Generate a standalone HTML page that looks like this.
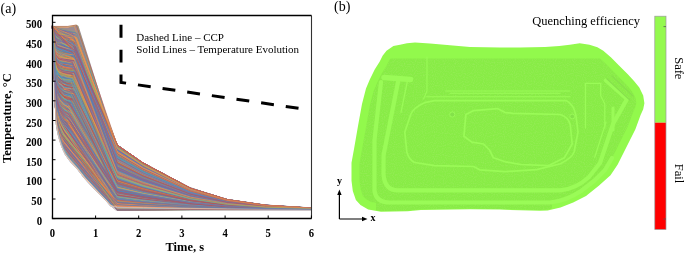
<!DOCTYPE html>
<html><head><meta charset="utf-8"><style>
html,body{margin:0;padding:0;background:#fff;width:685px;height:254px;overflow:hidden}
svg{position:absolute;left:0;top:0;display:block;will-change:transform}
text{font-family:"Liberation Serif",serif}
</style></head><body>
<svg width="685" height="254" viewBox="0 0 685 254">
<text x="0.5" y="12.6" font-size="14">(a)</text>
<path d="M52.3,27.0 L68.0,27.2 L77.0,25.0 L78.5,26.0 L116.3,145.0 L143.0,163.0 L170.0,177.0 L190.0,187.0 L227.0,199.5 L265.0,205.6 L311.0,208.5 L311.0,210.5 L116.0,210.5 L110.2,205.7 L103.9,198.6 L94.4,189.2 L84.0,178.0 L76.9,168.6 L70.6,162.3 L65.0,154.4 L62.0,148.0 L57.9,135.0 L55.5,120.0 L54.6,90.0 L54.0,60.0 L53.3,45.0 L52.3,27.0 Z" fill="#9C8C92"/>
<path d="M57.9,135.0 L62.0,148.0 L65.0,154.4 L70.6,162.3 L76.9,168.6 L84.0,178.0 L94.4,189.2 L103.9,198.6 L110.2,205.7 L115.8,210.3 L118.9,206.6 L113.7,202.1 L107.6,195.3 L107.4,195.0 L98.0,185.7 L87.8,174.8 L80.9,165.6 L80.4,165.1 L74.4,159.1 L69.3,151.9 L66.7,146.2 L62.8,133.8 L60.4,119.2 L55.5,120.0 L57.9,135.0 Z" fill="#D6CED0"/>
<g fill="none" stroke-width="0.6" stroke-linejoin="round">
<path d="M52.4,26.9l1.3,4.5l1.3,8.7l1.7,3.3l2.2,1.1l2.2,.9l3,1.3l3.5,1.4l3.5,1.4l3.9,1.6l42.2,111.7l25.9,13.0l47.5,18.3l36.7,8.2l38,4.0l46.2,2.1" stroke="#4BACC6"/>
<path d="M52.4,26.3l1.3,8.0l1.3,12.1l1.7,5.6l2.2,2.2l2.2,.5l3,.4l3.5,.4l3.5,.4l1.1,.1l45.1,101.5l25.9,14.5l47.5,20.4l36.7,9.1l38,4.5l46.2,2.3" stroke="#8064A2"/>
<path d="M52.4,26.0l1.3,6.7l1.3,12.6l1.7,6.2l2.2,1.2l2.2,.8l3,1.1l3.5,1.2l3.5,1.2l5,1.8l41.1,98.0l25.9,14.6l47.5,20.6l36.7,9.2l38,4.5l46.2,2.3" stroke="#8064A2"/>
<path d="M52.4,26.0l1.3,17.2l1.3,28.5l1.7,13.6l2.2,5.7l2.2,2.7l3,3.3l3.5,.6l3.5,1.7l1.8,.3l44.4,82.9l25.9,7.5l47.5,10.5l36.7,4.7l38,2.3l46.2,1.2" stroke="#4F81BD"/>
<path d="M52.4,26.5l1.3,25.5l1.3,47.0l1.7,23.2l2.9,12.0l1.4,4.1l4.3,6.8l4.3,5.8l4.3,5.4l4.3,5.4l6.5,8.4l6.5,8.0l6.5,8.0l6.5,7.9l6.5,8.1l6.5,7.2l25.9,.0l47.5,.0l36.7,.0l38,.0l46.2,.0" stroke="#C0504D"/>
<path d="M52.4,27.0l1.3,9.8l1.3,18.6l1.7,8.8l2.2,2.0l2.2,2.0l3,.4l3.5,.4l3.5,.4l2,.2l44.2,110.5l25.9,8.1l47.5,11.4l36.7,5.1l38,2.5l46.2,1.3" stroke="#C0504D"/>
<path d="M52.4,26.9l1.3,3.7l1.3,7.1l1.7,2.6l2.2,.8l2.2,.3l3,.4l3.5,.4l3.5,.4l4.5,.5l41.7,122.1l25.9,12.3l47.5,17.4l36.7,7.8l38,3.8l46.2,2.0" stroke="#4BACC6"/>
<path d="M52.4,26.9l1.3,5.8l1.3,12.4l1.7,4.6l2.2,.9l2.2,.5l3,.4l3.5,.4l3.5,.4l1.9,.2l44.3,104.8l25.9,14.5l47.5,20.4l36.7,9.2l38,4.5l46.2,2.3" stroke="#F79646"/>
<path d="M52.4,26.1l1.3,25.8l1.3,46.5l1.7,23.2l2.2,9.7l2.4,7.1l4.1,7.2l4.3,5.4l4.3,5.2l4.3,5.2l6.5,8.0l6.5,7.7l6.5,7.7l6.5,7.6l6.5,7.8l6.5,6.6l25.9,.7l47.5,.9l36.7,.4l38,.2l46.2,.1" stroke="#C0504D"/>
<path d="M52.4,26.6l1.3,25.5l1.3,47.1l1.7,23.1l2.2,9.9l2.2,6.4l1.3,3.5l3,6.1l4.3,5.4l4.3,5.0l4.3,5.0l6.5,7.9l6.5,7.4l6.5,7.4l6.5,7.3l6.5,7.5l6.5,5.8l25.9,.7l47.5,.9l36.7,.4l38,.2l46.2,.1" stroke="#F79646"/>
<path d="M52.4,27.0l1.3,3.7l1.3,7.7l1.7,4.1l2.2,.9l2.2,.5l3,.7l3.5,.8l3.5,.8l3.6,.9l42.6,115.5l25.9,13.0l47.5,18.4l36.7,8.2l38,4.1l46.2,2.1" stroke="#C0504D"/>
<path d="M52.4,26.7l1.3,17.6l1.3,29.8l1.7,15.0l2.2,5.8l2.2,3.2l3,3.7l3.5,.7l2.6,1.1l47.1,87.3l25.9,5.1l47.5,7.2l36.7,3.2l38,1.6l46.2,.8" stroke="#F79646"/>
<path d="M52.4,26.4l1.3,12.5l1.3,19.6l1.7,10.6l2.2,2.8l2.2,.8l3,1.8l3.5,.1l3.5,.1l2.7,.1l43.5,107.3l25.9,7.6l47.5,10.7l36.7,4.8l38,2.4l46.2,1.2" stroke="#8064A2"/>
<path d="M52.4,26.3l1.3,20.2l1.3,37.5l1.7,17.8l2.2,7.3l2.2,3.3l3,4.9l1.8,1.1l51.3,85.2l25.9,1.6l47.5,2.2l36.7,1.0l38,.5l46.2,.3" stroke="#4F81BD"/>
<path d="M52.4,26.8l1.3,10.6l1.3,18.3l1.7,7.8l2.2,2.8l2.2,1.2l3,1.2l3.5,.6l3.5,.6l1.3,.2l44.9,100.1l25.9,10.9l47.5,15.4l36.7,6.9l38,3.4l46.2,1.8" stroke="#F79646"/>
<path d="M52.4,25.9l1.3,13.3l1.3,22.9l1.7,10.7l2.2,2.3l2.2,1.5l3,2.6l3.5,.6l3.5,.6l3.6,.7l42.6,103.4l25.9,6.9l47.5,9.7l36.7,4.4l38,2.1l46.2,1.1" stroke="#9BBB59"/>
<path d="M52.4,26.3l1.3,4.7l1.3,8.8l1.7,3.7l2.2,1.1l2.2,1.1l3,1.6l3.5,1.8l3.5,1.8l3.2,1.7l43,97.4l25.9,16.5l47.5,23.3l36.7,10.5l38,5.1l46.2,2.7" stroke="#C0504D"/>
<path d="M52.4,26.9l1.3,23.3l1.3,44.5l1.7,21.9l2.2,8.7l2.2,5.6l3.5,7.2l52.6,69.2l25.9,.5l47.5,.7l36.7,.3l38,.2l46.2,.1" stroke="#4BACC6"/>
<path d="M52.4,26.8l1.3,.6l1.3,2.0l1.7,.9l2.2,1.1l2.2,1.1l3,1.5l3.5,1.8l3.5,1.8l1.8,.9l44.3,114.9l25.9,15.6l47.5,22.1l36.7,9.9l38,4.9l46.2,2.5" stroke="#C0504D"/>
<path d="M52.4,26.3l1.3,20.0l1.3,35.7l1.7,18.8l2.2,6.6l2.2,4.4l3,3.9l4.2,3.2l48.9,69.4l25.9,5.8l47.5,8.2l36.7,3.7l38,1.8l46.2,.9" stroke="#4F81BD"/>
<path d="M52.4,26.9l1.3,1.3l1.3,2.8l1.7,1.8l2.2,2.2l2.2,2.2l3,3.1l3.5,3.5l3.5,3.5l3,3.1l43.2,97.6l25.9,17.2l47.5,24.2l36.7,10.9l38,5.3l46.2,2.8" stroke="#4BACC6"/>
<path d="M52.4,26.7l1.3,20.8l1.3,37.8l1.7,17.9l2.2,7.3l2.2,5.0l3,3.9l3.5,3.6l2.6,.7l47,75.4l25.9,2.8l47.5,4.0l36.7,1.8l38,.9l46.2,.5" stroke="#8064A2"/>
<path d="M52.4,26.1l1.3,1.4l1.3,2.0l1.7,.9l2.2,1.1l2.2,1.1l3,1.6l3.5,1.8l3.5,1.8l3.2,1.7l42.9,117.2l25.9,14.7l47.5,20.7l36.7,9.3l38,4.6l46.2,2.4" stroke="#F79646"/>
<path d="M52.4,26.1l1.3,21.5l1.3,36.8l1.7,18.2l2.2,7.2l2.2,5.6l3,3.8l2.8,3.0l50.3,78.0l25.9,2.5l47.5,3.5l36.7,1.6l38,.8l46.2,.4" stroke="#4BACC6"/>
<path d="M52.4,26.7l1.3,14.5l1.3,27.7l1.7,13.0l2.2,4.3l2.2,3.7l3,2.6l3.5,.7l3.2,1.3l46.5,84.5l25.9,8.4l47.5,11.9l36.7,5.3l38,2.6l46.2,1.4" stroke="#8064A2"/>
<path d="M52.4,26.6l1.3,16.3l1.3,29.5l1.7,14.3l2.2,6.5l2.2,3.2l3,2.5l3.5,1.9l3.5,.4l1,.6l45.2,90.3l25.9,4.8l47.5,6.7l36.7,3.0l38,1.5l46.2,.8" stroke="#9BBB59"/>
<path d="M52.4,26.5l1.3,19.3l1.3,34.8l1.7,17.5l2.2,5.4l2.2,4.9l3,4.2l3.1,1.6l49.9,83.1l25.9,3.4l47.5,4.7l36.7,2.1l38,1.0l46.2,.5" stroke="#C0504D"/>
<path d="M52.4,26.0l1.3,10.1l1.3,18.0l1.7,8.7l2.2,2.4l2.2,.8l3,.6l3.5,1.0l4.1,.2l45.5,106.7l25.9,9.7l47.5,13.6l36.7,6.1l38,3.0l46.2,1.6" stroke="#C0504D"/>
<path d="M52.4,26.3l1.3,20.2l1.3,34.5l1.7,16.2l2.2,6.8l2.2,5.0l3,3.5l3.5,2.4l2.3,.9l47.4,79.1l25.9,4.0l47.5,5.7l36.7,2.5l38,1.2l46.2,.6" stroke="#4BACC6"/>
<path d="M52.4,26.7l1.3,8.6l1.3,17.4l1.7,7.5l2.2,1.9l2.2,1.6l3,.2l3.5,1.3l3.5,.2l3.3,.2l42.9,111.9l25.9,8.9l47.5,12.5l36.7,5.6l38,2.8l46.2,1.4" stroke="#4F81BD"/>
<path d="M52.4,26.6l1.3,7.5l1.3,14.7l1.7,5.8l2.2,2.3l2.2,.5l3,1.0l3.5,.8l3.5,.8l4.9,1.1l41.3,102.4l25.9,12.8l47.5,18.1l36.7,8.1l38,4.0l46.2,2.1" stroke="#8064A2"/>
<path d="M52.4,26.5l1.3,.9l1.3,2.1l1.7,2.0l2.2,2.5l2.2,2.5l3,3.4l3.5,3.9l3.5,3.9l5.3,6.0l40.9,91.5l25.9,17.9l47.5,25.3l36.7,11.3l38,5.6l46.2,2.9" stroke="#4F81BD"/>
<path d="M52.4,26.0l1.3,5.3l1.3,8.4l1.7,3.4l2.2,1.3l2.2,.7l3,1.0l3.5,1.1l3.5,1.1l5.6,1.8l40.6,114.6l25.9,12.4l47.5,17.5l36.7,7.9l38,3.9l46.2,2.0" stroke="#F79646"/>
<path d="M52.4,26.6l1.3,5.2l1.3,8.9l1.7,5.0l2.2,.9l2.2,.7l3,1.0l3.5,1.2l3.5,1.2l2.2,.7l44,118.9l25.9,10.9l47.5,15.4l36.7,6.9l38,3.4l46.2,1.8" stroke="#4F81BD"/>
<path d="M52.4,26.2l1.3,1.4l1.3,1.9l1.7,1.3l2.2,1.7l2.2,1.7l3,2.3l3.5,2.7l3.5,2.7l1.6,1.3l44.5,105.2l25.9,17.1l47.5,24.1l36.7,10.8l38,5.3l46.2,2.7" stroke="#F79646"/>
<path d="M52.4,26.4l1.3,5.5l1.3,10.7l1.7,4.2l2.2,1.3l2.2,1.3l3,1.9l3.5,2.2l3.5,2.2l5.7,3.6l40.5,103.4l25.9,13.0l47.5,18.3l36.7,8.2l38,4.0l46.2,2.1" stroke="#4BACC6"/>
<path d="M52.4,27.1l1.3,10.7l1.3,17.6l1.7,9.0l2.2,3.2l2.2,2.1l3,.7l3.5,.3l3.5,.2l1.2,.1l45,98.7l25.9,11.1l47.5,15.7l36.7,7.0l38,3.5l46.2,1.8" stroke="#4F81BD"/>
<path d="M52.4,27.0l1.3,7.1l1.3,13.2l1.7,7.2l2.2,1.7l2.2,.4l3,.6l3.5,.7l3.5,.7l4.3,.8l41.9,101.0l25.9,13.7l47.5,19.3l36.7,8.6l38,4.2l46.2,2.2" stroke="#F79646"/>
<path d="M52.4,26.5l1.3,.7l1.3,1.9l1.7,1.0l2.2,1.2l2.2,1.2l3,1.7l3.5,2.0l3.5,2.0l2.8,1.6l43.4,117.3l25.9,14.6l47.5,20.5l36.7,9.2l38,4.5l46.2,2.3" stroke="#F79646"/>
<path d="M52.4,26.1l1.3,7.7l1.3,13.8l1.7,6.1l2.2,1.2l2.2,.8l3,1.1l3.5,1.3l3.5,1.3l2.1,.8l44.1,108.7l25.9,11.3l47.5,15.9l36.7,7.1l38,3.5l46.2,1.8" stroke="#8064A2"/>
<path d="M52.4,26.0l1.3,12.7l1.3,22.7l1.7,10.3l2.2,3.2l2.2,1.0l3,2.2l3.5,.9l3.5,.2l4.3,.3l41.9,92.2l25.9,10.5l47.5,14.8l36.7,6.6l38,3.3l46.2,1.7" stroke="#C0504D"/>
<path d="M52.4,26.3l1.3,7.2l1.3,12.2l1.7,5.9l2.2,1.7l2.2,.6l3,.8l3.5,.3l3.5,.3l2.2,.2l44,112.5l25.9,11.5l47.5,16.3l36.7,7.3l38,3.6l46.2,1.9" stroke="#8064A2"/>
<path d="M52.4,26.1l1.3,5.9l1.3,10.5l1.7,3.8l2.2,1.8l2.2,.4l3,.6l3.5,.7l3.5,.7l1.7,.4l44.5,112.3l25.9,12.9l47.5,18.1l36.7,8.1l38,4.0l46.2,2.1" stroke="#F79646"/>
<path d="M52.4,25.9l.9,16.8l.9,22.0l.9,36.7l1.3,21.9l1.3,8.1l1.7,6.5l1.7,5.5l2.2,5.7l2.2,4.4l4.3,6.2l4.3,4.8l4.3,4.9l6.5,8.5l6.5,7.1l6.5,6.8l6.5,6.6l6.5,7.3l6.5,1.5l25.9,.5l47.5,.7l36.7,.3l38,.1l46.2,.1" stroke="#FBC8A0"/>
<path d="M52.4,26.4l1.3,14.8l1.3,27.6l1.7,12.7l2.2,3.4l2.2,2.1l3,2.6l3.5,.7l3.5,.7l1.8,.9l44.4,98.2l25.9,5.3l47.5,7.5l36.7,3.4l38,1.7l46.2,.9" stroke="#F79646"/>
<path d="M52.4,26.5l1.3,16.1l1.3,30.3l1.7,13.2l2.2,5.8l2.2,1.7l3,3.2l3.5,2.0l2.5,.3l47.2,93.9l25.9,4.5l47.5,6.4l36.7,2.9l38,1.4l46.2,.7" stroke="#C0504D"/>
<path d="M52.4,26.5l1.3,19.0l1.3,34.1l1.7,15.5l2.2,6.1l2.2,3.9l3,4.7l3.5,1.8l1.3,.1l48.4,80.7l25.9,4.7l47.5,6.6l36.7,3.0l38,1.5l46.2,.8" stroke="#4F81BD"/>
<path d="M52.4,26.9l1.3,.4l1.3,1.8l1.7,1.2l2.2,1.5l2.2,1.5l3,2.0l3.5,2.3l3.5,2.3l4.4,3.0l41.8,102.4l25.9,17.9l47.5,25.3l36.7,11.3l38,5.6l46.2,2.9" stroke="#8064A2"/>
<path d="M52.4,26.7l1.3,11.3l1.3,22.1l1.7,9.9l2.2,4.1l2.2,1.4l3,1.6l3.5,1.0l3.9,.4l45.7,107.8l25.9,6.4l47.5,9.1l36.7,4.1l38,2.0l46.2,1.0" stroke="#4BACC6"/>
<path d="M52.4,26.2l1.3,22.1l1.3,39.0l1.7,19.0l2.2,7.1l2.2,4.6l3,4.9l3.5,3.8l1.3,.7l48.3,76.0l25.9,1.6l47.5,2.3l36.7,1.0l38,.5l46.2,.3" stroke="#9BBB59"/>
<path d="M52.4,26.6l1.3,6.3l1.3,10.7l1.7,4.3l2.2,1.2l2.2,.6l3,.8l3.5,.9l3.5,.9l3.5,.9l42.7,120.0l25.9,10.1l47.5,14.2l36.7,6.4l38,3.1l46.2,1.6" stroke="#4BACC6"/>
<path d="M52.4,27.0l1.3,4.2l1.3,8.8l1.7,3.8l2.2,1.0l2.2,.8l3,1.2l3.5,1.3l3.5,1.3l1.5,.6l44.7,113.1l25.9,12.9l47.5,18.2l36.7,8.2l38,4.0l46.2,2.1" stroke="#8064A2"/>
<path d="M52.4,26.3l1.3,10.7l1.3,18.9l1.7,8.6l2.2,3.4l2.2,1.3l3,.4l3.5,1.2l3.5,.5l2.5,.4l43.7,111.1l25.9,7.4l47.5,10.4l36.7,4.7l38,2.3l46.2,1.2" stroke="#C0504D"/>
<path d="M52.4,26.0l1.3,13.3l1.3,23.7l1.7,9.7l2.2,5.6l2.2,.5l3,1.7l3.5,1.1l3.5,.2l46.1,105.5l25.9,6.1l47.5,8.6l36.7,3.9l38,1.9l46.2,1.0" stroke="#C0504D"/>
<path d="M52.4,26.0l1.3,14.9l1.3,26.3l1.7,11.7l2.2,5.2l2.2,1.8l3,2.7l3.5,1.8l3.5,.5l3.5,.5l42.7,87.2l25.9,8.6l47.5,12.1l36.7,5.4l38,2.7l46.2,1.4" stroke="#4F81BD"/>
<path d="M52.4,26.8l1.3,21.9l1.3,41.2l1.7,20.4l2.2,8.4l2.2,5.0l3,5.2l53.1,65.1l25.9,4.3l47.5,6.0l36.7,2.7l38,1.3l46.2,.7" stroke="#8064A2"/>
<path d="M52.4,26.2l1.3,20.7l1.3,36.1l1.7,17.5l2.2,7.5l2.2,3.1l3,5.5l2.9,1.7l50.1,85.1l25.9,1.6l47.5,2.3l36.7,1.0l38,.5l46.2,.3" stroke="#9BBB59"/>
<path d="M52.4,27.0l1.3,19.3l1.3,34.4l1.7,16.7l2.2,6.2l2.2,4.6l3,2.7l3.3,3.1l49.8,87.5l25.9,2.2l47.5,3.1l36.7,1.4l38,.7l46.2,.3" stroke="#4F81BD"/>
<path d="M52.4,26.0l1.3,18.3l1.3,30.1l1.7,15.3l2.2,6.0l2.2,2.7l3,2.4l3.5,3.1l2,.2l47.7,92.9l25.9,3.4l47.5,4.8l36.7,2.2l38,1.1l46.2,.6" stroke="#4BACC6"/>
<path d="M52.4,26.0l1.3,14.0l1.3,26.7l1.7,12.2l2.2,4.4l2.2,2.0l3,2.4l3.5,.7l3.5,.3l2.9,.3l43.3,87.5l25.9,9.1l47.5,12.9l36.7,5.8l38,2.8l46.2,1.5" stroke="#8064A2"/>
<path d="M52.4,26.7l1.3,19.2l1.3,35.0l1.7,17.6l2.2,5.8l2.2,3.7l3,5.1l4,1.9l49.1,80.3l25.9,3.8l47.5,5.4l36.7,2.4l38,1.2l46.2,.6" stroke="#4F81BD"/>
<path d="M52.4,27.1l1.3,13.3l1.3,26.7l1.7,12.1l2.2,5.8l2.2,2.5l3,1.2l3.5,1.6l3.5,.2l2.5,.1l43.7,89.5l25.9,8.2l47.5,11.5l36.7,5.2l38,2.5l46.2,1.3" stroke="#8064A2"/>
<path d="M52.4,26.1l1.3,6.2l1.3,9.7l1.7,3.5l2.2,1.4l2.2,.3l3,.7l3.5,.4l3.5,.4l4.3,.5l41.9,112.0l25.9,13.4l47.5,19.0l36.7,8.5l38,4.2l46.2,2.2" stroke="#4F81BD"/>
<path d="M52.4,26.1l1.3,8.6l1.3,15.8l1.7,7.6l2.2,2.2l2.2,.6l3,.9l3.5,.9l3.5,.9l3.2,.9l43,115.3l25.9,8.2l47.5,11.6l36.7,5.2l38,2.6l46.2,1.3" stroke="#C0504D"/>
<path d="M52.4,26.0l1.3,8.2l1.3,12.1l1.7,5.4l2.2,2.2l2.2,.9l3,1.3l3.5,1.4l3.5,1.4l2.3,1.0l43.9,113.0l25.9,10.1l47.5,14.3l36.7,6.4l38,3.1l46.2,1.6" stroke="#C0504D"/>
<path d="M52.4,25.9l1.3,17.2l1.3,30.4l1.7,15.7l2.2,4.8l2.2,3.5l3,3.2l3.5,.8l3,1.3l46.6,94.0l25.9,3.4l47.5,4.9l36.7,2.2l38,1.1l46.2,.6" stroke="#F79646"/>
<path d="M52.4,26.5l1.3,.1l1.3,.5l1.7,.5l2.2,.6l2.2,.6l3,.8l3.5,.9l3.5,.9l5.1,1.4l41.1,116.0l25.9,16.9l47.5,23.9l36.7,10.7l38,5.3l46.2,2.7" stroke="#8064A2"/>
<path d="M52.4,26.1l1.3,1.9l1.3,3.4l1.7,1.4l2.2,1.8l2.2,1.8l3,2.5l3.5,2.9l3.5,2.9l3.8,3.1l42.4,97.6l25.9,17.9l47.5,25.3l36.7,11.3l38,5.6l46.2,2.9" stroke="#9BBB59"/>
<path d="M52.4,25.9l1.3,24.3l1.3,42.9l1.7,20.4l2.2,9.0l2.2,5.6l3,5.9l2.7,2.8l50.3,59.8l25.9,3.5l47.5,5.0l36.7,2.2l38,1.1l46.2,.6" stroke="#9BBB59"/>
<path d="M52.4,26.4l1.3,22.4l1.3,41.2l1.7,20.6l2.2,8.2l2.2,5.1l2.9,5.9l53.2,78.2l25.9,.3l47.5,.5l36.7,.2l38,.1l46.2,.1" stroke="#F79646"/>
<path d="M52.4,26.8l1.3,13.1l1.3,23.1l1.7,9.4l2.2,4.3l2.2,1.5l3,2.3l3.5,.2l3.5,.2l4.2,.2l42,104.2l25.9,6.7l47.5,9.5l36.7,4.3l38,2.1l46.2,1.1" stroke="#4BACC6"/>
<path d="M52.4,26.2l1.3,2.2l1.3,4.3l1.7,1.2l2.2,1.0l2.2,1.0l3,1.5l3.5,1.7l3.5,1.7l1.6,.8l44.6,112.9l25.9,15.3l47.5,21.7l36.7,9.7l38,4.8l46.2,2.5" stroke="#F79646"/>
<path d="M52.4,25.9l1.3,5.7l1.3,8.4l1.7,4.8l2.2,.7l2.2,.7l3,.9l3.5,1.1l3.5,1.1l4.8,1.5l41.4,116.1l25.9,11.8l47.5,16.7l36.7,7.5l38,3.7l46.2,1.9" stroke="#9BBB59"/>
<path d="M52.4,26.1l1.3,12.3l1.3,22.7l1.7,8.8l2.2,3.7l2.2,1.7l3,2.5l3.5,.7l4,.8l45.6,105.9l25.9,6.7l47.5,9.5l36.7,4.3l38,2.1l46.2,1.1" stroke="#C0504D"/>
<path d="M52.4,27.0l1.3,3.9l1.3,9.1l1.7,4.3l2.2,.7l2.2,.7l3,.9l3.5,1.0l3.5,1.0l4.2,1.3l42,122.1l25.9,10.4l47.5,14.7l36.7,6.6l38,3.2l46.2,1.7" stroke="#F79646"/>
<path d="M52.4,26.1l1.3,26.0l1.3,47.4l1.7,23.5l2.2,9.7l2.2,6.5l.9,2.6l3.4,7.0l4.3,5.3l4.3,4.8l4.3,4.9l6.5,7.7l6.5,7.2l6.5,7.1l6.5,7.0l6.5,7.3l6.5,4.4l25.9,1.3l47.5,1.8l36.7,.8l38,.4l46.2,.2" stroke="#4F81BD"/>
<path d="M52.4,26.8l1.3,5.5l1.3,12.0l1.7,5.0l2.2,1.6l2.2,.8l3,1.1l3.5,1.2l3.5,1.2l1.2,.4l44.9,104.3l25.9,13.8l47.5,19.5l36.7,8.7l38,4.3l46.2,2.2" stroke="#8064A2"/>
<path d="M52.4,26.0l1.3,11.8l1.3,18.3l1.7,9.0l2.2,3.5l2.2,.3l3,.9l3.5,.5l3.5,.5l3.1,.5l43.1,109.2l25.9,8.0l47.5,11.3l36.7,5.1l38,2.5l46.2,1.3" stroke="#F79646"/>
<path d="M52.4,26.4l1.3,1.1l1.3,2.4l1.7,1.5l2.2,1.8l2.2,1.8l3,2.6l3.5,2.9l3.5,2.9l3.3,2.8l42.9,99.3l25.9,17.8l47.5,25.1l36.7,11.3l38,5.5l46.2,2.9" stroke="#4BACC6"/>
<path d="M52.4,25.9l1.3,14.7l1.3,25.3l1.7,12.1l2.2,2.8l2.2,2.8l3,1.8l3.5,.3l3.3,1.7l46.3,93.7l25.9,7.9l47.5,11.1l36.7,5.0l38,2.4l46.2,1.3" stroke="#8064A2"/>
<path d="M52.4,26.5l1.3,13.7l1.3,28.5l1.7,11.9l2.2,3.8l2.2,2.7l3,3.7l3.5,.8l3.5,.3l1,.1l45.2,89.8l25.9,7.6l47.5,10.8l36.7,4.8l38,2.4l46.2,1.2" stroke="#8064A2"/>
<path d="M52.4,26.6l1.3,13.8l1.3,23.1l1.7,11.3l2.2,3.6l2.2,3.2l3,1.3l3.5,.7l3.5,.7l3.5,.7l42.7,98.3l25.9,7.2l47.5,10.2l36.7,4.6l38,2.3l46.2,1.2" stroke="#C0504D"/>
<path d="M52.4,26.2l1.3,1.8l1.3,3.8l1.7,1.4l2.2,1.8l2.2,1.8l3,2.5l3.5,2.9l3.5,2.9l2.4,1.9l43.8,108.3l25.9,15.1l47.5,21.3l36.7,9.5l38,4.7l46.2,2.4" stroke="#4F81BD"/>
<path d="M52.4,26.3l1.3,9.6l1.3,16.7l1.7,7.0l2.2,1.8l2.2,.8l3,1.9l3.5,.4l4.2,.5l45.5,116.9l25.9,7.6l47.5,10.8l36.7,4.8l38,2.4l46.2,1.2" stroke="#8064A2"/>
<path d="M52.4,26.0l1.3,13.3l1.3,23.3l1.7,9.3l2.2,5.3l2.2,1.9l3,.2l3.5,.5l3.5,.6l3,.2l43.2,92.4l25.9,10.1l47.5,14.3l36.7,6.4l38,3.1l46.2,1.6" stroke="#4F81BD"/>
<path d="M52.4,26.0l1.3,25.8l1.3,47.0l1.7,23.2l2.2,9.7l2.2,5.9l1.8,4.7l2.5,4.8l4.3,5.3l4.3,5.0l4.3,5.0l6.5,7.8l6.5,7.5l6.5,7.4l6.5,7.3l6.5,7.5l6.5,6.1l25.9,.9l47.5,1.3l36.7,.6l38,.3l46.2,.1" stroke="#8064A2"/>
<path d="M52.4,26.6l1.3,25.7l1.3,49.2l1.7,24.1l2.2,10.2l1.8,5.4l4.7,10.9l4.3,5.8l4.3,4.8l4.3,4.9l6.5,8.2l6.5,7.2l6.5,7.0l6.5,6.8l6.5,7.3l6.5,3.8l25.9,.4l47.5,.6l36.7,.3l38,.1l46.2,.1" stroke="#C0504D"/>
<path d="M52.4,26.8l1.3,1.7l1.3,4.4l1.7,1.5l2.2,.9l2.2,.9l3,1.2l3.5,1.4l3.5,1.4l1.9,.8l44.3,121.5l25.9,13.1l47.5,18.4l36.7,8.3l38,4.1l46.2,2.1" stroke="#4F81BD"/>
<path d="M52.4,26.1l1.3,25.5l1.3,44.9l1.7,22.4l2.2,9.4l2.7,8.0l55.6,72.5l25.9,.2l47.5,.2l36.7,.1l38,.1l46.2,.0" stroke="#F79646"/>
<path d="M52.4,25.9l1.3,18.4l1.3,32.1l1.7,15.6l2.2,5.9l2.2,2.3l3,3.9l3.5,2.4l1.7,.3l48,79.8l25.9,6.3l47.5,8.9l36.7,4.0l38,2.0l46.2,1.0" stroke="#4F81BD"/>
<path d="M52.4,26.1l1.3,22.4l1.3,39.4l1.7,19.7l2.2,7.4l2.2,4.2l3,6.1l1.6,.9l51.5,71.4l25.9,3.2l47.5,4.6l36.7,2.0l38,1.0l46.2,.5" stroke="#C0504D"/>
<path d="M52.4,26.8l1.3,14.2l1.3,28.2l1.7,14.0l2.2,3.7l2.2,3.0l3,2.0l3.5,.6l3.5,2.0l3.2,.4l42.9,88.7l25.9,7.2l47.5,10.1l36.7,4.5l38,2.2l46.2,1.2" stroke="#F79646"/>
<path d="M52.4,26.5l1.3,24.2l1.3,44.4l1.7,21.5l2.2,9.1l2.2,6.1l3,5.6l53.2,63.1l25.9,2.4l47.5,3.4l36.7,1.5l38,.8l46.2,.4" stroke="#4F81BD"/>
<path d="M52.4,27.0l1.3,4.2l1.3,9.4l1.7,4.6l2.2,1.0l2.2,.4l3,.2l3.5,.3l3.5,.3l2.5,.2l43.7,110.0l25.9,14.4l47.5,20.3l36.7,9.1l38,4.5l46.2,2.3" stroke="#8064A2"/>
<path d="M52.4,26.0l1.3,19.0l1.3,33.3l1.7,16.0l2.2,7.2l2.2,3.9l3,3.3l3.5,2.1l3,1.4l46.6,75.7l25.9,6.0l47.5,8.4l36.7,3.8l38,1.9l46.2,1.0" stroke="#4F81BD"/>
<path d="M52.4,26.9l1.3,22.8l1.3,42.3l1.7,20.1l2.2,8.4l2.2,5.9l3.1,5.4l53,77.9l25.9,-.1l47.5,-.2l36.7,-.1l38,-.0l46.2,-.0" stroke="#F79646"/>
<path d="M52.4,25.9l1.3,24.3l1.3,43.5l1.7,21.5l2.2,8.3l2.2,5.8l3,6.1l2.1,3.0l51,67.2l25.9,1.0l47.5,1.4l36.7,.6l38,.3l46.2,.2" stroke="#8064A2"/>
<path d="M52.4,27.0l.9,17.1l.9,22.0l.9,36.7l1.3,21.9l1.3,8.1l1.7,6.5l1.7,5.5l2.2,5.6l2.2,4.4l4.3,6.1l4.3,4.7l4.3,4.8l6.5,8.4l6.5,7.0l6.5,6.7l6.5,6.5l6.5,7.2l6.5,.2l25.9,.8l47.5,1.2l36.7,.5l38,.3l46.2,.1" stroke="#A8D8E6"/>
<path d="M52.4,26.6l1.3,23.2l1.3,42.0l1.7,20.2l2.2,8.7l2.2,4.6l2.6,5.1l53.5,64.5l25.9,4.0l47.5,5.6l36.7,2.5l38,1.2l46.2,.6" stroke="#4F81BD"/>
<path d="M52.4,26.0l1.3,14.4l1.3,27.1l1.7,12.4l2.2,4.6l2.2,3.7l3,2.0l3.5,.5l3.5,.2l1.5,.1l44.7,90.1l25.9,7.8l47.5,11.1l36.7,5.0l38,2.4l46.2,1.3" stroke="#C0504D"/>
<path d="M52.4,26.4l1.3,11.5l1.3,19.4l1.7,10.8l2.2,3.1l2.2,1.9l3,1.2l3.5,.1l3.5,.1l1.4,.0l44.8,104.2l25.9,8.5l47.5,12.0l36.7,5.4l38,2.7l46.2,1.4" stroke="#4BACC6"/>
<path d="M52.4,27.0l1.3,17.2l1.3,33.9l1.7,16.9l2.2,5.7l2.2,4.2l3,2.9l3.5,3.0l2.6,.2l47,84.0l25.9,4.0l47.5,5.6l36.7,2.5l38,1.2l46.2,.6" stroke="#F79646"/>
<path d="M52.4,26.3l1.3,24.7l1.3,45.1l1.7,21.9l2.2,9.4l2.2,6.0l3,6.3l1.1,1.4l52,68.8l25.9,-.2l47.5,-.3l36.7,-.1l38,-.1l46.2,-.0" stroke="#F79646"/>
<path d="M52.4,26.8l1.3,-.2l1.3,1.3l1.7,1.8l2.2,2.2l2.2,2.2l3,3.1l3.5,3.6l3.5,3.6l1.8,1.8l44.4,98.8l25.9,17.9l47.5,25.3l36.7,11.3l38,5.6l46.2,2.9" stroke="#4F81BD"/>
<path d="M52.4,26.3l1.3,15.2l1.3,28.1l1.7,12.2l2.2,4.3l2.2,2.9l3,3.4l3.5,1.5l3.5,.3l1.3,.1l44.8,89.7l25.9,7.0l47.5,9.9l36.7,4.4l38,2.2l46.2,1.1" stroke="#4F81BD"/>
<path d="M52.4,26.1l1.3,1.8l1.3,2.6l1.7,1.1l2.2,1.4l2.2,1.4l3,2.0l3.5,2.2l3.5,2.2l3.9,2.5l42.3,111.3l25.9,15.3l47.5,21.5l36.7,9.7l38,4.7l46.2,2.5" stroke="#C0504D"/>
<path d="M52.4,26.7l1.3,6.8l1.3,11.1l1.7,6.3l2.2,1.2l2.2,.6l3,.9l3.5,1.0l3.5,1.0l3.8,1.1l42.4,108.8l25.9,12.2l47.5,17.2l36.7,7.7l38,3.8l46.2,2.0" stroke="#4F81BD"/>
<path d="M52.4,26.9l1.3,10.0l1.3,18.6l1.7,9.2l2.2,2.5l2.2,.9l3,1.9l3.5,.4l3.5,.4l3.5,.4l42.7,106.7l25.9,8.7l47.5,12.3l36.7,5.5l38,2.7l46.2,1.4" stroke="#F79646"/>
<path d="M52.4,26.3l1.3,13.6l1.3,23.8l1.7,10.6l2.2,4.0l2.2,3.1l3,.5l3.5,.6l3.5,.9l2.1,.3l44.1,94.4l25.9,8.7l47.5,12.3l36.7,5.5l38,2.7l46.2,1.4" stroke="#C0504D"/>
<path d="M52.4,26.3l1.3,7.4l1.3,13.1l1.7,6.1l2.2,1.4l2.2,1.2l3,.2l3.5,.3l3.5,.3l2.8,.2l43.4,101.7l25.9,14.3l47.5,20.2l36.7,9.0l38,4.4l46.2,2.3" stroke="#4BACC6"/>
<path d="M52.4,26.3l1.3,10.7l1.3,20.3l1.7,8.0l2.2,3.9l2.2,2.1l3,.5l3.5,.4l3.5,.1l2.9,.1l43.3,107.7l25.9,8.1l47.5,11.5l36.7,5.1l38,2.5l46.2,1.3" stroke="#9BBB59"/>
<path d="M52.4,26.9l1.3,1.4l1.3,4.3l1.7,1.0l2.2,.7l2.2,.6l3,.8l3.5,.9l3.5,.9l4.7,1.2l41.5,115.7l25.9,15.3l47.5,21.7l36.7,9.7l38,4.8l46.2,2.5" stroke="#9BBB59"/>
<path d="M52.4,26.9l1.3,4.7l1.3,7.9l1.7,3.6l2.2,.8l2.2,.8l3,1.1l3.5,1.3l3.5,1.3l2.9,1.1l43.3,119.6l25.9,11.2l47.5,15.8l36.7,7.1l38,3.5l46.2,1.8" stroke="#C0504D"/>
<path d="M52.4,26.7l1.3,1.4l1.3,3.4l1.7,1.7l2.2,2.1l2.2,2.1l3,3.0l3.5,3.4l3.5,3.4l3.9,3.8l42.3,94.2l25.9,17.9l47.5,25.3l36.7,11.3l38,5.6l46.2,2.9" stroke="#4F81BD"/>
<path d="M52.4,26.3l1.3,5.0l1.3,7.5l1.7,4.0l2.2,1.4l2.2,1.4l3,1.9l3.5,2.2l3.5,2.2l3.5,2.2l42.7,113.7l25.9,11.6l47.5,16.4l36.7,7.3l38,3.6l46.2,1.9" stroke="#8064A2"/>
<path d="M52.4,26.0l1.3,21.3l1.3,37.6l1.7,18.5l2.2,7.3l2.2,4.5l3,4.1l2.5,2.6l50.5,74.8l25.9,3.5l47.5,4.9l36.7,2.2l38,1.1l46.2,.6" stroke="#4BACC6"/>
<path d="M52.4,27.0l1.3,8.6l1.3,18.4l1.7,8.4l2.2,2.3l2.2,.6l3,.1l3.5,1.3l3.5,.1l5.3,.1l40.9,98.2l25.9,12.4l47.5,17.4l36.7,7.8l38,3.8l46.2,2.0" stroke="#4BACC6"/>
<path d="M52.4,27.0l1.3,17.1l1.3,32.3l1.7,16.1l2.2,5.5l2.2,4.0l3,4.2l3.5,1.7l1.8,.6l47.9,91.3l25.9,2.6l47.5,3.7l36.7,1.7l38,.8l46.2,.4" stroke="#C0504D"/>
<path d="M52.4,26.9l1.3,24.0l1.3,44.5l1.7,22.4l2.2,9.0l2.2,6.2l3,6.1l1.4,2.2l51.7,59.0l25.9,2.5l47.5,3.5l36.7,1.6l38,.8l46.2,.4" stroke="#4F81BD"/>
<path d="M52.4,26.5l1.3,21.7l1.3,39.7l1.7,19.1l2.2,8.7l2.2,4.1l3,5.7l3.5,3.3l49.6,74.2l25.9,1.8l47.5,2.5l36.7,1.1l38,.5l46.2,.3" stroke="#8064A2"/>
<path d="M52.4,26.9l1.3,13.6l1.3,23.6l1.7,10.1l2.2,4.6l2.2,1.9l3,.8l3.5,1.2l3.4,.7l46.2,91.0l25.9,9.8l47.5,13.8l36.7,6.2l38,3.0l46.2,1.6" stroke="#8064A2"/>
<path d="M52.4,26.3l1.3,10.8l1.3,19.0l1.7,8.6l2.2,3.0l2.2,2.4l3,.4l3.5,1.0l3.5,.5l5,.7l41.1,102.6l25.9,9.5l47.5,13.4l36.7,6.0l38,2.9l46.2,1.5" stroke="#F79646"/>
<path d="M52.4,26.8l1.3,17.5l1.3,31.6l1.7,15.3l2.2,6.8l2.2,2.9l3,3.9l3.5,2.1l3.1,1.7l46.6,90.4l25.9,2.9l47.5,4.0l36.7,1.8l38,.9l46.2,.5" stroke="#4BACC6"/>
<path d="M52.4,26.3l1.3,3.3l1.3,5.9l1.7,2.3l2.2,1.5l2.2,1.5l3,2.1l3.5,2.3l3.5,2.3l5.6,3.8l40.5,101.4l25.9,15.8l47.5,22.3l36.7,10.0l38,4.9l46.2,2.5" stroke="#4BACC6"/>
<path d="M52.4,26.8l1.3,10.6l1.3,19.1l1.7,9.5l2.2,2.3l2.2,1.9l3,1.9l3.5,.2l3.5,.2l2.2,.1l44,105.8l25.9,8.6l47.5,12.2l36.7,5.4l38,2.7l46.2,1.4" stroke="#4F81BD"/>
<path d="M52.4,25.9l1.3,21.6l1.3,39.5l1.7,18.8l2.2,7.7l2.2,4.8l3,3.7l3.1,2.8l50,68.3l25.9,4.5l47.5,6.3l36.7,2.8l38,1.4l46.2,.7" stroke="#4BACC6"/>
<path d="M52.4,26.6l1.3,17.8l1.3,30.0l1.7,16.2l2.2,5.4l2.2,2.3l3,3.2l3.5,2.7l.9,.1l48.8,88.9l25.9,4.5l47.5,6.3l36.7,2.8l38,1.4l46.2,.7" stroke="#4F81BD"/>
<path d="M52.4,26.1l1.3,25.8l1.3,46.1l1.7,22.6l2.2,9.5l2.2,6.2l1.8,4.2l2.5,3.5l4.3,4.9l4.3,4.9l4.3,4.9l6.5,7.4l6.5,7.3l6.5,7.3l6.5,7.3l6.5,7.3l6.5,6.7l25.9,2.0l47.5,2.9l36.7,1.3l38,.6l46.2,.3" stroke="#4BACC6"/>
<path d="M52.4,26.3l1.3,6.2l1.3,11.7l1.7,5.4l2.2,1.5l2.2,1.0l3,1.4l3.5,1.6l3.5,1.6l3,1.4l43.2,109.1l25.9,11.8l47.5,16.6l36.7,7.4l38,3.7l46.2,1.9" stroke="#4F81BD"/>
<path d="M52.4,26.8l1.3,10.5l1.3,19.7l1.7,8.7l2.2,2.2l2.2,1.1l3,2.1l3.5,.4l3.5,.4l3.2,.4l43,106.0l25.9,8.6l47.5,12.2l36.7,5.5l38,2.7l46.2,1.4" stroke="#C0504D"/>
<path d="M52.4,26.3l1.3,12.2l1.3,22.2l1.7,11.6l2.2,3.7l2.2,1.5l3,2.2l3.5,.6l3.5,.6l3.3,.5l42.8,104.6l25.9,6.5l47.5,9.2l36.7,4.1l38,2.0l46.2,1.0" stroke="#8064A2"/>
<path d="M52.4,26.4l1.3,6.9l1.3,11.6l1.7,6.6l2.2,.4l2.2,.4l3,.4l3.5,.3l3.5,.2l2.8,.1l43.4,109.1l25.9,13.1l47.5,18.4l36.7,8.3l38,4.1l46.2,2.1" stroke="#9BBB59"/>
<path d="M52.4,27.0l1.3,11.8l1.3,23.5l1.7,12.3l2.2,3.2l2.2,2.8l3,1.2l3.5,.7l3.5,.7l1,.2l45.2,101.2l25.9,6.9l47.5,9.7l36.7,4.4l38,2.1l46.2,1.1" stroke="#F79646"/>
<path d="M52.4,26.3l1.3,11.6l1.3,20.9l1.7,9.4l2.2,3.8l2.2,.6l3,1.7l3.5,.5l4.2,.3l45.4,94.8l25.9,11.0l47.5,15.5l36.7,7.0l38,3.4l46.2,1.8" stroke="#8064A2"/>
<path d="M52.4,26.8l1.3,13.8l1.3,27.9l1.7,14.1l2.2,3.0l2.2,3.5l3,2.9l3.5,.4l3.5,.4l46.2,94.8l25.9,6.0l47.5,8.5l36.7,3.8l38,1.9l46.2,1.0" stroke="#C0504D"/>
<path d="M52.4,26.1l1.3,16.6l1.3,29.6l1.7,13.5l2.2,6.0l2.2,2.8l3,3.0l3.5,1.6l4.1,.3l45.6,88.3l25.9,6.0l47.5,8.4l36.7,3.8l38,1.9l46.2,1.0" stroke="#F79646"/>
<path d="M52.4,26.2l1.3,11.0l1.3,20.7l1.7,8.0l2.2,4.1l2.2,.6l3,2.3l3.5,.6l3.5,.6l2.1,.4l44.1,104.6l25.9,8.4l47.5,11.9l36.7,5.3l38,2.6l46.2,1.4" stroke="#F79646"/>
<path d="M52.4,26.2l1.3,12.7l1.3,21.9l1.7,10.5l2.2,3.0l2.2,2.4l3,.3l3.5,1.0l4.1,.4l45.6,98.9l25.9,8.9l47.5,12.6l36.7,5.6l38,2.8l46.2,1.4" stroke="#4BACC6"/>
<path d="M52.4,26.6l1.3,.0l1.3,1.5l1.7,2.0l2.2,2.5l2.2,2.5l3,3.5l3.5,4.0l3.5,4.0l5.9,6.9l40.3,99.6l25.9,15.7l47.5,22.1l36.7,9.9l38,4.9l46.2,2.5" stroke="#8064A2"/>
<path d="M52.4,27.1l1.3,14.2l1.3,26.0l1.7,13.0l2.2,5.5l2.2,1.5l3,3.1l3.5,.2l3.5,.9l2.4,.1l43.8,92.3l25.9,7.1l47.5,10.0l36.7,4.5l38,2.2l46.2,1.1" stroke="#8064A2"/>
<path d="M52.4,26.5l1.3,15.0l1.3,27.1l1.7,12.1l2.2,4.4l2.2,2.0l3,4.0l3.5,.5l3.5,.3l46.1,101.3l25.9,4.5l47.5,6.3l36.7,2.8l38,1.4l46.2,.7" stroke="#F79646"/>
<path d="M52.4,26.5l1.3,16.5l1.3,28.2l1.7,13.2l2.2,5.2l2.2,2.6l3,2.9l3.5,1.4l3.5,.5l1.6,.2l44.6,82.7l25.9,8.2l47.5,11.5l36.7,5.2l38,2.5l46.2,1.3" stroke="#9BBB59"/>
<path d="M52.4,26.9l1.3,2.3l1.3,4.3l1.7,1.9l2.2,1.7l2.2,1.7l3,2.3l3.5,2.7l3.5,2.7l1.7,1.3l44.5,97.4l25.9,17.9l47.5,25.3l36.7,11.3l38,5.6l46.2,2.9" stroke="#8064A2"/>
<path d="M52.4,26.6l1.3,13.0l1.3,24.8l1.7,11.4l2.2,2.3l2.2,2.1l3,1.7l3.5,1.5l3.5,.1l3.4,.1l42.8,97.3l25.9,7.9l47.5,11.2l36.7,5.0l38,2.5l46.2,1.3" stroke="#8064A2"/>
<path d="M52.4,26.5l1.3,10.8l1.3,21.5l1.7,8.9l2.2,3.5l2.2,.3l3,1.7l3.5,.5l3.5,.5l1,.1l45.2,102.1l25.9,9.2l47.5,12.9l36.7,5.8l38,2.8l46.2,1.5" stroke="#C0504D"/>
<path d="M52.4,26.7l1.3,24.9l1.3,45.1l1.7,22.5l2.2,9.6l2.2,5.8l1.2,3.4l54.9,60.9l25.9,2.9l47.5,4.1l36.7,1.8l38,.9l46.2,.5" stroke="#4BACC6"/>
<path d="M52.4,26.3l1.3,8.9l1.3,15.0l1.7,7.5l2.2,1.6l2.2,1.7l3,.4l3.5,.5l3.5,.5l1.3,.2l44.9,110.9l25.9,10.0l47.5,14.1l36.7,6.3l38,3.1l46.2,1.6" stroke="#F79646"/>
<path d="M52.4,26.8l1.3,21.4l1.3,41.2l1.7,19.8l2.2,8.1l2.2,4.8l3,5.9l3.1,3.2l50,69.3l25.9,2.5l47.5,3.5l36.7,1.6l38,.8l46.2,.4" stroke="#C0504D"/>
<path d="M52.4,26.2l1.3,17.0l1.3,30.3l1.7,14.4l2.2,6.2l2.2,2.8l3,4.2l3.5,.5l1.2,.1l48.5,84.1l25.9,6.6l47.5,9.2l36.7,4.1l38,2.0l46.2,1.1" stroke="#4F81BD"/>
<path d="M52.4,26.3l1.3,25.1l1.3,45.3l1.7,22.0l2.2,9.5l2.2,6.3l1.9,4.0l54.2,65.8l25.9,1.4l47.5,1.9l36.7,.9l38,.4l46.2,.2" stroke="#C0504D"/>
<path d="M52.4,26.1l1.3,9.1l1.3,14.2l1.7,6.7l2.2,2.5l2.2,.6l3,.6l3.5,.3l3.5,.3l3.9,.3l42.2,118.3l25.9,8.5l47.5,11.9l36.7,5.4l38,2.6l46.2,1.4" stroke="#9BBB59"/>
<path d="M52.4,26.3l1.3,6.1l1.3,10.0l1.7,5.0l2.2,1.5l2.2,1.3l3,1.8l3.5,2.0l3.5,2.0l2.3,1.4l43.9,105.8l25.9,12.9l47.5,18.2l36.7,8.2l38,4.0l46.2,2.1" stroke="#8064A2"/>
<path d="M52.4,26.2l1.3,22.8l1.3,39.7l1.7,20.0l2.2,8.0l2.2,5.6l3,4.9l2.7,2.4l50.4,74.8l25.9,1.3l47.5,1.9l36.7,.8l38,.4l46.2,.2" stroke="#8064A2"/>
<path d="M52.4,26.9l1.3,12.1l1.3,24.0l1.7,11.1l2.2,2.3l2.2,2.0l3,1.9l3.5,1.5l3.3,.3l46.4,105.2l25.9,6.1l47.5,8.6l36.7,3.9l38,1.9l46.2,1.0" stroke="#4BACC6"/>
<path d="M52.4,27.0l1.3,23.8l1.3,43.9l1.7,21.2l2.2,8.9l2.2,6.1l1.4,3.4l54.8,75.6l25.9,-.2l47.5,-.3l36.7,-.1l38,-.1l46.2,-.0" stroke="#4F81BD"/>
<path d="M52.4,26.1l1.3,9.5l1.3,14.1l1.7,6.9l2.2,1.8l2.2,1.0l3,.9l3.5,1.0l3.5,1.0l5.4,1.6l40.8,108.5l25.9,10.3l47.5,14.6l36.7,6.5l38,3.2l46.2,1.7" stroke="#4BACC6"/>
<path d="M52.4,26.3l1.3,26.0l1.3,47.3l1.7,23.5l2.2,10.1l2.2,6.5l1.7,4.1l2.6,6.1l4.3,5.6l4.3,5.0l4.3,5.0l6.5,8.0l6.5,7.5l6.5,7.3l6.5,7.3l6.5,7.5l6.5,6.2l25.9,-.0l47.5,-.0l36.7,-.0l38,-.0l46.2,-.0" stroke="#4BACC6"/>
<path d="M52.4,25.9l1.3,3.0l1.3,3.9l1.7,1.8l2.2,1.7l2.2,1.7l3,2.4l3.5,2.7l3.5,2.7l3.9,3.1l42.3,111.8l25.9,13.6l47.5,19.1l36.7,8.6l38,4.2l46.2,2.2" stroke="#8064A2"/>
<path d="M52.4,27.0l1.3,-.5l1.3,1.3l1.7,1.8l2.2,2.2l2.2,2.2l3,3.1l3.5,3.5l3.5,3.5l5,5.1l41.2,107.1l25.9,14.8l47.5,20.8l36.7,9.3l38,4.6l46.2,2.4" stroke="#4F81BD"/>
<path d="M52.4,27.0l1.3,10.7l1.3,21.5l1.7,8.5l2.2,3.3l2.2,2.0l3,1.4l3.5,.4l3.7,.5l45.9,104.4l25.9,8.2l47.5,11.6l36.7,5.2l38,2.6l46.2,1.3" stroke="#F79646"/>
<path d="M52.4,26.6l1.3,10.9l1.3,21.1l1.7,8.5l2.2,4.2l2.2,.8l3,.9l3.5,.5l3.5,.5l2.9,.4l43.2,99.1l25.9,10.0l47.5,14.1l36.7,6.3l38,3.1l46.2,1.6" stroke="#8064A2"/>
<path d="M52.4,25.9l1.3,4.9l1.3,8.7l1.7,3.4l2.2,.9l2.2,.7l3,1.0l3.5,1.1l3.5,1.1l5,1.6l41.2,106.3l25.9,15.0l47.5,21.2l36.7,9.5l38,4.7l46.2,2.4" stroke="#C0504D"/>
<path d="M52.4,26.7l1.3,7.3l1.3,15.5l1.7,7.0l2.2,.3l2.2,1.8l3,.1l3.5,.2l3.5,.2l2.4,.1l43.8,103.0l25.9,13.2l47.5,18.6l36.7,8.3l38,4.1l46.2,2.1" stroke="#4BACC6"/>
<path d="M52.4,26.5l1.3,12.1l1.3,20.7l1.7,11.0l2.2,3.4l2.2,1.7l3,.1l3.5,.1l3.5,.1l3.1,.1l43.1,110.7l25.9,6.4l47.5,9.1l36.7,4.1l38,2.0l46.2,1.0" stroke="#8064A2"/>
<path d="M52.4,27.0l1.3,23.7l1.3,44.5l1.7,22.1l2.2,9.1l2.2,5.8l3,5.9l.9,1.7l52.2,69.4l25.9,.0l47.5,.0l36.7,.0l38,.0l46.2,.0" stroke="#F79646"/>
<path d="M52.4,25.9l1.3,13.4l1.3,20.4l1.7,11.5l2.2,2.8l2.2,1.8l3,1.8l3.5,.5l3.6,.6l46.1,93.7l25.9,10.3l47.5,14.5l36.7,6.5l38,3.2l46.2,1.7" stroke="#4F81BD"/>
<path d="M52.4,26.2l1.3,26.0l1.3,46.7l1.7,23.2l2.2,9.5l2.3,6.8l4.2,7.9l4.3,5.6l4.3,5.3l4.3,5.3l6.5,8.3l6.5,7.9l6.5,7.9l6.5,7.8l6.5,8.0l6.5,7.3l25.9,-.2l47.5,-.2l36.7,-.1l38,-.1l46.2,-.0" stroke="#F79646"/>
<path d="M52.4,26.5l.9,16.6l.9,22.0l.9,36.7l1.3,21.9l1.3,8.1l1.7,6.5l1.7,5.5l2.2,5.6l2.2,4.4l4.3,6.2l4.3,4.8l4.3,4.8l6.5,8.5l6.5,7.1l6.5,6.8l6.5,6.6l6.5,7.3l6.5,3.4l25.9,-.1l47.5,-.1l36.7,-.0l38,-.0l46.2,-.0" stroke="#A8D8E6"/>
<path d="M52.4,26.4l1.3,9.4l1.3,19.0l1.7,8.1l2.2,3.5l2.2,.8l3,.5l3.5,1.0l3.5,.6l2.8,.5l43.4,103.2l25.9,10.2l47.5,14.4l36.7,6.4l38,3.2l46.2,1.6" stroke="#8064A2"/>
<path d="M52.4,26.2l1.3,12.6l1.3,23.1l1.7,9.8l2.2,5.0l2.2,1.2l3,1.7l3.5,1.6l3.5,.5l4.2,.6l42,92.6l25.9,9.7l47.5,13.6l36.7,6.1l38,3.0l46.2,1.6" stroke="#4F81BD"/>
<path d="M52.4,26.4l1.3,1.4l1.3,3.0l1.7,1.2l2.2,.9l2.2,.9l3,1.3l3.5,1.4l3.5,1.4l1.9,.8l44.3,118.7l25.9,14.5l47.5,20.4l36.7,9.2l38,4.5l46.2,2.3" stroke="#9BBB59"/>
<path d="M52.4,26.8l1.3,21.2l1.3,38.1l1.7,18.4l2.2,7.4l2.2,4.5l3,4.9l2.4,2.3l50.7,77.1l25.9,2.4l47.5,3.4l36.7,1.5l38,.7l46.2,.4" stroke="#F79646"/>
<path d="M52.4,26.8l1.3,2.3l1.3,4.0l1.7,1.9l2.2,1.9l2.2,1.9l3,2.7l3.5,3.1l3.5,3.1l4.9,4.4l41.3,102.4l25.9,15.3l47.5,21.6l36.7,9.7l38,4.8l46.2,2.5" stroke="#F79646"/>
<path d="M52.4,26.7l1.3,18.8l1.3,35.5l1.7,17.7l2.2,6.9l2.2,4.5l3,3.4l3,1.7l50.1,73.7l25.9,5.7l47.5,8.0l36.7,3.6l38,1.8l46.2,.9" stroke="#F79646"/>
<path d="M52.4,27.0l1.3,13.5l1.3,26.2l1.7,11.0l2.2,3.5l2.2,2.4l3,1.8l3.5,1.7l3.5,.5l1.7,.1l44.5,93.7l25.9,7.8l47.5,11.0l36.7,4.9l38,2.4l46.2,1.3" stroke="#C0504D"/>
<path d="M52.4,26.8l1.3,10.5l1.3,19.0l1.7,9.1l2.2,3.2l2.2,.3l3,1.5l3.5,.4l4.1,.5l45.5,99.5l25.9,10.7l47.5,15.2l36.7,6.8l38,3.3l46.2,1.7" stroke="#4F81BD"/>
<path d="M52.4,26.0l1.3,12.5l1.3,20.9l1.7,11.3l2.2,2.5l2.2,2.4l3,.6l3.5,.3l3.5,.8l1.8,.1l44.4,102.6l25.9,8.2l47.5,11.6l36.7,5.2l38,2.5l46.2,1.3" stroke="#C0504D"/>
<path d="M52.4,26.5l1.3,19.0l1.3,32.6l1.7,15.6l2.2,5.8l2.2,4.0l3,3.1l3.5,3.3l3.5,1.3l1.1,.2l45.1,89.2l25.9,2.4l47.5,3.4l36.7,1.5l38,.7l46.2,.4" stroke="#C0504D"/>
<path d="M52.4,26.3l1.3,12.7l1.3,21.6l1.7,9.0l2.2,3.3l2.2,2.1l3,1.7l3.5,.2l3.5,.1l3,.1l43.2,93.4l25.9,10.8l47.5,15.3l36.7,6.8l38,3.4l46.2,1.7" stroke="#F79646"/>
<path d="M52.4,26.7l1.3,15.5l1.3,26.7l1.7,14.5l2.2,4.1l2.2,2.9l3,3.0l3.5,1.8l3.2,.4l46.4,95.7l25.9,5.0l47.5,7.1l36.7,3.2l38,1.6l46.2,.8" stroke="#4F81BD"/>
<path d="M52.4,26.5l1.3,10.5l1.3,18.8l1.7,7.3l2.2,3.8l2.2,.4l3,1.0l3.5,.6l3.5,.6l1.5,.3l44.7,96.2l25.9,12.1l47.5,17.1l36.7,7.6l38,3.8l46.2,1.9" stroke="#C0504D"/>
<path d="M52.4,26.0l1.3,24.6l1.3,44.8l1.7,22.3l2.2,8.9l2.2,6.5l2.4,5.0l53.7,71.6l25.9,-.1l47.5,-.2l36.7,-.1l38,-.0l46.2,-.0" stroke="#F79646"/>
<path d="M52.4,26.7l1.3,23.6l1.3,43.1l1.7,21.2l2.2,9.5l2.2,5.5l3.5,6.1l52.6,61.2l25.9,3.5l47.5,4.9l36.7,2.2l38,1.1l46.2,.6" stroke="#C0504D"/>
<path d="M52.4,26.4l1.3,9.4l1.3,18.3l1.7,7.4l2.2,3.5l2.2,.9l3,1.8l3.5,.1l3.5,.1l3.3,.1l42.9,98.1l25.9,12.1l47.5,17.1l36.7,7.6l38,3.8l46.2,1.9" stroke="#9BBB59"/>
<path d="M52.4,26.9l1.3,23.7l1.3,44.8l1.7,22.7l2.2,8.6l2.2,6.0l3.2,6.7l52.9,61.1l25.9,2.5l47.5,3.5l36.7,1.6l38,.8l46.2,.4" stroke="#F79646"/>
<path d="M52.4,26.4l1.3,23.5l1.3,41.5l1.7,20.3l2.2,8.5l2.2,5.9l2.4,4.9l53.7,70.8l25.9,2.1l47.5,2.9l36.7,1.3l38,.6l46.2,.3" stroke="#4BACC6"/>
<path d="M52.4,26.4l1.3,10.1l1.3,17.3l1.7,9.0l2.2,2.0l2.2,1.7l3,1.3l3.5,.6l4.2,.8l45.4,105.9l25.9,9.5l47.5,13.5l36.7,6.0l38,3.0l46.2,1.5" stroke="#4F81BD"/>
<path d="M52.4,27.0l1.3,14.3l1.3,28.1l1.7,12.9l2.2,3.5l2.2,2.7l3,3.1l3.5,1.5l3.7,.4l45.9,94.9l25.9,5.8l47.5,8.2l36.7,3.7l38,1.8l46.2,.9" stroke="#C0504D"/>
<path d="M52.4,26.8l1.3,14.4l1.3,26.1l1.7,12.6l2.2,3.2l2.2,2.8l3,2.0l3.5,2.1l2.9,.1l46.7,86.0l25.9,9.3l47.5,13.1l36.7,5.9l38,2.9l46.2,1.5" stroke="#4F81BD"/>
<path d="M52.4,27.0l1.3,5.1l1.3,10.2l1.7,3.4l2.2,2.1l2.2,.3l3,.2l3.5,.2l3.5,.2l1.3,.1l44.9,116.2l25.9,12.3l47.5,17.4l36.7,7.8l38,3.8l46.2,2.0" stroke="#8064A2"/>
<path d="M52.4,26.3l1.3,13.1l1.3,20.9l1.7,10.7l2.2,3.6l2.2,1.8l3,.6l3.5,1.6l3.4,.4l46.2,98.9l25.9,8.7l47.5,12.3l36.7,5.5l38,2.7l46.2,1.4" stroke="#F79646"/>
<path d="M52.4,26.7l1.3,24.3l1.3,44.9l1.7,22.3l2.2,9.3l2.2,6.1l3.4,6.9l52.7,69.3l25.9,-.2l47.5,-.3l36.7,-.1l38,-.1l46.2,-.0" stroke="#8064A2"/>
<path d="M52.4,26.8l1.3,16.0l1.3,27.9l1.7,11.7l2.2,5.3l2.2,2.1l3,3.1l3.5,1.9l3.5,.4l1.4,.2l44.8,83.0l25.9,8.6l47.5,12.1l36.7,5.4l38,2.7l46.2,1.4" stroke="#8064A2"/>
<path d="M52.4,26.3l1.3,24.3l1.3,42.9l1.7,21.6l2.2,9.4l2.2,5.1l2.3,5.1l53.8,69.1l25.9,1.5l47.5,2.1l36.7,1.0l38,.5l46.2,.2" stroke="#C0504D"/>
<path d="M52.4,26.0l1.3,21.9l1.3,39.4l1.7,19.6l2.2,7.3l2.2,5.6l3,3.9l3.9,3.9l49.2,76.5l25.9,1.4l47.5,2.0l36.7,.9l38,.4l46.2,.2" stroke="#F79646"/>
<path d="M52.4,26.0l1.3,23.2l1.3,42.1l1.7,20.2l2.2,8.9l2.2,4.8l3,5.9l3.1,3.1l50,75.1l25.9,-.1l47.5,-.1l36.7,-.0l38,-.0l46.2,-.0" stroke="#4BACC6"/>
<path d="M52.4,26.2l1.3,25.7l1.3,47.3l1.7,23.2l2.2,9.9l2.9,8.4l3.6,7.0l4.3,5.3l4.3,4.9l4.3,4.9l6.5,7.8l6.5,7.3l6.5,7.3l6.5,7.2l6.5,7.4l6.5,5.1l25.9,1.2l47.5,1.7l36.7,.7l38,.4l46.2,.2" stroke="#C0504D"/>
<path d="M52.4,26.0l1.3,4.5l1.3,7.3l1.7,3.4l2.2,.9l2.2,.9l3,1.2l3.5,1.4l3.5,1.4l3.6,1.5l42.6,120.5l25.9,11.2l47.5,15.8l36.7,7.1l38,3.5l46.2,1.8" stroke="#8064A2"/>
<path d="M52.4,26.9l1.3,23.7l1.3,44.6l1.7,21.6l2.2,9.2l2.7,7.9l55.5,67.1l25.9,2.3l47.5,3.2l36.7,1.5l38,.7l46.2,.4" stroke="#F79646"/>
<path d="M52.4,26.5l1.3,1.9l1.3,3.0l1.7,1.5l2.2,1.9l2.2,1.9l3,2.6l3.5,3.0l3.5,3.0l3.1,2.7l43.1,99.5l25.9,17.3l47.5,24.3l36.7,10.9l38,5.4l46.2,2.8" stroke="#4BACC6"/>
<path d="M52.4,25.9l.9,18.3l.9,22.0l.9,36.7l1.3,21.9l1.3,8.1l1.7,6.5l1.7,5.5l2.2,5.6l2.2,4.4l4.3,6.1l4.3,4.7l4.3,4.8l6.5,8.4l6.5,7.0l6.5,6.7l6.5,6.5l6.5,7.2l6.5,1.0l25.9,.6l47.5,.8l36.7,.4l38,.2l46.2,.1" stroke="#A9C4E4"/>
<path d="M52.4,26.0l1.3,9.7l1.3,15.0l1.7,6.6l2.2,2.5l2.2,.8l3,.2l3.5,.2l3.5,.2l1.5,.1l44.7,117.3l25.9,8.6l47.5,12.1l36.7,5.4l38,2.7l46.2,1.4" stroke="#C0504D"/>
<path d="M52.4,26.1l1.3,13.6l1.3,24.1l1.7,11.9l2.2,3.4l2.2,2.1l3,3.3l3.5,.2l3.7,.2l45.9,93.2l25.9,8.7l47.5,12.3l36.7,5.5l38,2.7l46.2,1.4" stroke="#8064A2"/>
<path d="M52.4,26.0l1.3,20.8l1.3,38.2l1.7,17.6l2.2,7.6l2.2,4.9l3,4.6l2.8,2.1l50.3,82.3l25.9,1.4l47.5,2.0l36.7,.9l38,.4l46.2,.2" stroke="#4F81BD"/>
<path d="M52.4,26.2l1.3,12.0l1.3,22.9l1.7,11.1l2.2,2.8l2.2,1.9l3,3.3l3.5,.3l3.5,.3l2.8,.3l43.4,107.8l25.9,5.7l47.5,8.0l36.7,3.6l38,1.8l46.2,.9" stroke="#8064A2"/>
<path d="M52.4,26.7l1.3,13.4l1.3,26.3l1.7,11.2l2.2,3.8l2.2,2.8l3,1.0l3.5,.7l3.5,.5l2.1,1.2l44.1,99.2l25.9,6.2l47.5,8.8l36.7,3.9l38,1.9l46.2,1.0" stroke="#8064A2"/>
<path d="M52.4,26.4l1.3,13.6l1.3,26.2l1.7,10.9l2.2,4.9l2.2,2.3l3,.8l3.5,1.0l3.5,.3l3.7,.3l42.5,92.3l25.9,8.5l47.5,11.9l36.7,5.4l38,2.6l46.2,1.4" stroke="#4F81BD"/>
<path d="M52.4,26.9l1.3,.6l1.3,2.7l1.7,.6l2.2,.8l2.2,.8l3,1.1l3.5,1.3l3.5,1.3l5.4,2.0l40.8,108.9l25.9,17.5l47.5,24.6l36.7,11.0l38,5.4l46.2,2.8" stroke="#4F81BD"/>
<path d="M52.4,26.9l1.3,.4l1.3,1.9l1.7,.9l2.2,1.1l2.2,1.1l3,1.6l3.5,1.8l3.5,1.8l3.8,2.0l42.3,105.7l25.9,17.9l47.5,25.3l36.7,11.3l38,5.6l46.2,2.9" stroke="#4F81BD"/>
<path d="M52.4,26.8l1.3,3.2l1.3,7.0l1.7,2.9l2.2,1.5l2.2,1.5l3,2.1l3.5,2.3l3.5,2.3l3.2,2.2l43,95.2l25.9,17.4l47.5,24.6l36.7,11.0l38,5.4l46.2,2.8" stroke="#C0504D"/>
<path d="M52.4,27.1l1.3,13.4l1.3,26.7l1.7,11.5l2.2,3.3l2.2,2.9l3,2.2l3.5,.5l3.6,.5l46,100.3l25.9,5.8l47.5,8.2l36.7,3.7l38,1.8l46.2,.9" stroke="#C0504D"/>
<path d="M52.4,25.9l1.3,13.9l1.3,21.1l1.7,10.6l2.2,3.5l2.2,3.1l3,.4l3.5,.4l3.6,.4l46,97.8l25.9,9.0l47.5,12.7l36.7,5.7l38,2.8l46.2,1.4" stroke="#4F81BD"/>
<path d="M52.4,27.0l1.3,21.3l1.3,39.2l1.7,19.3l2.2,7.2l2.2,4.9l3,4.7l1.5,1.8l51.6,77.8l25.9,1.7l47.5,2.4l36.7,1.1l38,.5l46.2,.3" stroke="#F79646"/>
<path d="M52.4,26.5l1.3,19.9l1.3,34.4l1.7,17.7l2.2,6.0l2.2,4.8l3,2.8l3,3.5l50.1,72.5l25.9,5.9l47.5,8.3l36.7,3.7l38,1.8l46.2,.9" stroke="#C0504D"/>
<path d="M52.4,26.2l1.3,9.2l1.3,17.7l1.7,8.3l2.2,1.6l2.2,1.2l3,.5l3.5,.6l3.5,.6l4.4,.8l41.8,107.6l25.9,9.7l47.5,13.7l36.7,6.2l38,3.0l46.2,1.6" stroke="#8064A2"/>
<path d="M52.4,25.9l1.3,7.6l1.3,14.2l1.7,6.1l2.2,.9l2.2,1.2l3,1.3l3.5,1.4l3.5,1.4l2.6,1.1l43.6,116.0l25.9,9.0l47.5,12.6l36.7,5.7l38,2.8l46.2,1.4" stroke="#4BACC6"/>
<path d="M52.4,26.5l1.3,.1l1.3,.9l1.7,1.2l2.2,1.5l2.2,1.5l3,2.2l3.5,2.5l3.5,2.5l5.9,4.2l40.3,108.4l25.9,16.2l47.5,22.8l36.7,10.2l38,5.0l46.2,2.6" stroke="#8064A2"/>
<path d="M52.4,26.3l1.3,23.0l1.3,40.9l1.7,20.9l2.2,7.9l2.2,4.9l3,5.1l2.2,2.9l50.9,62.3l25.9,4.2l47.5,5.9l36.7,2.6l38,1.3l46.2,.7" stroke="#C0504D"/>
<path d="M52.4,26.5l1.3,14.4l1.3,24.8l1.7,11.3l2.2,3.8l2.2,2.0l3,2.6l3.5,.3l3.5,.6l3.2,.3l43,95.7l25.9,7.6l47.5,10.7l36.7,4.8l38,2.3l46.2,1.2" stroke="#4BACC6"/>
<path d="M52.4,26.2l1.3,13.8l1.3,26.2l1.7,10.7l2.2,4.1l2.2,3.1l3,1.6l3.5,1.0l3.5,.3l2,.2l44.2,94.8l25.9,7.6l47.5,10.7l36.7,4.8l38,2.4l46.2,1.2" stroke="#4F81BD"/>
<path d="M52.4,27.0l1.3,7.7l1.3,12.8l1.7,6.6l2.2,2.0l2.2,.8l3,.6l3.5,.7l3.5,.7l2.8,.5l43.4,99.7l25.9,14.1l47.5,19.8l36.7,8.9l38,4.4l46.2,2.3" stroke="#8064A2"/>
<path d="M52.4,26.4l1.3,10.7l1.3,20.3l1.7,10.6l2.2,2.5l2.2,1.5l3,.6l3.5,.6l3.5,1.0l4.5,.8l41.7,109.1l25.9,7.1l47.5,9.9l36.7,4.5l38,2.2l46.2,1.1" stroke="#4BACC6"/>
<path d="M52.4,25.9l1.3,4.9l1.3,7.5l1.7,3.0l2.2,.6l2.2,.6l3,.9l3.5,1.0l3.5,1.0l2.5,.7l43.7,121.9l25.9,11.5l47.5,16.2l36.7,7.3l38,3.6l46.2,1.8" stroke="#8064A2"/>
<path d="M52.4,26.7l1.3,4.8l1.3,9.0l1.7,4.1l2.2,.9l2.2,.8l3,.8l3.5,1.0l3.5,1.0l1.6,.5l44.6,117.9l25.9,11.7l47.5,16.5l36.7,7.4l38,3.6l46.2,1.9" stroke="#8064A2"/>
<path d="M52.4,26.1l1.3,17.6l1.3,31.7l1.7,15.7l2.2,6.2l2.2,2.6l3,3.5l3.5,1.4l1.2,1.0l48.4,85.9l25.9,4.9l47.5,7.0l36.7,3.1l38,1.5l46.2,.8" stroke="#8064A2"/>
<path d="M52.4,27.1l1.3,20.8l1.3,39.6l1.7,18.8l2.2,7.6l2.2,5.3l3.6,4.7l52.5,75.4l25.9,2.8l47.5,3.9l36.7,1.7l38,.9l46.2,.4" stroke="#F79646"/>
<path d="M52.4,26.5l1.3,4.8l1.3,9.0l1.7,3.8l2.2,.5l2.2,1.0l3,.2l3.5,.3l3.5,.3l4.8,.4l41.4,116.7l25.9,12.8l47.5,18.1l36.7,8.1l38,4.0l46.2,2.1" stroke="#9BBB59"/>
<path d="M52.4,26.6l1.3,13.1l1.3,21.9l1.7,10.4l2.2,3.8l2.2,.3l3,1.6l3.5,1.6l3.5,.5l4.3,.6l41.9,106.9l25.9,6.1l47.5,8.6l36.7,3.9l38,1.9l46.2,1.0" stroke="#F79646"/>
<path d="M52.4,26.2l1.3,8.4l1.3,14.5l1.7,7.0l2.2,1.7l2.2,.6l3,.8l3.5,1.0l3.5,1.0l4.4,1.2l41.7,114.8l25.9,9.0l47.5,12.6l36.7,5.7l38,2.8l46.2,1.4" stroke="#4F81BD"/>
<path d="M52.4,26.5l1.3,5.5l1.3,9.9l1.7,4.8l2.2,1.5l2.2,1.1l3,1.6l3.5,1.8l3.5,1.8l1.5,.8l44.7,99.6l25.9,15.2l47.5,21.5l36.7,9.6l38,4.7l46.2,2.4" stroke="#9BBB59"/>
<path d="M52.4,26.6l1.3,24.2l1.3,44.2l1.7,22.4l2.2,9.2l2.5,6.4l55.7,66.6l25.9,2.7l47.5,3.8l36.7,1.7l38,.8l46.2,.4" stroke="#4F81BD"/>
<path d="M52.4,27.0l1.3,1.8l1.3,4.6l1.7,2.0l2.2,1.5l2.2,1.5l3,2.1l3.5,2.4l3.5,2.4l4.8,3.3l41.4,107.2l25.9,14.9l47.5,21.0l36.7,9.4l38,4.6l46.2,2.4" stroke="#4F81BD"/>
<path d="M52.4,26.5l.9,17.1l.9,22.0l.9,36.7l1.3,21.9l1.3,8.1l1.7,6.5l1.7,5.5l2.2,5.6l2.2,4.4l4.3,6.1l4.3,4.7l4.3,4.8l6.5,8.5l6.5,7.0l6.5,6.8l6.5,6.5l6.5,7.2l6.5,2.0l25.9,.3l47.5,.5l36.7,.2l38,.1l46.2,.1" stroke="#C4D8A0"/>
<path d="M52.4,26.9l1.3,11.0l1.3,18.5l1.7,10.4l2.2,2.7l2.2,1.5l3,.3l3.5,1.5l4.1,.4l45.6,107.0l25.9,8.1l47.5,11.4l36.7,5.1l38,2.5l46.2,1.3" stroke="#C0504D"/>
<path d="M52.4,26.3l1.3,22.5l1.3,42.1l1.7,20.2l2.2,8.7l2.2,4.5l3.9,7.6l52.2,63.8l25.9,3.8l47.5,5.3l36.7,2.4l38,1.2l46.2,.6" stroke="#C0504D"/>
<path d="M52.4,26.2l1.3,16.4l1.3,31.8l1.7,14.0l2.2,7.1l2.2,2.9l3,1.7l3.5,2.8l1.3,1.0l48.4,83.1l25.9,6.2l47.5,8.8l36.7,3.9l38,1.9l46.2,1.0" stroke="#9BBB59"/>
<path d="M52.4,26.8l1.3,7.5l1.3,13.2l1.7,6.0l2.2,2.2l2.2,.5l3,.7l3.5,.8l3.5,.8l2.7,.7l43.5,107.1l25.9,12.0l47.5,16.9l36.7,7.6l38,3.7l46.2,1.9" stroke="#4F81BD"/>
<path d="M52.4,26.8l1.3,10.6l1.3,19.6l1.7,9.4l2.2,1.7l2.2,2.5l3,.6l3.5,.1l3.5,.4l4.8,.2l41.4,100.9l25.9,10.1l47.5,14.3l36.7,6.4l38,3.2l46.2,1.6" stroke="#4F81BD"/>
<path d="M52.4,26.9l1.3,15.7l1.3,32.4l1.7,14.1l2.2,5.2l2.2,3.8l3,2.1l3.5,2.5l3.5,.5l46.1,92.8l25.9,3.7l47.5,5.2l36.7,2.3l38,1.2l46.2,.6" stroke="#8064A2"/>
<path d="M52.4,27.0l1.3,6.0l1.3,11.2l1.7,5.3l2.2,1.9l2.2,.8l3,1.2l3.5,1.4l3.5,1.4l2.9,1.1l43.3,115.7l25.9,10.1l47.5,14.3l36.7,6.4l38,3.1l46.2,1.6" stroke="#9BBB59"/>
<path d="M52.4,26.0l1.3,2.9l1.3,4.6l1.7,1.7l2.2,1.8l2.2,1.8l3,2.5l3.5,2.8l3.5,2.8l2.4,2.0l43.8,96.3l25.9,17.9l47.5,25.3l36.7,11.3l38,5.6l46.2,2.9" stroke="#4F81BD"/>
<path d="M52.4,26.8l1.3,25.5l1.3,49.2l1.7,24.0l2.4,11.1l1.9,6.1l4.3,8.7l4.3,5.9l4.3,4.9l4.3,4.9l6.5,8.3l6.5,7.3l6.5,7.1l6.5,6.9l6.5,7.4l6.5,4.7l25.9,.1l47.5,.2l36.7,.1l38,.0l46.2,.0" stroke="#F79646"/>
<path d="M52.4,26.4l1.3,11.0l1.3,20.2l1.7,9.7l2.2,1.9l2.2,2.8l3,1.7l3.5,.5l3.7,.5l46,93.7l25.9,11.4l47.5,16.1l36.7,7.2l38,3.5l46.2,1.8" stroke="#C0504D"/>
<path d="M52.4,26.2l1.3,17.5l1.3,30.0l1.7,13.7l2.2,5.5l2.2,2.6l3,3.8l3.5,.4l3.5,1.5l1.3,.1l44.9,94.3l25.9,3.8l47.5,5.4l36.7,2.4l38,1.2l46.2,.6" stroke="#8064A2"/>
<path d="M52.4,26.4l1.3,16.0l1.3,26.7l1.7,12.9l2.2,4.8l2.2,1.6l3,2.6l3.5,2.1l3.1,.4l46.5,99.9l25.9,4.4l47.5,6.2l36.7,2.8l38,1.4l46.2,.7" stroke="#F79646"/>
<path d="M52.4,26.0l1.3,6.9l1.3,13.1l1.7,5.6l2.2,1.7l2.2,.3l3,.2l3.5,.2l3.5,.2l1.3,.1l44.9,115.3l25.9,11.1l47.5,15.6l36.7,7.0l38,3.4l46.2,1.8" stroke="#4F81BD"/>
<path d="M52.4,26.0l1.3,19.5l1.3,33.0l1.7,17.0l2.2,7.3l2.2,3.1l3,3.9l3.5,1.9l3.3,2.1l46.3,76.4l25.9,5.3l47.5,7.4l36.7,3.3l38,1.6l46.2,.8" stroke="#8064A2"/>
<path d="M52.4,26.0l1.3,14.9l1.3,28.2l1.7,13.0l2.2,5.0l2.2,1.7l3,3.2l3.5,1.2l3.5,.9l.9,.2l45.3,87.8l25.9,7.6l47.5,10.8l36.7,4.8l38,2.4l46.2,1.2" stroke="#F79646"/>
<path d="M52.4,26.7l1.3,10.0l1.3,18.7l1.7,7.1l2.2,3.7l2.2,.1l3,1.6l3.5,.2l3.5,.2l2.6,.2l43.6,97.9l25.9,12.0l47.5,16.9l36.7,7.6l38,3.7l46.2,1.9" stroke="#4F81BD"/>
<path d="M52.4,26.2l1.3,16.6l1.3,26.6l1.7,13.7l2.2,5.7l2.2,2.0l3,3.1l3.5,.9l3.3,1.1l46.3,82.8l25.9,8.5l47.5,12.0l36.7,5.4l38,2.6l46.2,1.4" stroke="#C0504D"/>
<path d="M52.4,26.4l1.3,17.9l1.3,32.7l1.7,15.1l2.2,6.7l2.2,2.9l3,3.4l3.5,2.9l3.4,1.3l46.3,78.6l25.9,6.0l47.5,8.4l36.7,3.8l38,1.9l46.2,1.0" stroke="#8064A2"/>
<path d="M52.4,25.9l1.3,2.5l1.3,3.9l1.7,1.4l2.2,1.3l2.2,1.3l3,1.9l3.5,2.1l3.5,2.1l4,2.5l42.1,115.5l25.9,13.6l47.5,19.2l36.7,8.6l38,4.2l46.2,2.2" stroke="#4BACC6"/>
<path d="M52.4,25.9l1.3,.8l1.3,.9l1.7,.4l2.2,.5l2.2,.5l3,.7l3.5,.8l3.5,.8l4.9,1.2l41.3,112.5l25.9,17.9l47.5,25.3l36.7,11.3l38,5.6l46.2,2.9" stroke="#9BBB59"/>
<path d="M52.4,26.4l1.3,25.9l1.3,48.1l1.7,23.8l2.8,11.7l1.5,5.2l4.3,7.8l4.3,5.8l4.3,5.0l4.3,5.1l6.5,8.2l6.5,7.5l6.5,7.4l6.5,7.2l6.5,7.6l6.5,5.2l25.9,.3l47.5,.5l36.7,.2l38,.1l46.2,.1" stroke="#F79646"/>
<path d="M52.4,26.2l1.3,14.4l1.3,26.0l1.7,12.7l2.2,5.3l2.2,2.2l3,1.2l3.5,2.1l2.4,.5l47.2,89.8l25.9,8.1l47.5,11.4l36.7,5.1l38,2.5l46.2,1.3" stroke="#C0504D"/>
<path d="M52.4,26.0l1.3,6.1l1.3,9.1l1.7,4.7l2.2,.5l2.2,.3l3,.7l3.5,.5l3.5,.5l3.1,.5l43.1,117.6l25.9,11.9l47.5,16.9l36.7,7.6l38,3.7l46.2,1.9" stroke="#C0504D"/>
<path d="M52.4,26.0l1.3,24.1l1.3,43.8l1.7,21.8l2.2,9.4l2.2,5.2l2.3,4.9l53.8,61.8l25.9,3.4l47.5,4.8l36.7,2.2l38,1.1l46.2,.6" stroke="#4F81BD"/>
<path d="M52.4,26.5l1.3,4.5l1.3,8.4l1.7,3.6l2.2,1.2l2.2,.4l3,.5l3.5,.6l3.5,.6l2.2,.4l43.9,122.1l25.9,11.3l47.5,15.9l36.7,7.1l38,3.5l46.2,1.8" stroke="#C0504D"/>
<path d="M52.4,26.7l1.3,2.3l1.3,4.5l1.7,1.5l2.2,.4l2.2,.4l3,.5l3.5,.6l3.5,.6l3.1,.5l43.1,107.2l25.9,17.9l47.5,25.3l36.7,11.3l38,5.6l46.2,2.9" stroke="#F79646"/>
<path d="M52.4,26.6l1.3,23.0l1.3,41.3l1.7,19.7l2.2,8.2l2.2,4.9l3.4,6.8l52.7,68.6l25.9,2.8l47.5,3.9l36.7,1.8l38,.9l46.2,.4" stroke="#4BACC6"/>
<path d="M52.4,26.2l1.3,3.5l1.3,5.2l1.7,2.8l2.2,1.2l2.2,1.2l3,1.6l3.5,1.9l3.5,1.9l2.9,1.6l43.3,104.6l25.9,16.2l47.5,22.8l36.7,10.2l38,5.0l46.2,2.6" stroke="#C0504D"/>
<path d="M52.4,26.2l1.3,24.1l1.3,42.2l1.7,21.2l2.2,8.7l2.2,5.7l3,5.5l1.4,2.6l51.7,73.8l25.9,-.2l47.5,-.3l36.7,-.1l38,-.1l46.2,-.0" stroke="#F79646"/>
<path d="M52.4,26.3l1.3,19.1l1.3,35.4l1.7,16.5l2.2,7.1l2.2,4.6l3,3.3l3.5,2.0l3.4,2.7l46.3,81.7l25.9,3.0l47.5,4.2l36.7,1.9l38,.9l46.2,.5" stroke="#8064A2"/>
<path d="M52.4,26.5l1.3,25.8l1.3,48.2l1.7,23.6l2.2,10.1l2.2,6.6l1.5,4.1l2.8,6.5l4.3,5.6l4.3,4.9l4.3,4.9l6.5,8.0l6.5,7.3l6.5,7.1l6.5,7.0l6.5,7.4l6.5,5.7l25.9,-.0l47.5,-.0l36.7,-.0l38,-.0l46.2,-.0" stroke="#4F81BD"/>
<path d="M52.4,26.0l1.3,26.0l1.3,46.9l1.7,23.5l2.2,9.8l2.2,6.1l3,7.0l1.3,3.7l4.3,5.5l4.3,5.1l4.3,5.1l6.5,8.0l6.5,7.6l6.5,7.5l6.5,7.4l6.5,7.6l6.5,6.8l25.9,-.1l47.5,-.1l36.7,-.1l38,-.0l46.2,-.0" stroke="#9BBB59"/>
<path d="M52.4,26.6l1.3,8.7l1.3,13.9l1.7,6.4l2.2,2.1l2.2,.6l3,1.3l3.5,.8l3.5,.8l5.2,1.2l41,102.3l25.9,12.5l47.5,17.6l36.7,7.9l38,3.9l46.2,2.0" stroke="#4F81BD"/>
<path d="M52.4,26.8l1.3,20.4l1.3,37.8l1.7,18.3l2.2,6.6l2.2,4.4l3,4.5l2.2,2.2l50.9,82.4l25.9,1.6l47.5,2.2l36.7,1.0l38,.5l46.2,.3" stroke="#F79646"/>
<path d="M52.4,26.3l1.3,21.0l1.3,39.1l1.7,19.2l2.2,6.7l2.2,5.2l3,3.9l1.5,2.6l51.6,69.1l25.9,4.5l47.5,6.4l36.7,2.9l38,1.4l46.2,.7" stroke="#9BBB59"/>
<path d="M52.4,26.3l1.3,16.7l1.3,28.5l1.7,14.0l2.2,4.9l2.2,4.4l3,2.7l3.5,1.1l3.5,1.0l46.1,85.0l25.9,6.9l47.5,9.7l36.7,4.4l38,2.1l46.2,1.1" stroke="#8064A2"/>
<path d="M52.4,26.8l1.3,9.4l1.3,16.1l1.7,7.5l2.2,2.0l2.2,.2l3,1.0l3.5,.3l3.5,.1l4.3,.1l41.9,109.9l25.9,10.0l47.5,14.2l36.7,6.3l38,3.1l46.2,1.6" stroke="#4F81BD"/>
<path d="M52.4,26.8l1.3,18.1l1.3,33.2l1.7,16.8l2.2,5.2l2.2,4.1l3,3.6l3.5,2.6l2.9,.7l46.7,85.7l25.9,3.5l47.5,4.9l36.7,2.2l38,1.1l46.2,.6" stroke="#4BACC6"/>
<path d="M52.4,26.5l1.3,11.1l1.3,19.1l1.7,8.8l2.2,3.0l2.2,.9l3,1.1l3.5,1.3l3.5,.3l4.8,.5l41.4,112.1l25.9,6.9l47.5,9.7l36.7,4.3l38,2.1l46.2,1.1" stroke="#C0504D"/>
<path d="M52.4,26.6l1.3,24.7l1.3,45.7l1.7,22.8l2.2,9.3l2.1,5.8l56.2,75.2l25.9,-.2l47.5,-.3l36.7,-.1l38,-.1l46.2,-.0" stroke="#4F81BD"/>
<path d="M52.4,27.0l1.3,24.2l1.3,44.6l1.7,21.4l2.2,9.4l2.2,6.0l1.9,4.1l54.2,66.9l25.9,1.6l47.5,2.2l36.7,1.0l38,.5l46.2,.3" stroke="#9BBB59"/>
<path d="M52.4,26.6l1.3,7.3l1.3,15.3l1.7,6.0l2.2,2.2l2.2,1.3l3,.5l3.5,.3l3.5,.3l3.2,.3l43,115.1l25.9,9.5l47.5,13.5l36.7,6.0l38,3.0l46.2,1.5" stroke="#F79646"/>
<path d="M52.4,26.5l1.3,6.0l1.3,13.0l1.7,4.5l2.2,1.9l2.2,.8l3,1.1l3.5,1.3l3.5,1.3l4.9,1.9l41.2,97.9l25.9,14.8l47.5,20.9l36.7,9.3l38,4.6l46.2,2.4" stroke="#F79646"/>
<path d="M52.4,26.5l1.3,24.6l1.3,44.4l1.7,21.8l2.2,9.2l2.6,6.6l55.6,65.0l25.9,3.1l47.5,4.4l36.7,2.0l38,1.0l46.2,.5" stroke="#8064A2"/>
<path d="M52.4,26.6l1.3,6.7l1.3,13.1l1.7,4.8l2.2,.9l2.2,1.1l3,1.2l3.5,1.4l3.5,1.4l3.3,1.3l42.9,102.0l25.9,13.7l47.5,19.3l36.7,8.6l38,4.2l46.2,2.2" stroke="#4F81BD"/>
<path d="M52.4,26.3l1.3,.7l1.3,1.5l1.7,1.9l2.2,2.4l2.2,2.4l3,3.4l3.5,3.9l3.5,3.9l4.7,5.3l41.5,109.4l25.9,13.5l47.5,19.0l36.7,8.5l38,4.2l46.2,2.2" stroke="#8064A2"/>
<path d="M52.4,26.2l1.3,4.8l1.3,6.9l1.7,3.8l2.2,.6l2.2,.6l3,.8l3.5,1.0l3.5,1.0l1.9,.5l44.3,122.9l25.9,11.2l47.5,15.9l36.7,7.1l38,3.5l46.2,1.8" stroke="#4F81BD"/>
<path d="M52.4,26.3l1.3,13.6l1.3,22.6l1.7,11.3l2.2,2.8l2.2,2.7l3,1.3l3.5,.2l3.9,.2l45.7,104.8l25.9,6.5l47.5,9.2l36.7,4.1l38,2.0l46.2,1.0" stroke="#4F81BD"/>
<path d="M52.4,26.5l1.3,17.7l1.3,33.4l1.7,15.6l2.2,6.1l2.2,2.5l3,3.6l3.9,2.8l49.2,77.1l25.9,6.7l47.5,9.5l36.7,4.2l38,2.1l46.2,1.1" stroke="#C0504D"/>
<path d="M52.4,26.7l1.3,3.4l1.3,5.9l1.7,2.0l2.2,1.2l2.2,1.2l3,1.7l3.5,1.9l3.5,1.9l2.6,1.4l43.6,112.0l25.9,14.0l47.5,19.7l36.7,8.8l38,4.3l46.2,2.2" stroke="#F79646"/>
<path d="M52.4,26.4l1.3,9.9l1.3,15.8l1.7,9.1l2.2,1.5l2.2,1.0l3,1.4l3.5,.3l4.2,.4l45.5,109.9l25.9,9.4l47.5,13.2l36.7,5.9l38,2.9l46.2,1.5" stroke="#8064A2"/>
<path d="M52.4,26.9l1.3,15.5l1.3,30.5l1.7,15.5l2.2,5.3l2.2,1.7l3,2.9l3.5,2.6l3.5,.1l1.4,.0l44.8,91.3l25.9,4.8l47.5,6.7l36.7,3.0l38,1.5l46.2,.8" stroke="#F79646"/>
<path d="M52.4,26.9l.9,16.9l.9,22.0l.9,36.7l1.3,21.9l1.3,8.1l1.7,6.5l1.7,5.5l2.2,5.6l2.2,4.4l4.3,6.1l4.3,4.7l4.3,4.8l6.5,8.4l6.5,7.0l6.5,6.7l6.5,6.5l6.5,7.2l6.5,3.1l25.9,.0l47.5,.0l36.7,.0l38,.0l46.2,.0" stroke="#BFB0D4"/>
<path d="M52.4,26.8l1.3,14.8l1.3,27.1l1.7,14.2l2.2,4.8l2.2,1.1l3,4.1l3.5,.1l4,.5l45.7,89.7l25.9,7.3l47.5,10.3l36.7,4.6l38,2.3l46.2,1.2" stroke="#4BACC6"/>
<path d="M52.4,26.6l1.3,22.6l1.3,41.7l1.7,20.1l2.2,8.4l2.2,5.3l3,5.5l3.7,4.3l49.4,61.2l25.9,3.7l47.5,5.3l36.7,2.4l38,1.2l46.2,.6" stroke="#F79646"/>
<path d="M52.4,26.4l1.3,5.4l1.3,9.1l1.7,4.4l2.2,1.4l2.2,1.4l3,1.9l3.5,2.2l3.5,2.2l1.2,.8l45,115.4l25.9,10.8l47.5,15.2l36.7,6.8l38,3.4l46.2,1.7" stroke="#8064A2"/>
<path d="M52.4,27.1l1.3,6.0l1.3,11.5l1.7,4.2l2.2,1.8l2.2,1.1l3,1.5l3.5,1.8l3.5,1.8l4.2,2.1l42,113.7l25.9,10.2l47.5,14.4l36.7,6.5l38,3.2l46.2,1.6" stroke="#8064A2"/>
<path d="M52.4,26.0l1.3,12.9l1.3,23.0l1.7,10.9l2.2,3.9l2.2,1.6l3,1.9l3.5,.5l3.4,.4l46.2,91.0l25.9,10.4l47.5,14.6l36.7,6.5l38,3.2l46.2,1.7" stroke="#8064A2"/>
<path d="M52.4,26.8l1.3,18.4l1.3,35.9l1.7,16.7l2.2,7.8l2.2,4.1l3,4.4l3.3,2.3l49.7,71.3l25.9,6.0l47.5,8.5l36.7,3.8l38,1.9l46.2,1.0" stroke="#F79646"/>
<path d="M52.4,26.6l1.3,23.1l1.3,42.0l1.7,20.8l2.2,7.6l2.2,5.7l3,5.1l.9,2.1l52.2,75.9l25.9,.1l47.5,.1l36.7,.0l38,.0l46.2,.0" stroke="#4F81BD"/>
<path d="M52.4,26.0l1.3,3.4l1.3,4.6l1.7,2.5l2.2,2.0l2.2,2.0l3,2.8l3.5,3.2l3.5,3.2l3.7,3.5l42.5,101.0l25.9,15.4l47.5,21.7l36.7,9.7l38,4.8l46.2,2.5" stroke="#C0504D"/>
<path d="M52.4,26.5l1.3,20.4l1.3,37.3l1.7,18.5l2.2,7.5l2.2,3.4l3,5.2l3.6,2.4l49.5,71.5l25.9,4.6l47.5,6.5l36.7,2.9l38,1.4l46.2,.7" stroke="#4F81BD"/>
<path d="M52.4,26.4l1.3,14.5l1.3,24.3l1.7,13.4l2.2,3.6l2.2,2.2l3,2.6l3.5,1.0l2.6,.1l47,96.2l25.9,7.0l47.5,9.8l36.7,4.4l38,2.2l46.2,1.1" stroke="#C0504D"/>
<path d="M52.4,26.2l1.3,16.5l1.3,26.1l1.7,13.3l2.2,5.2l2.2,3.4l3,1.5l3.5,1.5l3.3,.7l46.3,94.6l25.9,5.6l47.5,8.0l36.7,3.6l38,1.8l46.2,.9" stroke="#F79646"/>
<path d="M52.4,26.4l1.3,15.7l1.3,30.6l1.7,15.0l2.2,4.1l2.2,4.1l3,3.5l3.5,.5l3.5,2.2l1,.1l45.2,89.4l25.9,4.9l47.5,6.9l36.7,3.1l38,1.5l46.2,.8" stroke="#F79646"/>
<path d="M52.4,26.2l1.3,13.2l1.3,23.9l1.7,12.3l2.2,4.2l2.2,2.1l3,.4l3.5,.6l3.5,2.0l2.8,.3l43.4,89.9l25.9,9.5l47.5,13.5l36.7,6.0l38,3.0l46.2,1.5" stroke="#4F81BD"/>
<path d="M52.4,27.0l1.3,3.9l1.3,9.2l1.7,4.5l2.2,1.6l2.2,1.6l3,2.2l3.5,2.5l3.5,2.5l5.1,3.7l41.1,113.5l25.9,10.4l47.5,14.6l36.7,6.6l38,3.2l46.2,1.7" stroke="#C0504D"/>
<path d="M52.4,26.3l1.3,23.5l1.3,41.2l1.7,20.1l2.2,8.8l2.2,5.4l3,5.3l3.2,3.5l49.9,74.0l25.9,.3l47.5,.5l36.7,.2l38,.1l46.2,.1" stroke="#C0504D"/>
<path d="M52.4,26.5l1.3,14.5l1.3,26.1l1.7,11.5l2.2,4.5l2.2,1.4l3,2.4l3.5,.6l3.5,1.7l1.2,.2l44.9,101.5l25.9,5.1l47.5,7.2l36.7,3.2l38,1.6l46.2,.8" stroke="#4BACC6"/>
<path d="M52.4,26.1l1.3,23.8l1.3,43.7l1.7,21.5l2.2,8.6l2.2,5.6l3,5.9l1.1,1.6l52,62.4l25.9,2.8l47.5,3.9l36.7,1.8l38,.9l46.2,.4" stroke="#8064A2"/>
<path d="M52.4,26.0l1.3,3.9l1.3,5.8l1.7,2.0l2.2,1.3l2.2,1.3l3,1.8l3.5,2.1l3.5,2.1l2.4,1.4l43.8,97.4l25.9,17.9l47.5,25.3l36.7,11.3l38,5.6l46.2,2.9" stroke="#8064A2"/>
<path d="M52.4,26.7l1.3,9.1l1.3,18.5l1.7,7.7l2.2,2.0l2.2,1.6l3,1.2l3.5,.6l3.5,.6l2.7,.5l43.5,106.3l25.9,9.6l47.5,13.6l36.7,6.1l38,3.0l46.2,1.5" stroke="#4BACC6"/>
<path d="M52.4,26.1l1.3,10.7l1.3,19.1l1.7,7.5l2.2,2.1l2.2,1.2l3,1.5l3.5,.2l3.5,.2l2.4,.1l43.8,113.5l25.9,7.6l47.5,10.7l36.7,4.8l38,2.4l46.2,1.2" stroke="#F79646"/>
<path d="M52.4,26.9l1.3,4.2l1.3,9.4l1.7,4.1l2.2,1.1l2.2,.8l3,.5l3.5,.5l3.5,.5l2.4,.4l43.8,120.7l25.9,11.2l47.5,15.9l36.7,7.1l38,3.5l46.2,1.8" stroke="#4F81BD"/>
<path d="M52.4,26.2l1.3,5.5l1.3,9.0l1.7,4.4l2.2,1.1l2.2,.3l3,.5l3.5,.5l3.5,.5l1.6,.2l44.6,105.6l25.9,15.5l47.5,21.8l36.7,9.8l38,4.8l46.2,2.5" stroke="#F79646"/>
<path d="M52.4,26.7l1.3,16.8l1.3,33.2l1.7,14.1l2.2,6.6l2.2,2.8l3,3.9l3.5,1.7l3.5,1.6l1.2,.2l45,78.1l25.9,6.6l47.5,9.2l36.7,4.1l38,2.0l46.2,1.1" stroke="#4F81BD"/>
<path d="M52.4,26.6l1.3,22.6l1.3,41.8l1.7,20.1l2.2,8.7l2.2,5.0l3,5.5l2.5,3.0l50.6,65.1l25.9,3.0l47.5,4.2l36.7,1.9l38,.9l46.2,.5" stroke="#8064A2"/>
<path d="M52.4,26.9l1.3,1.5l1.3,2.7l1.7,1.4l2.2,.8l2.2,.8l3,1.1l3.5,1.2l3.5,1.2l1.6,.6l44.6,107.1l25.9,17.9l47.5,25.3l36.7,11.3l38,5.6l46.2,2.9" stroke="#8064A2"/>
<path d="M52.4,26.3l1.3,12.5l1.3,24.2l1.7,11.7l2.2,3.7l2.2,.8l3,1.6l3.5,2.1l3.5,.6l3.9,.7l42.2,93.6l25.9,8.8l47.5,12.3l36.7,5.5l38,2.7l46.2,1.4" stroke="#F79646"/>
<path d="M52.4,26.9l1.3,8.5l1.3,19.0l1.7,6.8l2.2,2.8l2.2,2.0l3,.1l3.5,.5l3.5,.1l4.1,.1l42.1,99.4l25.9,12.0l47.5,17.0l36.7,7.6l38,3.7l46.2,1.9" stroke="#9BBB59"/>
<path d="M52.4,27.0l1.3,24.5l1.3,46.1l1.7,22.8l2.2,9.3l2.2,6.4l1.3,3.2l3,3.4l4.3,4.8l4.3,4.8l4.3,4.8l6.5,7.2l6.5,7.2l6.5,7.2l6.5,7.2l6.5,7.2l6.5,7.2l25.9,2.5l47.5,3.6l36.7,1.6l38,.8l46.2,.4" stroke="#8064A2"/>
<path d="M52.4,26.7l1.3,8.6l1.3,16.7l1.7,5.6l2.2,3.5l2.2,.8l3,.6l3.5,.5l3.5,.5l4.5,.7l41.6,115.0l25.9,8.4l47.5,11.8l36.7,5.3l38,2.6l46.2,1.3" stroke="#4BACC6"/>
<path d="M52.4,26.7l1.3,19.2l1.3,35.9l1.7,18.1l2.2,6.7l2.2,3.9l3,3.6l3.5,2.6l1.5,.9l48.1,74.8l25.9,4.7l47.5,6.7l36.7,3.0l38,1.5l46.2,.8" stroke="#4F81BD"/>
<path d="M52.4,27.0l1.3,17.8l1.3,32.0l1.7,13.9l2.2,7.3l2.2,2.8l3,3.5l4.3,1.7l48.8,87.5l25.9,4.4l47.5,6.2l36.7,2.8l38,1.4l46.2,.7" stroke="#4F81BD"/>
<path d="M52.4,26.9l.9,16.0l.9,22.0l.9,36.7l1.3,21.9l1.3,8.1l1.7,6.5l1.7,5.5l2.2,5.7l2.2,4.4l4.3,6.2l4.3,4.8l4.3,4.9l6.5,8.5l6.5,7.1l6.5,6.8l6.5,6.6l6.5,7.3l6.5,2.6l25.9,.2l47.5,.3l36.7,.1l38,.1l46.2,.0" stroke="#A8D8E6"/>
<path d="M52.4,26.0l1.3,3.3l1.3,6.4l1.7,2.3l2.2,.6l2.2,.6l3,.9l3.5,1.0l3.5,1.0l2.6,.7l43.6,120.1l25.9,13.0l47.5,18.3l36.7,8.2l38,4.0l46.2,2.1" stroke="#4F81BD"/>
<path d="M52.4,26.1l1.3,1.7l1.3,2.7l1.7,1.2l2.2,1.5l2.2,1.5l3,2.1l3.5,2.4l3.5,2.4l3.6,2.5l42.6,112.0l25.9,14.9l47.5,21.0l36.7,9.4l38,4.6l46.2,2.4" stroke="#C0504D"/>
<path d="M52.4,26.9l1.3,1.5l1.3,3.6l1.7,1.6l2.2,2.0l2.2,2.0l3,2.7l3.5,3.1l3.5,3.1l2.4,2.2l43.8,111.8l25.9,13.6l47.5,19.2l36.7,8.6l38,4.2l46.2,2.2" stroke="#8064A2"/>
<path d="M52.4,26.8l1.3,22.9l1.3,42.1l1.7,20.6l2.2,8.1l2.2,6.2l3.3,5.2l52.8,73.0l25.9,1.2l47.5,1.7l36.7,.8l38,.4l46.2,.2" stroke="#8064A2"/>
<path d="M52.4,26.4l1.3,9.8l1.3,15.8l1.7,6.5l2.2,2.8l2.2,.7l3,.3l3.5,.4l3.5,.4l5.1,.6l41.1,111.4l25.9,9.5l47.5,13.5l36.7,6.0l38,3.0l46.2,1.5" stroke="#C0504D"/>
<path d="M52.4,26.8l1.3,7.6l1.3,14.0l1.7,6.6l2.2,1.5l2.2,1.3l3,.5l3.5,.6l3.5,.6l5.6,1.0l40.6,99.0l25.9,14.0l47.5,19.7l36.7,8.8l38,4.3l46.2,2.2" stroke="#4BACC6"/>
<path d="M52.4,26.4l1.3,25.2l1.3,46.4l1.7,22.9l2.2,9.9l2.8,7.7l3.7,5.6l4.3,5.3l4.3,5.2l4.3,5.2l6.5,7.9l6.5,7.8l6.5,7.8l6.5,7.7l6.5,7.8l6.5,7.1l25.9,.9l47.5,1.2l36.7,.5l38,.3l46.2,.1" stroke="#4BACC6"/>
<path d="M52.4,26.1l1.3,15.3l1.3,27.4l1.7,13.5l2.2,4.9l2.2,2.9l3,2.1l3.5,1.5l2.2,.2l47.5,83.6l25.9,8.9l47.5,12.5l36.7,5.6l38,2.8l46.2,1.4" stroke="#8064A2"/>
<path d="M52.4,26.9l1.3,16.2l1.3,29.9l1.7,16.1l2.2,4.3l2.2,3.2l3,2.7l3.5,1.4l3.3,1.6l46.3,79.8l25.9,7.6l47.5,10.7l36.7,4.8l38,2.4l46.2,1.2" stroke="#F79646"/>
<path d="M52.4,26.4l1.3,.3l1.3,.8l1.7,1.1l2.2,1.4l2.2,1.4l3,1.9l3.5,2.2l3.5,2.2l3.5,2.3l42.6,110.7l25.9,16.4l47.5,23.1l36.7,10.4l38,5.1l46.2,2.6" stroke="#4F81BD"/>
<path d="M52.4,26.8l1.3,19.2l1.3,36.2l1.7,16.5l2.2,6.3l2.2,4.6l3,3.4l2.5,2.7l50.6,72.5l25.9,5.9l47.5,8.3l36.7,3.7l38,1.8l46.2,.9" stroke="#8064A2"/>
<path d="M52.4,26.5l1.3,3.3l1.3,5.4l1.7,2.1l2.2,.4l2.2,.4l3,.6l3.5,.7l3.5,.7l2.5,.5l43.7,117.9l25.9,14.2l47.5,20.0l36.7,8.9l38,4.4l46.2,2.3" stroke="#C0504D"/>
<path d="M52.4,26.1l1.3,26.1l1.3,47.5l1.7,23.7l2.2,9.6l2.2,6.5l2.7,6.3l1.7,4.5l4.3,5.3l4.3,4.8l4.3,4.8l6.5,7.7l6.5,7.1l6.5,7.0l6.5,6.9l6.5,7.2l6.5,4.5l25.9,1.0l47.5,1.4l36.7,.6l38,.3l46.2,.2" stroke="#4BACC6"/>
<path d="M52.4,26.7l1.3,20.7l1.3,40.0l1.7,19.3l2.2,7.0l2.2,5.5l3,4.3l4.2,4.0l48.9,64.8l25.9,4.7l47.5,6.6l36.7,3.0l38,1.5l46.2,.8" stroke="#8064A2"/>
<path d="M52.4,26.9l1.3,.9l1.3,3.1l1.7,1.4l2.2,1.8l2.2,1.8l3,2.5l3.5,2.8l3.5,2.8l5.8,4.8l40.4,96.4l25.9,17.9l47.5,25.3l36.7,11.3l38,5.6l46.2,2.9" stroke="#8064A2"/>
<path d="M52.4,26.4l1.3,2.2l1.3,4.0l1.7,1.8l2.2,2.3l2.2,2.3l3,3.2l3.5,3.6l3.5,3.6l4.4,4.7l41.7,100.6l25.9,15.3l47.5,21.5l36.7,9.7l38,4.7l46.2,2.5" stroke="#4F81BD"/>
<path d="M52.4,26.8l1.3,8.7l1.3,14.7l1.7,7.0l2.2,1.0l2.2,1.7l3,.1l3.5,.3l3.5,.1l2.7,.1l43.5,113.5l25.9,9.8l47.5,13.9l36.7,6.2l38,3.1l46.2,1.6" stroke="#4F81BD"/>
<path d="M52.4,26.0l1.3,4.3l1.3,5.8l1.7,2.5l2.2,.7l2.2,.7l3,1.0l3.5,1.1l3.5,1.1l2.2,.7l44,122.0l25.9,12.1l47.5,17.0l36.7,7.6l38,3.8l46.2,1.9" stroke="#9BBB59"/>
<path d="M52.4,26.6l1.3,12.9l1.3,24.1l1.7,11.0l2.2,3.5l2.2,2.8l3,1.6l3.5,.9l4.1,1.0l45.5,96.1l25.9,8.0l47.5,11.3l36.7,5.1l38,2.5l46.2,1.3" stroke="#C0504D"/>
<path d="M52.4,26.1l1.3,21.2l1.3,37.4l1.7,19.2l2.2,7.3l2.2,3.9l3,4.6l3.7,3.4l49.4,78.7l25.9,2.1l47.5,2.9l36.7,1.3l38,.6l46.2,.3" stroke="#C0504D"/>
<path d="M52.4,26.5l1.3,25.8l1.3,47.3l1.7,23.5l2.2,9.9l2.2,6.6l4.3,8.9l4.3,5.7l4.3,5.1l4.3,5.2l6.5,8.2l6.5,7.7l6.5,7.6l6.5,7.5l6.5,7.7l6.5,6.6l25.9,-.1l47.5,-.2l36.7,-.1l38,-.0l46.2,-.0" stroke="#C0504D"/>
<path d="M52.4,26.8l1.3,14.9l1.3,25.3l1.7,12.7l2.2,5.2l2.2,2.9l3,1.1l3.5,.8l3.5,.7l3.5,.1l42.6,89.5l25.9,8.2l47.5,11.5l36.7,5.2l38,2.5l46.2,1.3" stroke="#9BBB59"/>
<path d="M52.4,26.4l1.3,2.9l1.3,4.5l1.7,1.4l2.2,1.8l2.2,1.8l3,2.5l3.5,2.9l3.5,2.9l1.4,1.2l44.8,115.7l25.9,12.7l47.5,17.9l36.7,8.0l38,3.9l46.2,2.0" stroke="#C0504D"/>
<path d="M52.4,26.8l1.3,25.5l1.3,48.3l1.7,23.7l2.2,9.9l2.2,6.7l1.8,4.6l2.5,6.0l4.3,5.6l4.3,4.8l4.3,4.9l6.5,8.0l6.5,7.2l6.5,7.1l6.5,6.9l6.5,7.3l6.5,5.2l25.9,.2l47.5,.2l36.7,.1l38,.0l46.2,.0" stroke="#F79646"/>
<path d="M52.4,26.1l1.3,19.4l1.3,36.6l1.7,17.9l2.2,7.0l2.2,4.2l3,3.5l4.1,2.8l49,81.3l25.9,2.9l47.5,4.0l36.7,1.8l38,.9l46.2,.5" stroke="#8064A2"/>
<path d="M52.4,26.8l1.3,11.1l1.3,21.0l1.7,10.4l2.2,2.2l2.2,1.4l3,.8l3.5,.4l3.5,.4l3.6,.5l42.6,104.4l25.9,8.3l47.5,11.7l36.7,5.3l38,2.6l46.2,1.3" stroke="#4BACC6"/>
<path d="M52.4,26.0l1.3,9.6l1.3,15.3l1.7,6.8l2.2,1.0l2.2,1.2l3,.9l3.5,1.0l3.5,1.0l2.8,.8l43.4,115.7l25.9,8.3l47.5,11.7l36.7,5.3l38,2.6l46.2,1.3" stroke="#F79646"/>
<path d="M52.4,26.8l1.3,5.7l1.3,10.8l1.7,5.0l2.2,1.4l2.2,.7l3,1.1l3.5,.6l3.5,.6l4.6,.8l41.6,103.7l25.9,14.5l47.5,20.5l36.7,9.2l38,4.5l46.2,2.3" stroke="#4BACC6"/>
<path d="M52.4,26.1l1.3,26.2l1.3,47.7l1.7,23.4l2.3,10.4l2,5.7l4.3,7.2l4.3,5.6l4.3,5.0l4.3,5.0l6.5,8.0l6.5,7.4l6.5,7.3l6.5,7.2l6.5,7.5l6.5,3.8l25.9,1.6l47.5,2.2l36.7,1.0l38,.5l46.2,.3" stroke="#8064A2"/>
<path d="M52.4,26.1l1.3,4.4l1.3,7.4l1.7,3.0l2.2,.8l2.2,.7l3,.9l3.5,1.0l3.5,1.0l5,1.5l41.2,116.0l25.9,12.9l47.5,18.3l36.7,8.2l38,4.0l46.2,2.1" stroke="#4BACC6"/>
<path d="M52.4,26.1l1.3,3.7l1.3,6.5l1.7,3.4l2.2,1.1l2.2,1.1l3,1.5l3.5,1.7l3.5,1.7l1.8,.9l44.4,111.1l25.9,14.2l47.5,20.0l36.7,8.9l38,4.4l46.2,2.3" stroke="#C0504D"/>
<path d="M52.4,26.6l1.3,17.9l1.3,32.2l1.7,15.6l2.2,5.0l2.2,4.3l3,2.7l3.5,1.8l3.4,3.0l46.3,89.2l25.9,3.0l47.5,4.2l36.7,1.9l38,.9l46.2,.5" stroke="#C0504D"/>
<path d="M52.4,26.2l1.3,13.1l1.3,20.7l1.7,9.8l2.2,4.1l2.2,1.4l3,1.7l3.5,.8l3.9,.4l45.7,103.5l25.9,7.7l47.5,10.9l36.7,4.9l38,2.4l46.2,1.2" stroke="#C0504D"/>
<path d="M52.4,26.0l1.3,12.6l1.3,23.3l1.7,11.5l2.2,3.5l2.2,2.4l3,2.2l3.5,.4l3.5,.4l2.7,.3l43.5,103.9l25.9,6.4l47.5,9.0l36.7,4.0l38,2.0l46.2,1.0" stroke="#F79646"/>
<path d="M52.4,26.1l1.3,1.4l1.3,1.7l1.7,1.9l2.2,2.4l2.2,2.4l3,3.4l3.5,3.9l3.5,3.9l2.8,3.1l43.4,95.0l25.9,17.9l47.5,25.3l36.7,11.3l38,5.6l46.2,2.9" stroke="#4BACC6"/>
<path d="M52.4,26.5l1.3,18.1l1.3,34.6l1.7,17.7l2.2,5.4l2.2,4.3l3,5.0l3.5,1.4l1.1,1.2l48.5,74.9l25.9,5.6l47.5,7.9l36.7,3.6l38,1.7l46.2,.9" stroke="#4F81BD"/>
<path d="M52.4,26.7l1.3,11.1l1.3,18.4l1.7,8.7l2.2,3.2l2.2,1.4l3,.4l3.5,.6l3.5,.2l3.8,.2l42.4,102.1l25.9,10.1l47.5,14.3l36.7,6.4l38,3.1l46.2,1.6" stroke="#8064A2"/>
<path d="M52.4,26.6l1.3,4.9l1.3,8.0l1.7,2.9l2.2,1.4l2.2,1.4l3,1.9l3.5,2.2l3.5,2.2l1.5,1.0l44.7,101.5l25.9,15.4l47.5,21.8l36.7,9.8l38,4.8l46.2,2.5" stroke="#9BBB59"/>
<path d="M52.4,26.8l1.3,20.6l1.3,37.3l1.7,18.7l2.2,6.9l2.2,4.9l3,4.9l3.5,2.8l1.9,.4l47.7,74.0l25.9,3.3l47.5,4.7l36.7,2.1l38,1.0l46.2,.5" stroke="#C0504D"/>
<path d="M52.4,26.5l1.3,1.5l1.3,2.6l1.7,1.4l2.2,1.7l2.2,1.7l3,2.4l3.5,2.8l3.5,2.8l3.7,3.0l42.5,98.8l25.9,17.9l47.5,25.3l36.7,11.3l38,5.6l46.2,2.9" stroke="#4BACC6"/>
<path d="M52.4,26.1l1.3,19.4l1.3,34.4l1.7,17.6l2.2,5.7l2.2,4.7l3,3.6l3.5,3.0l1.1,.2l48.5,83.2l25.9,3.2l47.5,4.5l36.7,2.0l38,1.0l46.2,.5" stroke="#F79646"/>
<path d="M52.4,26.0l1.3,24.7l1.3,44.7l1.7,22.0l2.2,9.1l2.4,6.4l55.9,72.6l25.9,1.0l47.5,1.4l36.7,.6l38,.3l46.2,.2" stroke="#8064A2"/>
<path d="M52.4,26.9l1.3,22.2l1.3,40.8l1.7,20.8l2.2,7.9l2.2,5.3l3,6.0l1.9,1.7l51.2,61.7l25.9,4.4l47.5,6.3l36.7,2.8l38,1.4l46.2,.7" stroke="#4BACC6"/>
<path d="M52.4,25.9l1.3,3.6l1.3,5.6l1.7,2.4l2.2,.7l2.2,.7l3,1.0l3.5,1.2l3.5,1.2l4.4,1.5l41.8,122.4l25.9,12.0l47.5,17.0l36.7,7.6l38,3.7l46.2,1.9" stroke="#4F81BD"/>
<path d="M52.4,25.9l1.3,24.0l1.3,42.2l1.7,21.3l2.2,7.8l2.2,6.1l3.2,5.2l52.9,71.9l25.9,1.3l47.5,1.9l36.7,.8l38,.4l46.2,.2" stroke="#4F81BD"/>
<path d="M52.4,26.0l1.3,22.3l1.3,40.8l1.7,18.8l2.2,7.9l2.2,5.6l3,4.9l3.7,4.1l49.4,64.7l25.9,3.9l47.5,5.6l36.7,2.5l38,1.2l46.2,.6" stroke="#F79646"/>
<path d="M52.4,26.3l1.3,9.9l1.3,20.1l1.7,7.2l2.2,4.0l2.2,1.8l3,.8l3.5,.1l3.5,.1l3.7,.1l42.5,107.3l25.9,8.8l47.5,12.4l36.7,5.6l38,2.7l46.2,1.4" stroke="#F79646"/>
<path d="M52.4,26.5l1.3,11.1l1.3,19.2l1.7,8.1l2.2,2.6l2.2,1.3l3,.8l3.5,.9l4.2,.7l45.4,101.3l25.9,10.2l47.5,14.4l36.7,6.5l38,3.2l46.2,1.6" stroke="#4F81BD"/>
<path d="M52.4,26.0l1.3,9.4l1.3,16.2l1.7,8.4l2.2,2.3l2.2,.5l3,.5l3.5,.6l3.5,.6l2.7,.5l43.5,115.1l25.9,8.2l47.5,11.5l36.7,5.2l38,2.5l46.2,1.3" stroke="#4BACC6"/>
<path d="M52.4,26.7l1.3,19.5l1.3,35.5l1.7,17.8l2.2,5.6l2.2,5.3l3,2.9l4.1,3.8l49,86.2l25.9,1.6l47.5,2.3l36.7,1.0l38,.5l46.2,.3" stroke="#4F81BD"/>
<path d="M52.4,26.8l1.3,13.7l1.3,24.9l1.7,10.8l2.2,5.2l2.2,1.2l3,1.5l3.5,.9l2.9,1.9l46.7,104.0l25.9,5.1l47.5,7.2l36.7,3.2l38,1.6l46.2,.8" stroke="#F79646"/>
<path d="M52.4,26.1l1.3,1.0l1.3,1.3l1.7,1.8l2.2,2.2l2.2,2.2l3,3.1l3.5,3.5l3.5,3.5l5,5.2l41.1,101.3l25.9,16.2l47.5,22.9l36.7,10.3l38,5.0l46.2,2.6" stroke="#C0504D"/>
<path d="M52.4,25.9l1.3,22.2l1.3,39.6l1.7,19.7l2.2,7.4l2.2,4.1l3,5.7l3.5,2.7l1.2,.9l48.5,70.1l25.9,3.1l47.5,4.3l36.7,1.9l38,1.0l46.2,.5" stroke="#4BACC6"/>
<path d="M52.4,26.5l1.3,6.5l1.3,11.4l1.7,6.2l2.2,1.4l2.2,1.1l3,1.6l3.5,1.8l3.5,1.8l5.4,2.8l40.8,94.8l25.9,15.0l47.5,21.1l36.7,9.5l38,4.6l46.2,2.4" stroke="#C0504D"/>
<path d="M52.4,26.0l1.3,23.2l1.3,40.5l1.7,20.5l2.2,8.4l2.2,5.6l3,4.8l1.8,2.9l51.3,68.7l25.9,2.4l47.5,3.5l36.7,1.5l38,.8l46.2,.4" stroke="#C0504D"/>
<path d="M52.4,26.5l1.3,.2l1.3,.8l1.7,1.0l2.2,1.3l2.2,1.3l3,1.8l3.5,2.0l3.5,2.0l2.3,1.3l43.9,107.1l25.9,17.9l47.5,25.3l36.7,11.3l38,5.6l46.2,2.9" stroke="#4BACC6"/>
<path d="M52.4,26.2l1.3,12.0l1.3,18.6l1.7,10.0l2.2,3.2l2.2,1.2l3,2.1l3.5,.3l3.5,.3l2,.2l44.2,93.5l25.9,11.7l47.5,16.5l36.7,7.4l38,3.6l46.2,1.9" stroke="#F79646"/>
<path d="M52.4,26.7l1.3,21.5l1.3,40.2l1.7,20.3l2.2,7.1l2.2,5.9l3,5.1l4.1,3.7l49,69.1l25.9,2.7l47.5,3.9l36.7,1.7l38,.8l46.2,.4" stroke="#C0504D"/>
<path d="M52.4,26.4l1.3,.8l1.3,1.4l1.7,1.1l2.2,1.4l2.2,1.4l3,1.9l3.5,2.2l3.5,2.2l3.9,2.5l42.3,115.4l25.9,14.7l47.5,20.7l36.7,9.3l38,4.6l46.2,2.4" stroke="#9BBB59"/>
<path d="M52.4,26.0l1.3,6.5l1.3,11.0l1.7,5.0l2.2,1.1l2.2,1.1l3,1.6l3.5,1.8l3.5,1.8l2.2,1.1l44,115.8l25.9,10.2l47.5,14.4l36.7,6.5l38,3.2l46.2,1.6" stroke="#9BBB59"/>
<path d="M52.4,26.4l1.3,10.2l1.3,19.1l1.7,7.9l2.2,2.5l2.2,1.3l3,1.0l3.5,1.2l3.5,.4l4.1,.5l42.1,101.0l25.9,10.6l47.5,14.9l36.7,6.7l38,3.3l46.2,1.7" stroke="#9BBB59"/>
<path d="M52.4,26.3l1.3,10.7l1.3,17.7l1.7,7.1l2.2,2.9l2.2,1.7l3,.3l3.5,.3l3.5,.3l4.8,.5l41.4,97.6l25.9,12.2l47.5,17.3l36.7,7.7l38,3.8l46.2,2.0" stroke="#8064A2"/>
<path d="M52.4,26.3l1.3,22.4l1.3,41.7l1.7,19.9l2.2,7.9l2.2,6.1l3.4,5.4l52.7,70.8l25.9,2.4l47.5,3.4l36.7,1.5l38,.8l46.2,.4" stroke="#4F81BD"/>
<path d="M52.4,26.4l1.3,21.5l1.3,37.6l1.7,19.1l2.2,7.2l2.2,3.7l3,5.7l3.5,3.0l2.3,1.0l47.4,69.0l25.9,4.2l47.5,5.9l36.7,2.7l38,1.3l46.2,.7" stroke="#C0504D"/>
<path d="M52.4,26.5l1.3,.6l1.3,1.2l1.7,.8l2.2,1.0l2.2,1.0l3,1.5l3.5,1.7l3.5,1.7l5.6,2.7l40.6,117.3l25.9,14.9l47.5,21.0l36.7,9.4l38,4.6l46.2,2.4" stroke="#C0504D"/>
<path d="M52.4,26.9l1.3,20.3l1.3,37.3l1.7,17.5l2.2,7.9l2.2,4.3l3,4.3l3.5,2.3l1.3,.8l48.4,74.1l25.9,3.8l47.5,5.4l36.7,2.4l38,1.2l46.2,.6" stroke="#C0504D"/>
<path d="M52.4,26.4l1.3,21.6l1.3,41.1l1.7,19.3l2.2,8.7l2.2,5.0l3.6,6.1l52.6,65.1l25.9,4.4l47.5,6.3l36.7,2.8l38,1.4l46.2,.7" stroke="#4F81BD"/>
<path d="M52.4,26.6l1.3,16.9l1.3,29.5l1.7,13.2l2.2,6.4l2.2,1.5l3,3.2l3.5,2.7l3.5,1.2l1.1,.1l45,84.3l25.9,6.6l47.5,9.3l36.7,4.2l38,2.0l46.2,1.1" stroke="#C0504D"/>
<path d="M52.4,27.0l1.3,20.7l1.3,39.7l1.7,18.0l2.2,7.5l2.2,5.7l3,4.5l3.9,2.8l49.2,71.6l25.9,3.3l47.5,4.6l36.7,2.1l38,1.0l46.2,.5" stroke="#4BACC6"/>
<path d="M52.4,26.8l1.3,10.9l1.3,23.6l1.7,10.4l2.2,3.8l2.2,1.6l3,1.1l3.5,.6l4,.7l45.6,109.0l25.9,5.8l47.5,8.2l36.7,3.7l38,1.8l46.2,.9" stroke="#8064A2"/>
<path d="M52.4,26.8l1.3,3.3l1.3,5.9l1.7,2.4l2.2,1.2l2.2,1.2l3,1.6l3.5,1.9l3.5,1.9l3.1,1.7l43,100.8l25.9,16.9l47.5,23.9l36.7,10.7l38,5.3l46.2,2.7" stroke="#8064A2"/>
<path d="M52.4,26.1l1.3,12.8l1.3,21.1l1.7,9.3l2.2,4.7l2.2,.4l3,2.4l3.5,.6l3.5,.6l1.9,.4l44.3,108.9l25.9,6.1l47.5,8.6l36.7,3.9l38,1.9l46.2,1.0" stroke="#C0504D"/>
<path d="M52.4,26.3l1.3,10.1l1.3,17.8l1.7,9.1l2.2,1.9l2.2,1.2l3,.8l3.5,.8l3.5,.7l1.5,.3l44.7,103.9l25.9,10.2l47.5,14.4l36.7,6.4l38,3.2l46.2,1.6" stroke="#F79646"/>
<path d="M52.4,26.5l1.3,8.9l1.3,15.0l1.7,6.9l2.2,1.4l2.2,1.4l3,.6l3.5,.7l3.5,.7l3.1,.6l43.1,113.2l25.9,9.3l47.5,13.2l36.7,5.9l38,2.9l46.2,1.5" stroke="#C0504D"/>
<path d="M52.4,26.7l1.3,25.6l1.3,47.8l1.7,23.9l2.4,10.5l2,6.1l4.3,7.7l4.3,5.8l4.3,5.1l4.3,5.2l6.5,8.4l6.5,7.7l6.5,7.5l6.5,7.4l6.5,7.8l6.5,6.1l25.9,-.0l47.5,-.0l36.7,-.0l38,-.0l46.2,-.0" stroke="#C0504D"/>
<path d="M52.4,26.7l1.3,15.0l1.3,29.3l1.7,12.4l2.2,5.7l2.2,3.3l3,2.6l3.5,1.4l3.1,1.1l46.5,90.0l25.9,6.1l47.5,8.6l36.7,3.8l38,1.9l46.2,1.0" stroke="#C0504D"/>
<path d="M52.4,26.5l1.3,21.9l1.3,37.9l1.7,19.7l2.2,7.2l2.2,4.5l3,5.6l3.2,3.1l49.9,65.5l25.9,4.8l47.5,6.8l36.7,3.0l38,1.5l46.2,.8" stroke="#4F81BD"/>
<path d="M52.4,26.1l1.3,8.4l1.3,15.1l1.7,7.0l2.2,2.0l2.2,.4l3,.6l3.5,.6l3.5,.6l2.3,.4l43.9,98.8l25.9,13.7l47.5,19.4l36.7,8.7l38,4.3l46.2,2.2" stroke="#4BACC6"/>
<path d="M52.4,26.7l1.3,21.7l1.3,39.4l1.7,19.2l2.2,8.2l2.2,4.4l3,5.4l2.1,2.6l50.9,64.2l25.9,4.9l47.5,6.9l36.7,3.1l38,1.5l46.2,.8" stroke="#4F81BD"/>
<path d="M52.4,26.0l1.3,16.4l1.3,26.6l1.7,13.1l2.2,5.7l2.2,1.6l3,4.0l3.5,.5l2.9,.4l46.7,99.5l25.9,4.3l47.5,6.1l36.7,2.7l38,1.3l46.2,.7" stroke="#4F81BD"/>
<path d="M52.4,26.4l1.3,6.3l1.3,10.9l1.7,4.9l2.2,1.3l2.2,.6l3,.8l3.5,.9l3.5,.9l5.3,1.4l40.9,114.2l25.9,11.4l47.5,16.0l36.7,7.2l38,3.5l46.2,1.8" stroke="#F79646"/>
<path d="M52.4,26.9l1.3,1.0l1.3,3.0l1.7,.9l2.2,.3l2.2,.3l3,.4l3.5,.4l3.5,.4l3.9,.5l42.3,129.3l25.9,12.8l47.5,18.1l36.7,8.1l38,4.0l46.2,2.1" stroke="#F79646"/>
<path d="M52.4,26.4l1.3,6.4l1.3,12.4l1.7,5.7l2.2,2.5l2.2,.2l3,.5l3.5,.4l3.5,.4l3.5,.4l42.7,101.9l25.9,14.5l47.5,20.5l36.7,9.2l38,4.5l46.2,2.3" stroke="#C0504D"/>
<path d="M52.4,27.0l1.3,5.8l1.3,10.4l1.7,4.1l2.2,2.0l2.2,1.0l3,1.4l3.5,1.6l3.5,1.6l4.8,2.2l41.4,111.9l25.9,11.3l47.5,15.9l36.7,7.1l38,3.5l46.2,1.8" stroke="#F79646"/>
<path d="M52.4,26.8l1.3,4.6l1.3,8.2l1.7,3.2l2.2,1.2l2.2,.8l3,1.1l3.5,1.3l3.5,1.3l1.7,.6l44.5,108.5l25.9,14.5l47.5,20.4l36.7,9.2l38,4.5l46.2,2.3" stroke="#F79646"/>
<path d="M52.4,27.3l15.5,.0l6.4,-1.4l42.9,126.3l25.9,16.0l47.5,22.5l36.7,10.1l38,5.0l46.2,2.6" stroke="#F79646"/>
<path d="M52.4,26.8l1.3,7.8l1.3,15.6l1.7,6.9l2.2,2.8l2.2,.9l3,.8l3.5,.9l3.5,.9l1.6,.4l44.6,99.2l25.9,12.9l47.5,18.2l36.7,8.2l38,4.0l46.2,2.1" stroke="#C0504D"/>
<path d="M52.4,26.5l1.3,24.5l1.3,45.1l1.7,21.7l2.2,9.8l2.2,5.7l3.8,7.7l52.3,60.6l25.9,2.1l47.5,3.0l36.7,1.3l38,.7l46.2,.3" stroke="#9BBB59"/>
<path d="M52.4,26.3l1.3,24.7l1.3,44.6l1.7,22.2l2.2,8.5l2.7,8.0l55.6,64.8l25.9,2.8l47.5,4.0l36.7,1.8l38,.9l46.2,.5" stroke="#F79646"/>
<path d="M52.4,26.0l1.3,14.1l1.3,25.1l1.7,11.5l2.2,4.6l2.2,2.5l3,1.2l3.5,.7l3.5,.7l2.5,.5l43.7,98.0l25.9,6.8l47.5,9.7l36.7,4.3l38,2.1l46.2,1.1" stroke="#8064A2"/>
<path d="M52.4,26.3l1.3,13.2l1.3,25.1l1.7,12.4l2.2,4.3l2.2,1.1l3,2.9l3.5,1.4l3.7,.4l46,89.8l25.9,9.0l47.5,12.7l36.7,5.7l38,2.8l46.2,1.4" stroke="#4F81BD"/>
<path d="M52.4,26.6l1.3,18.4l1.3,32.1l1.7,16.2l2.2,5.9l2.2,3.3l3,2.6l4.3,2.9l48.8,79.1l25.9,6.2l47.5,8.7l36.7,3.9l38,1.9l46.2,1.0" stroke="#4F81BD"/>
<path d="M52.4,26.6l1.3,21.6l1.3,37.3l1.7,18.7l2.2,7.6l2.2,4.6l3,4.8l3.5,3.7l1.5,.3l48.1,80.0l25.9,1.2l47.5,1.7l36.7,.7l38,.4l46.2,.2" stroke="#C0504D"/>
<path d="M52.4,26.1l1.3,15.4l1.3,25.7l1.7,13.4l2.2,4.8l2.2,1.3l3,2.2l3.5,.4l3.5,2.1l46.2,87.8l25.9,8.3l47.5,11.8l36.7,5.3l38,2.6l46.2,1.3" stroke="#9BBB59"/>
<path d="M52.4,26.7l.9,16.5l.9,22.0l.9,36.7l1.3,21.9l1.3,8.1l1.7,6.5l1.7,5.5l2.2,5.6l2.2,4.4l4.3,6.2l4.3,4.8l4.3,4.8l6.5,8.5l6.5,7.1l6.5,6.8l6.5,6.6l6.5,7.3l6.5,3.4l25.9,-.1l47.5,-.1l36.7,-.0l38,-.0l46.2,-.0" stroke="#FBC8A0"/>
<path d="M52.4,27.1l1.3,7.0l1.3,12.4l1.7,6.3l2.2,.8l2.2,1.0l3,1.4l3.5,1.0l3.5,1.0l3.7,1.1l42.4,104.5l25.9,12.8l47.5,18.0l36.7,8.1l38,4.0l46.2,2.1" stroke="#4F81BD"/>
<path d="M52.4,26.1l1.3,18.5l1.3,34.3l1.7,17.6l2.2,6.3l2.2,4.5l3,3.9l3.5,2.3l2.5,.6l47.1,80.1l25.9,4.2l47.5,6.0l36.7,2.7l38,1.3l46.2,.7" stroke="#8064A2"/>
<path d="M52.4,26.2l1.3,20.2l1.3,37.6l1.7,18.9l2.2,5.8l2.2,5.0l3,5.1l2.2,2.2l50.8,70.5l25.9,5.0l47.5,7.0l36.7,3.1l38,1.5l46.2,.8" stroke="#F79646"/>
<path d="M52.4,26.5l1.3,15.4l1.3,30.7l1.7,13.6l2.2,5.5l2.2,2.2l3,3.2l3.5,1.2l3.5,.6l1.1,.3l45.1,81.9l25.9,7.8l47.5,11.1l36.7,5.0l38,2.4l46.2,1.3" stroke="#8064A2"/>
<path d="M52.4,26.7l1.3,9.5l1.3,15.6l1.7,7.4l2.2,2.7l2.2,.3l3,1.7l3.5,.3l3.5,.3l3.3,.2l42.9,109.8l25.9,9.7l47.5,13.7l36.7,6.1l38,3.0l46.2,1.6" stroke="#C0504D"/>
<path d="M52.4,26.7l1.3,24.3l1.3,45.5l1.7,22.2l2.2,9.1l2.5,6.8l55.8,66.0l25.9,2.4l47.5,3.3l36.7,1.5l38,.7l46.2,.4" stroke="#8064A2"/>
<path d="M52.4,26.4l1.3,9.7l1.3,17.6l1.7,8.7l2.2,2.0l2.2,2.1l3,.7l3.5,.7l3.5,.7l1.4,.3l44.8,103.3l25.9,10.4l47.5,14.6l36.7,6.5l38,3.2l46.2,1.7" stroke="#F79646"/>
<path d="M52.4,26.4l1.3,3.6l1.3,7.2l1.7,2.3l2.2,1.3l2.2,1.3l3,1.8l3.5,2.0l3.5,2.0l3.8,2.2l42.4,114.6l25.9,12.5l47.5,17.7l36.7,7.9l38,3.9l46.2,2.0" stroke="#8064A2"/>
<path d="M52.4,26.2l1.3,26.0l1.3,48.6l1.7,24.0l2.2,10.1l2.2,6.6l1.3,3.5l3,6.9l4.3,5.6l4.3,4.7l4.3,4.8l6.5,7.9l6.5,7.0l6.5,6.8l6.5,6.7l6.5,7.1l6.5,2.7l25.9,1.1l47.5,1.5l36.7,.7l38,.3l46.2,.2" stroke="#9BBB59"/>
<path d="M52.4,27.0l1.3,23.9l1.3,44.1l1.7,22.1l2.2,8.9l2.2,5.6l3.4,7.1l52.7,71.2l25.9,-.2l47.5,-.3l36.7,-.1l38,-.1l46.2,-.0" stroke="#4BACC6"/>
<path d="M52.4,26.1l1.3,24.4l1.3,44.4l1.7,22.5l2.2,8.6l2.2,5.9l2.9,5.7l53.2,68.9l25.9,.7l47.5,1.0l36.7,.5l38,.2l46.2,.1" stroke="#C0504D"/>
<path d="M52.4,26.3l1.3,12.6l1.3,21.4l1.7,11.3l2.2,2.8l2.2,2.4l3,.5l3.5,1.1l3.5,.5l3.4,.5l42.8,97.4l25.9,9.1l47.5,12.8l36.7,5.7l38,2.8l46.2,1.5" stroke="#8064A2"/>
<path d="M52.4,26.3l1.3,24.9l1.3,45.0l1.7,22.3l2.2,8.9l2.2,6.0l1.2,3.1l54.9,72.6l25.9,.0l47.5,.0l36.7,.0l38,.0l46.2,.0" stroke="#4BACC6"/>
<path d="M52.4,26.3l1.3,14.0l1.3,26.8l1.7,13.0l2.2,5.2l2.2,3.3l3,1.6l3.5,.5l4.2,1.1l45.5,99.3l25.9,5.1l47.5,7.2l36.7,3.2l38,1.6l46.2,.8" stroke="#C0504D"/>
<path d="M52.4,26.2l1.3,14.5l1.3,24.9l1.7,13.8l2.2,4.3l2.2,1.2l3,2.3l3.5,1.3l3.5,.7l3.4,.6l42.8,86.8l25.9,9.1l47.5,12.8l36.7,5.8l38,2.8l46.2,1.5" stroke="#4BACC6"/>
<path d="M52.4,26.2l1.3,3.3l1.3,4.8l1.7,2.2l2.2,1.8l2.2,1.8l3,2.6l3.5,2.9l3.5,2.9l2.9,2.4l43.3,98.4l25.9,16.7l47.5,23.6l36.7,10.6l38,5.2l46.2,2.7" stroke="#8064A2"/>
<path d="M52.4,26.2l1.3,6.5l1.3,10.8l1.7,4.8l2.2,2.1l2.2,.9l3,1.3l3.5,1.5l3.5,1.5l3.3,1.4l42.9,112.1l25.9,11.3l47.5,15.9l36.7,7.1l38,3.5l46.2,1.8" stroke="#4BACC6"/>
<path d="M52.4,26.3l1.3,21.5l1.3,40.4l1.7,19.2l2.2,8.4l2.2,4.8l3,5.2l.9,.7l52.2,69.1l25.9,3.8l47.5,5.4l36.7,2.4l38,1.2l46.2,.6" stroke="#8064A2"/>
<path d="M52.4,26.3l1.3,3.4l1.3,5.8l1.7,2.3l2.2,.4l2.2,.4l3,.5l3.5,.6l3.5,.6l3.4,.6l42.8,118.5l25.9,13.9l47.5,19.6l36.7,8.8l38,4.3l46.2,2.2" stroke="#4BACC6"/>
<path d="M52.4,26.6l1.3,17.3l1.3,29.5l1.7,14.7l2.2,6.2l2.2,2.8l3,2.4l3.5,2.6l3.5,1.6l1.5,.1l44.7,87.2l25.9,5.1l47.5,7.2l36.7,3.2l38,1.6l46.2,.8" stroke="#F79646"/>
<path d="M52.4,26.5l1.3,19.7l1.3,34.2l1.7,17.2l2.2,6.1l2.2,4.1l3,4.3l4,1.4l49.1,87.8l25.9,2.1l47.5,3.0l36.7,1.4l38,.7l46.2,.3" stroke="#F79646"/>
<path d="M52.4,26.5l1.3,25.0l1.3,45.8l1.7,22.2l2.2,9.5l2.2,5.9l2.3,5.6l53.8,61.2l25.9,2.1l47.5,3.0l36.7,1.3l38,.7l46.2,.3" stroke="#F79646"/>
<path d="M52.4,26.4l1.3,5.5l1.3,9.0l1.7,4.4l2.2,1.1l2.2,.7l3,.9l3.5,1.0l3.5,1.0l4.4,1.3l41.8,121.8l25.9,10.1l47.5,14.3l36.7,6.4l38,3.1l46.2,1.6" stroke="#F79646"/>
<path d="M52.4,26.5l1.3,4.6l1.3,10.2l1.7,3.5l2.2,1.6l2.2,.7l3,1.0l3.5,1.1l3.5,1.1l3.5,1.1l42.7,100.2l25.9,16.1l47.5,22.8l36.7,10.2l38,5.0l46.2,2.6" stroke="#4F81BD"/>
<path d="M52.4,26.3l.9,17.5l.9,22.0l.9,36.7l1.3,21.9l1.3,8.1l1.7,6.5l1.7,5.5l2.2,5.6l2.2,4.4l4.3,6.1l4.3,4.7l4.3,4.8l6.5,8.4l6.5,7.0l6.5,6.7l6.5,6.5l6.5,7.2l6.5,1.5l25.9,.4l47.5,.6l36.7,.3l38,.1l46.2,.1" stroke="#FBC8A0"/>
<path d="M52.4,26.4l1.3,19.6l1.3,35.2l1.7,16.8l2.2,7.3l2.2,3.3l3,4.7l3.1,1.3l50,77.9l25.9,4.7l47.5,6.6l36.7,2.9l38,1.4l46.2,.7" stroke="#9BBB59"/>
<path d="M52.4,27.0l1.3,6.0l1.3,13.3l1.7,6.2l2.2,1.6l2.2,.2l3,1.3l3.5,.1l3.5,.1l3.3,.1l42.9,117.6l25.9,10.0l47.5,14.1l36.7,6.3l38,3.1l46.2,1.6" stroke="#C0504D"/>
<path d="M52.4,26.5l1.3,13.5l1.3,24.9l1.7,10.6l2.2,4.6l2.2,1.5l3,2.3l3.5,.2l3.5,.2l1.1,1.0l45.1,98.8l25.9,7.1l47.5,10.0l36.7,4.5l38,2.2l46.2,1.1" stroke="#9BBB59"/>
<path d="M52.4,26.7l1.3,4.1l1.3,8.4l1.7,3.8l2.2,1.2l2.2,.7l3,.9l3.5,1.0l3.5,1.0l4.8,1.5l41.4,118.0l25.9,11.7l47.5,16.6l36.7,7.4l38,3.6l46.2,1.9" stroke="#8064A2"/>
<path d="M52.4,26.1l1.3,16.6l1.3,30.6l1.7,14.9l2.2,4.4l2.2,2.4l3,3.6l3.5,.8l4.2,2.0l45.4,86.5l25.9,6.0l47.5,8.4l36.7,3.8l38,1.9l46.2,1.0" stroke="#4BACC6"/>
<path d="M52.4,26.8l1.3,16.9l1.3,29.5l1.7,13.0l2.2,5.7l2.2,3.7l3,3.2l3.5,1.0l2.1,.9l47.6,84.9l25.9,6.6l47.5,9.3l36.7,4.2l38,2.1l46.2,1.1" stroke="#8064A2"/>
<path d="M52.4,26.3l1.3,16.3l1.3,28.8l1.7,12.9l2.2,5.0l2.2,2.3l3,2.8l3.5,2.0l3,.7l46.6,94.9l25.9,4.8l47.5,6.8l36.7,3.0l38,1.5l46.2,.8" stroke="#C0504D"/>
<path d="M52.4,26.1l1.3,8.9l1.3,13.4l1.7,6.2l2.2,2.1l2.2,1.7l3,.2l3.5,.3l3.5,.3l3.6,.3l42.6,107.9l25.9,11.7l47.5,16.5l36.7,7.4l38,3.6l46.2,1.9" stroke="#9BBB59"/>
<path d="M52.4,26.8l1.3,2.4l1.3,6.3l1.7,2.0l2.2,.3l2.2,.3l3,.4l3.5,.4l3.5,.4l4.7,.6l41.5,107.6l25.9,17.2l47.5,24.3l36.7,10.9l38,5.4l46.2,2.8" stroke="#F79646"/>
<path d="M52.4,26.1l1.3,14.5l1.3,24.7l1.7,11.8l2.2,2.9l2.2,2.6l3,2.1l3.5,.5l3.5,.5l1.8,.3l44.4,96.3l25.9,7.5l47.5,10.5l36.7,4.7l38,2.3l46.2,1.2" stroke="#8064A2"/>
<path d="M52.4,26.8l1.3,19.4l1.3,35.6l1.7,16.7l2.2,7.5l2.2,3.7l3,4.3l3.7,2.0l49.4,79.6l25.9,3.8l47.5,5.4l36.7,2.4l38,1.2l46.2,.6" stroke="#4F81BD"/>
<path d="M52.4,26.4l1.3,25.9l1.3,48.9l1.7,24.1l2.2,10.1l2.2,6.5l1.5,4.3l2.8,6.4l4.3,5.7l4.3,4.7l4.3,4.8l6.5,8.0l6.5,7.0l6.5,6.8l6.5,6.7l6.5,7.2l6.5,3.1l25.9,.7l47.5,1.1l36.7,.5l38,.2l46.2,.1" stroke="#4F81BD"/>
<path d="M52.4,26.6l1.3,7.3l1.3,12.7l1.7,4.9l2.2,2.3l2.2,1.0l3,1.4l3.5,1.6l3.5,1.6l2.1,1.0l44.1,114.2l25.9,9.7l47.5,13.7l36.7,6.1l38,3.0l46.2,1.6" stroke="#8064A2"/>
<path d="M52.4,26.4l1.3,21.7l1.3,40.2l1.7,19.7l2.2,8.5l2.2,5.1l3.6,5.6l52.5,73.4l25.9,2.4l47.5,3.4l36.7,1.5l38,.8l46.2,.4" stroke="#4BACC6"/>
<path d="M52.4,26.6l1.3,11.5l1.3,18.6l1.7,8.5l2.2,2.8l2.2,2.8l3,1.2l3.5,.3l3.5,.2l2.4,.2l43.7,97.3l25.9,11.0l47.5,15.5l36.7,6.9l38,3.4l46.2,1.8" stroke="#4F81BD"/>
<path d="M52.4,26.7l1.3,3.3l1.3,5.2l1.7,3.2l2.2,.5l2.2,.5l3,.8l3.5,.9l3.5,.9l3,.8l43.2,119.3l25.9,13.2l47.5,18.7l36.7,8.4l38,4.1l46.2,2.1" stroke="#4F81BD"/>
<path d="M52.4,26.4l1.3,25.8l1.3,48.3l1.7,23.7l2.2,10.1l2.2,6.7l4.2,9.5l4.3,5.7l4.3,5.0l4.3,5.0l6.5,8.2l6.5,7.4l6.5,7.2l6.5,7.1l6.5,7.5l6.5,5.9l25.9,-.1l47.5,-.1l36.7,-.1l38,-.0l46.2,-.0" stroke="#8064A2"/>
<path d="M52.4,26.0l.9,16.7l.9,22.0l.9,36.7l1.3,21.9l1.3,8.1l1.7,6.5l1.7,5.5l2.2,5.7l2.2,4.4l4.3,6.2l4.3,4.8l4.3,4.9l6.5,8.5l6.5,7.1l6.5,6.8l6.5,6.6l6.5,7.3l6.5,2.8l25.9,.1l47.5,.2l36.7,.1l38,.0l46.2,.0" stroke="#BFB0D4"/>
<path d="M52.4,26.2l1.3,19.7l1.3,36.0l1.7,18.0l2.2,6.0l2.2,4.8l3,4.3l3.5,2.4l49.6,81.9l25.9,2.8l47.5,4.0l36.7,1.8l38,.9l46.2,.5" stroke="#8064A2"/>
<path d="M52.4,26.6l1.3,14.9l1.3,29.1l1.7,13.8l2.2,5.0l2.2,3.5l3,2.3l3.5,.9l3.5,2.2l2.7,.5l43.5,90.3l25.9,5.6l47.5,7.9l36.7,3.5l38,1.7l46.2,.9" stroke="#F79646"/>
<path d="M52.4,26.5l1.3,.1l1.3,1.1l1.7,1.5l2.2,1.9l2.2,1.9l3,2.7l3.5,3.0l3.5,3.0l3.5,3.1l42.7,113.3l25.9,14.3l47.5,20.2l36.7,9.0l38,4.4l46.2,2.3" stroke="#4BACC6"/>
<path d="M52.4,26.6l1.3,4.6l1.3,7.6l1.7,4.0l2.2,1.3l2.2,1.3l3,1.9l3.5,2.1l3.5,2.1l5.6,3.4l40.6,113.6l25.9,11.3l47.5,16.0l36.7,7.2l38,3.5l46.2,1.8" stroke="#9BBB59"/>
<path d="M52.4,25.9l1.3,2.6l1.3,3.9l1.7,2.0l2.2,1.4l2.2,1.4l3,2.0l3.5,2.3l3.5,2.3l2.8,1.8l43.4,111.4l25.9,14.6l47.5,20.6l36.7,9.2l38,4.5l46.2,2.4" stroke="#4F81BD"/>
<path d="M52.4,26.5l1.3,11.6l1.3,22.3l1.7,8.6l2.2,3.2l2.2,2.2l3,2.6l3.5,.2l3.5,.2l3.8,.2l42.3,94.1l25.9,10.5l47.5,14.9l36.7,6.7l38,3.3l46.2,1.7" stroke="#8064A2"/>
<path d="M52.4,26.7l1.3,21.9l1.3,40.5l1.7,19.7l2.2,7.6l2.2,5.2l3.5,5.7l52.6,77.7l25.9,1.2l47.5,1.7l36.7,.7l38,.4l46.2,.2" stroke="#F79646"/>
<path d="M52.4,26.5l1.3,16.7l1.3,28.1l1.7,14.2l2.2,4.8l2.2,2.8l3,3.9l3.5,.9l3.5,1.2l1.8,.1l44.4,82.9l25.9,7.6l47.5,10.8l36.7,4.8l38,2.4l46.2,1.2" stroke="#8064A2"/>
<path d="M52.4,25.9l1.3,26.4l1.3,47.8l1.7,23.6l2.2,10.0l2.2,6.4l1.9,4.8l2.4,5.8l4.3,5.5l4.3,4.9l4.3,4.9l6.5,8.0l6.5,7.3l6.5,7.2l6.5,7.1l6.5,7.4l6.5,5.5l25.9,.2l47.5,.3l36.7,.1l38,.1l46.2,.0" stroke="#4F81BD"/>
<path d="M52.4,26.8l1.3,18.6l1.3,32.5l1.7,17.6l2.2,6.1l2.2,2.3l3,5.1l3.5,1.0l3.4,2.0l46.2,74.3l25.9,6.4l47.5,9.0l36.7,4.1l38,2.0l46.2,1.0" stroke="#C0504D"/>
<path d="M52.4,25.9l1.3,24.4l1.3,42.8l1.7,21.0l2.2,8.4l2.2,5.7l3,5.8l1.5,2.1l51.6,71.5l25.9,.5l47.5,.7l36.7,.3l38,.1l46.2,.1" stroke="#F79646"/>
<path d="M52.4,27.0l1.3,9.3l1.3,18.4l1.7,9.7l2.2,2.9l2.2,1.4l3,.5l3.5,.6l3.5,.6l2.1,.4l44.1,106.6l25.9,8.9l47.5,12.6l36.7,5.6l38,2.8l46.2,1.4" stroke="#4F81BD"/>
<path d="M52.4,26.5l1.3,5.2l1.3,10.0l1.7,3.4l2.2,1.4l2.2,1.1l3,1.5l3.5,1.8l3.5,1.8l1.6,.8l44.6,119.0l25.9,10.3l47.5,14.5l36.7,6.5l38,3.2l46.2,1.7" stroke="#4F81BD"/>
<path d="M52.4,26.7l1.3,18.6l1.3,35.0l1.7,18.0l2.2,7.0l2.2,3.0l3,3.6l3.5,2.9l1.6,.4l48,87.4l25.9,1.9l47.5,2.6l36.7,1.2l38,.6l46.2,.3" stroke="#9BBB59"/>
<path d="M52.4,26.9l1.3,11.3l1.3,22.3l1.7,10.2l2.2,4.0l2.2,2.4l3,.4l3.5,1.3l3.5,.6l2.6,.3l43.6,101.5l25.9,7.8l47.5,11.0l36.7,4.9l38,2.4l46.2,1.3" stroke="#4F81BD"/>
<path d="M52.4,26.9l1.3,-.3l1.3,1.2l1.7,1.6l2.2,1.9l2.2,1.9l3,2.7l3.5,3.1l3.5,3.1l3.5,3.2l42.7,99.9l25.9,17.9l47.5,25.3l36.7,11.3l38,5.6l46.2,2.9" stroke="#8064A2"/>
<path d="M52.4,26.7l1.3,2.3l1.3,4.6l1.7,1.8l2.2,2.0l2.2,2.0l3,2.8l3.5,3.2l3.5,3.2l2.3,2.2l43.9,112.8l25.9,12.7l47.5,18.0l36.7,8.0l38,4.0l46.2,2.0" stroke="#C0504D"/>
<path d="M52.4,26.8l1.3,10.3l1.3,18.4l1.7,10.3l2.2,1.3l2.2,1.5l3,2.6l3.5,.5l3.5,.5l2.1,.3l44.1,110.3l25.9,7.4l47.5,10.4l36.7,4.7l38,2.3l46.2,1.2" stroke="#8064A2"/>
<path d="M52.4,27.0l1.3,18.5l1.3,36.6l1.7,16.4l2.2,5.9l2.2,4.3l3,5.1l3.9,2.3l49.2,79.8l25.9,3.7l47.5,5.2l36.7,2.3l38,1.1l46.2,.6" stroke="#4F81BD"/>
<path d="M52.4,26.7l1.3,12.1l1.3,21.5l1.7,10.5l2.2,3.4l2.2,2.5l3,1.0l3.5,.5l3.5,.5l4.4,.7l41.8,106.5l25.9,6.5l47.5,9.2l36.7,4.1l38,2.0l46.2,1.0" stroke="#4BACC6"/>
<path d="M52.4,26.0l1.3,26.3l1.3,48.3l1.7,23.7l2,9.9l2.3,6.9l4.3,8.0l4.3,5.8l4.3,5.0l4.3,5.0l6.5,8.2l6.5,7.5l6.5,7.3l6.5,7.2l6.5,7.6l6.5,4.4l25.9,.6l47.5,.9l36.7,.4l38,.2l46.2,.1" stroke="#4BACC6"/>
<path d="M52.4,26.9l1.3,.0l1.3,.9l1.7,.7l2.2,.8l2.2,.8l3,1.1l3.5,1.3l3.5,1.3l1.8,.7l44.4,121.4l25.9,14.9l47.5,21.0l36.7,9.4l38,4.6l46.2,2.4" stroke="#C0504D"/>
<path d="M52.4,26.0l1.3,13.2l1.3,24.2l1.7,9.9l2.2,5.0l2.2,1.0l3,1.3l3.5,.5l3.5,.5l2.6,.4l43.6,101.6l25.9,7.2l47.5,10.1l36.7,4.5l38,2.2l46.2,1.2" stroke="#4F81BD"/>
<path d="M52.4,26.9l1.3,22.9l1.3,43.7l1.7,21.2l2.2,9.1l2.2,5.3l3,6.1l2.3,3.0l50.8,67.6l25.9,.9l47.5,1.3l36.7,.6l38,.3l46.2,.2" stroke="#8064A2"/>
<path d="M52.4,26.2l1.3,.8l1.3,1.3l1.7,.7l2.2,.9l2.2,.9l3,1.3l3.5,1.5l3.5,1.5l4,1.7l42.1,112.8l25.9,16.7l47.5,23.6l36.7,10.6l38,5.2l46.2,2.7" stroke="#4BACC6"/>
<path d="M52.4,26.6l1.3,6.0l1.3,12.6l1.7,6.4l2.2,1.0l2.2,1.1l3,1.3l3.5,1.5l3.5,1.5l3.1,1.4l43.1,99.2l25.9,14.2l47.5,20.0l36.7,9.0l38,4.4l46.2,2.3" stroke="#8064A2"/>
<path d="M52.4,26.5l1.3,15.0l1.3,28.3l1.7,12.8l2.2,3.7l2.2,4.5l3,1.6l3.5,.2l2.3,1.7l47.3,92.3l25.9,6.3l47.5,8.9l36.7,4.0l38,2.0l46.2,1.0" stroke="#9BBB59"/>
<path d="M52.4,26.1l1.3,7.8l1.3,12.5l1.7,6.7l2.2,1.7l2.2,.6l3,.7l3.5,.8l3.5,.8l1.6,.4l44.6,112.3l25.9,10.9l47.5,15.4l36.7,6.9l38,3.4l46.2,1.8" stroke="#C0504D"/>
<path d="M52.4,26.0l1.3,10.4l1.3,17.9l1.7,7.4l2.2,2.4l2.2,2.0l3,1.4l3.5,.2l3.5,.2l4.2,.2l42,110.6l25.9,8.5l47.5,12.1l36.7,5.4l38,2.7l46.2,1.4" stroke="#F79646"/>
<path d="M52.4,26.9l1.3,15.5l1.3,29.0l1.7,12.9l2.2,4.4l2.2,2.8l3,2.1l3.5,1.4l1.8,.1l47.9,85.7l25.9,7.9l47.5,11.1l36.7,5.0l38,2.4l46.2,1.3" stroke="#4F81BD"/>
<path d="M52.4,26.7l1.3,.1l1.3,.7l1.7,1.0l2.2,1.2l2.2,1.2l3,1.7l3.5,1.9l3.5,1.9l5.9,3.3l40.2,118.4l25.9,14.3l47.5,20.2l36.7,9.1l38,4.5l46.2,2.3" stroke="#4F81BD"/>
<path d="M52.4,27.0l1.3,8.3l1.3,14.5l1.7,7.5l2.2,2.8l2.2,.1l3,.4l3.5,.1l3.5,.1l3.3,.1l42.9,106.3l25.9,11.7l47.5,16.6l36.7,7.4l38,3.6l46.2,1.9" stroke="#9BBB59"/>
<path d="M52.4,26.9l1.3,15.7l1.3,27.7l1.7,12.8l2.2,3.6l2.2,2.8l3,3.6l3.5,1.1l3.5,.7l2.1,.4l44.1,84.1l25.9,8.3l47.5,11.7l36.7,5.3l38,2.6l46.2,1.3" stroke="#4F81BD"/>
<path d="M52.4,27.0l1.3,22.3l1.3,40.7l1.7,19.3l2.2,9.0l2.2,5.2l3,4.3l1,2.1l52.1,76.6l25.9,.8l47.5,1.1l36.7,.5l38,.2l46.2,.1" stroke="#C0504D"/>
<path d="M52.4,27.0l1.3,1.4l1.3,3.2l1.7,1.4l2.2,1.0l2.2,1.0l3,1.4l3.5,1.6l3.5,1.6l4.6,2.1l41.6,103.5l25.9,17.9l47.5,25.3l36.7,11.3l38,5.6l46.2,2.9" stroke="#C0504D"/>
<path d="M52.4,26.4l1.3,2.4l1.3,4.1l1.7,1.3l2.2,.9l2.2,.9l3,1.3l3.5,1.5l3.5,1.5l4.6,2.0l41.6,109.7l25.9,16.0l47.5,22.6l36.7,10.1l38,5.0l46.2,2.6" stroke="#4BACC6"/>
<path d="M52.4,26.5l1.3,.3l1.3,1.5l1.7,2.0l2.2,2.5l2.2,2.5l3,3.4l3.5,3.9l3.5,3.9l3.8,4.4l42.4,103.9l25.9,15.3l47.5,21.5l36.7,9.6l38,4.7l46.2,2.5" stroke="#4BACC6"/>
<path d="M52.4,26.8l1.3,13.2l1.3,25.7l1.7,12.3l2.2,5.6l2.2,.9l3,2.0l3.5,1.0l3.5,.7l1.4,.3l44.7,101.0l25.9,5.5l47.5,7.8l36.7,3.5l38,1.7l46.2,.9" stroke="#9BBB59"/>
<path d="M52.4,26.8l1.3,20.0l1.3,36.2l1.7,17.2l2.2,7.4l2.2,4.1l3,5.4l3.5,1.4l1.1,1.6l48.5,74.2l25.9,4.2l47.5,5.9l36.7,2.6l38,1.3l46.2,.7" stroke="#8064A2"/>
<path d="M52.4,26.2l1.3,10.5l1.3,21.2l1.7,7.4l2.2,4.3l2.2,.3l3,1.7l3.5,.6l3.5,.6l4.1,.7l42.1,96.4l25.9,11.0l47.5,15.5l36.7,7.0l38,3.4l46.2,1.8" stroke="#8064A2"/>
<path d="M52.4,26.6l1.3,14.7l1.3,26.7l1.7,12.3l2.2,5.0l2.2,2.4l3,1.8l3.5,2.2l3.5,.6l1.3,.2l44.9,101.1l25.9,4.4l47.5,6.1l36.7,2.8l38,1.4l46.2,.7" stroke="#4BACC6"/>
<path d="M52.4,26.4l1.3,14.7l1.3,29.2l1.7,12.6l2.2,3.5l2.2,2.8l3,3.8l3.5,.9l2.1,.2l47.5,98.6l25.9,4.6l47.5,6.5l36.7,2.9l38,1.4l46.2,.7" stroke="#8064A2"/>
<path d="M52.4,26.7l1.3,4.9l1.3,11.3l1.7,3.8l2.2,1.4l2.2,.7l3,1.0l3.5,1.1l3.5,1.1l5.2,1.7l41,112.8l25.9,11.9l47.5,16.8l36.7,7.5l38,3.7l46.2,1.9" stroke="#9BBB59"/>
<path d="M52.4,27.0l1.3,6.3l1.3,14.8l1.7,4.7l2.2,1.8l2.2,1.0l3,.8l3.5,1.0l3.5,1.0l1,.3l45.2,114.6l25.9,10.1l47.5,14.2l36.7,6.4l38,3.1l46.2,1.6" stroke="#8064A2"/>
<path d="M52.4,26.7l1.3,16.2l1.3,31.6l1.7,14.4l2.2,5.5l2.2,3.9l3,2.1l3.5,1.9l2,.5l47.6,95.1l25.9,3.1l47.5,4.4l36.7,2.0l38,1.0l46.2,.5" stroke="#4F81BD"/>
<path d="M52.4,25.9l1.3,20.8l1.3,36.6l1.7,17.0l2.2,6.3l2.2,4.7l3,3.4l3.5,3.0l3.4,2.9l46.2,70.5l25.9,5.1l47.5,7.1l36.7,3.2l38,1.6l46.2,.8" stroke="#4BACC6"/>
<path d="M52.4,26.6l1.3,21.3l1.3,38.7l1.7,18.7l2.2,7.7l2.2,5.6l3,4.5l2.5,2.7l50.6,76.9l25.9,1.8l47.5,2.6l36.7,1.2l38,.6l46.2,.3" stroke="#9BBB59"/>
<path d="M52.4,26.0l1.3,18.7l1.3,35.1l1.7,16.0l2.2,7.0l2.2,2.6l3,4.3l3.5,2.4l1.2,.4l48.5,80.8l25.9,4.4l47.5,6.2l36.7,2.8l38,1.4l46.2,.7" stroke="#C0504D"/>
<path d="M52.4,26.6l1.3,3.4l1.3,7.0l1.7,2.7l2.2,.2l2.2,.2l3,.3l3.5,.4l3.5,.4l5.4,.6l40.7,123.0l25.9,12.4l47.5,17.5l36.7,7.9l38,3.9l46.2,2.0" stroke="#4F81BD"/>
<path d="M52.4,26.2l1.3,24.2l1.3,44.6l1.7,21.4l2.2,9.4l2.6,6.5l55.7,75.4l25.9,.4l47.5,.6l36.7,.2l38,.1l46.2,.1" stroke="#8064A2"/>
<path d="M52.4,26.1l1.3,18.5l1.3,35.1l1.7,17.2l2.2,5.2l2.2,4.3l3,4.1l3.5,1.5l2.2,1.6l47.5,80.5l25.9,4.2l47.5,6.0l36.7,2.7l38,1.3l46.2,.7" stroke="#C0504D"/>
<path d="M52.4,26.1l1.3,14.6l1.3,24.1l1.7,11.4l2.2,5.2l2.2,2.7l3,2.2l3.5,.7l3.5,.7l1.1,.2l45.1,98.5l25.9,6.4l47.5,9.0l36.7,4.0l38,2.0l46.2,1.0" stroke="#F79646"/>
<path d="M52.4,26.0l1.3,4.4l1.3,8.1l1.7,3.2l2.2,1.4l2.2,.7l3,1.0l3.5,1.1l3.5,1.1l4.7,1.5l41.5,121.4l25.9,11.0l47.5,15.5l36.7,7.0l38,3.4l46.2,1.8" stroke="#4BACC6"/>
<path d="M52.4,25.9l1.3,12.3l1.3,24.3l1.7,10.2l2.2,3.3l2.2,1.9l3,.8l3.5,1.8l3.5,.6l4.1,.7l42.1,97.7l25.9,8.3l47.5,11.7l36.7,5.3l38,2.6l46.2,1.3" stroke="#F79646"/>
<path d="M52.4,26.8l1.3,1.4l1.3,3.8l1.7,1.5l2.2,.5l2.2,.5l3,.7l3.5,.8l3.5,.8l3.9,.9l42.3,107.7l25.9,17.9l47.5,25.3l36.7,11.3l38,5.6l46.2,2.9" stroke="#F79646"/>
<path d="M52.4,26.2l1.3,15.8l1.3,29.4l1.7,14.4l2.2,4.9l2.2,3.2l3,2.1l3.5,.9l1.8,1.0l47.8,98.2l25.9,3.6l47.5,5.1l36.7,2.3l38,1.1l46.2,.6" stroke="#4BACC6"/>
<path d="M52.4,26.9l1.3,17.1l1.3,31.1l1.7,16.2l2.2,6.2l2.2,3.0l3,4.0l3.5,1.0l3.7,1.0l46,77.4l25.9,7.1l47.5,10.0l36.7,4.5l38,2.2l46.2,1.1" stroke="#8064A2"/>
<path d="M52.4,26.1l1.3,2.1l1.3,3.9l1.7,1.2l2.2,.8l2.2,.8l3,1.1l3.5,1.3l3.5,1.3l3.5,1.3l42.7,123.2l25.9,12.9l47.5,18.2l36.7,8.2l38,4.0l46.2,2.1" stroke="#4F81BD"/>
<path d="M52.4,25.9l1.3,.9l1.3,1.0l1.7,1.3l2.2,1.6l2.2,1.6l3,2.3l3.5,2.6l3.5,2.6l3.7,2.7l42.5,105.0l25.9,17.3l47.5,24.4l36.7,10.9l38,5.4l46.2,2.8" stroke="#F79646"/>
<path d="M52.4,26.2l1.3,26.1l1.3,49.4l1.7,24.0l2.2,10.4l2.1,6.3l4.4,10.1l4.3,5.8l4.3,4.8l4.3,4.8l6.5,8.2l6.5,7.1l6.5,6.9l6.5,6.7l6.5,7.2l6.5,3.2l25.9,.6l47.5,.8l36.7,.4l38,.2l46.2,.1" stroke="#9BBB59"/>
<path d="M52.4,26.5l1.3,1.9l1.3,4.0l1.7,1.5l2.2,.3l2.2,.3l3,.5l3.5,.5l3.5,.5l4.2,.7l42,108.5l25.9,17.9l47.5,25.3l36.7,11.3l38,5.6l46.2,2.9" stroke="#F79646"/>
<path d="M52.4,26.4l1.3,18.1l1.3,30.7l1.7,15.2l2.2,5.8l2.2,2.3l3,4.5l3.5,1.4l3.1,.3l46.5,77.7l25.9,7.5l47.5,10.5l36.7,4.7l38,2.3l46.2,1.2" stroke="#C0504D"/>
<path d="M52.4,26.1l1.3,25.0l1.3,45.8l1.7,22.4l2.2,9.1l2.2,6.3l3,6.2l1,1.9l52.1,58.2l25.9,2.3l47.5,3.2l36.7,1.5l38,.7l46.2,.4" stroke="#9BBB59"/>
<path d="M52.4,26.9l1.3,10.9l1.3,20.6l1.7,9.7l2.2,3.0l2.2,2.2l3,.3l3.5,.7l3.5,.4l1.8,.2l44.4,100.7l25.9,9.4l47.5,13.3l36.7,5.9l38,2.9l46.2,1.5" stroke="#4F81BD"/>
<path d="M52.4,26.2l1.3,23.1l1.3,40.8l1.7,19.1l2.2,9.2l2.2,4.5l3,5.3l2.9,3.3l50.2,67.1l25.9,3.0l47.5,4.2l36.7,1.9l38,.9l46.2,.5" stroke="#8064A2"/>
<path d="M52.4,26.4l1.3,3.4l1.3,5.1l1.7,2.2l2.2,1.7l2.2,1.7l3,2.4l3.5,2.7l3.5,2.7l1.7,1.3l44.5,95.7l25.9,17.9l47.5,25.3l36.7,11.3l38,5.6l46.2,2.9" stroke="#9BBB59"/>
<path d="M52.4,26.6l1.3,4.7l1.3,9.1l1.7,2.8l2.2,1.3l2.2,.4l3,.6l3.5,.7l3.5,.7l1.7,.3l44.5,110.3l25.9,14.5l47.5,20.5l36.7,9.2l38,4.5l46.2,2.3" stroke="#F79646"/>
<path d="M52.4,26.5l1.3,7.3l1.3,15.5l1.7,6.4l2.2,1.8l2.2,1.3l3,.6l3.5,.6l3.5,.6l2.7,.5l43.5,108.6l25.9,11.1l47.5,15.6l36.7,7.0l38,3.4l46.2,1.8" stroke="#C0504D"/>
<path d="M52.4,26.0l.9,17.6l.9,22.0l.9,36.7l1.3,21.9l1.3,8.1l1.7,6.5l1.7,5.5l2.2,5.6l2.2,4.4l4.3,6.1l4.3,4.8l4.3,4.8l6.5,8.5l6.5,7.0l6.5,6.8l6.5,6.5l6.5,7.2l6.5,1.1l25.9,.6l47.5,.8l36.7,.4l38,.2l46.2,.1" stroke="#A8D8E6"/>
<path d="M52.4,26.3l1.3,22.9l1.3,40.9l1.7,19.9l2.2,7.7l2.2,5.9l3,5.3l1.9,1.9l51.2,64.2l25.9,4.0l47.5,5.6l36.7,2.5l38,1.2l46.2,.6" stroke="#4BACC6"/>
<path d="M52.4,26.8l1.3,.9l1.3,2.6l1.7,1.1l2.2,1.4l2.2,1.4l3,1.9l3.5,2.2l3.5,2.2l1.3,.8l44.9,107.5l25.9,16.9l47.5,23.8l36.7,10.7l38,5.2l46.2,2.7" stroke="#F79646"/>
<path d="M52.4,26.2l1.3,24.8l1.3,44.4l1.7,22.3l2.2,8.9l2.2,6.2l2.9,6.1l53.2,66.5l25.9,1.1l47.5,1.5l36.7,.7l38,.3l46.2,.2" stroke="#4BACC6"/>
<path d="M52.4,26.3l1.3,19.4l1.3,32.9l1.7,17.1l2.2,5.1l2.2,4.4l3,3.3l3.5,2.9l3.1,.4l46.5,76.7l25.9,5.8l47.5,8.2l36.7,3.7l38,1.8l46.2,.9" stroke="#8064A2"/>
<path d="M52.4,26.8l1.3,17.8l1.3,31.1l1.7,16.0l2.2,5.7l2.2,3.8l3,3.0l3.5,2.7l3.5,1.1l1.7,.1l44.5,87.4l25.9,3.8l47.5,5.4l36.7,2.4l38,1.2l46.2,.6" stroke="#4BACC6"/>
<path d="M52.4,27.0l1.3,3.4l1.3,6.8l1.7,2.2l2.2,.7l2.2,.5l3,.7l3.5,.8l3.5,.8l2.6,.6l43.6,106.9l25.9,16.4l47.5,23.2l36.7,10.4l38,5.1l46.2,2.6" stroke="#4F81BD"/>
<path d="M52.4,25.9l1.3,23.2l1.3,41.6l1.7,19.7l2.2,8.8l2.2,5.1l3,5.3l1.4,2.2l51.7,68.4l25.9,2.5l47.5,3.5l36.7,1.6l38,.8l46.2,.4" stroke="#8064A2"/>
<path d="M52.4,26.1l1.3,19.5l1.3,36.8l1.7,16.9l2.2,6.5l2.2,4.7l3,3.8l2.4,1.7l50.7,85.8l25.9,2.1l47.5,2.9l36.7,1.3l38,.6l46.2,.3" stroke="#F79646"/>
<path d="M52.4,25.9l1.3,9.9l1.3,18.4l1.7,6.5l2.2,2.2l2.2,2.7l3,.4l3.5,.5l4.3,.6l45.3,100.9l25.9,11.5l47.5,16.2l36.7,7.3l38,3.6l46.2,1.8" stroke="#4BACC6"/>
<path d="M52.4,26.5l1.3,17.8l1.3,32.2l1.7,15.6l2.2,5.9l2.2,3.2l3,3.5l4,1.9l49.1,76.9l25.9,7.2l47.5,10.1l36.7,4.5l38,2.2l46.2,1.1" stroke="#F79646"/>
<path d="M52.4,26.1l1.3,12.7l1.3,21.1l1.7,10.1l2.2,1.8l2.2,2.4l3,1.1l3.5,.4l3.5,.1l2.1,.1l44.1,109.4l25.9,6.7l47.5,9.5l36.7,4.3l38,2.1l46.2,1.1" stroke="#4F81BD"/>
<path d="M52.4,26.1l1.3,15.6l1.3,29.7l1.7,14.7l2.2,4.6l2.2,1.7l3,4.0l3.5,1.7l4.1,.6l45.5,84.2l25.9,7.3l47.5,10.3l36.7,4.6l38,2.3l46.2,1.2" stroke="#8064A2"/>
<path d="M52.4,26.6l1.3,14.5l1.3,24.6l1.7,13.0l2.2,3.9l2.2,2.6l3,2.8l3.5,.3l3.5,.3l1.8,.7l44.4,90.6l25.9,8.2l47.5,11.6l36.7,5.2l38,2.6l46.2,1.3" stroke="#F79646"/>
<path d="M52.4,27.0l1.3,5.3l1.3,10.5l1.7,4.9l2.2,.8l2.2,.7l3,.4l3.5,.5l3.5,.5l4.6,.7l41.6,120.7l25.9,10.4l47.5,14.7l36.7,6.6l38,3.2l46.2,1.7" stroke="#4BACC6"/>
<path d="M52.4,26.5l1.3,17.6l1.3,32.3l1.7,15.0l2.2,4.5l2.2,4.0l3,2.9l3.5,2.6l3.5,.1l1.2,.0l45,80.4l25.9,6.5l47.5,9.2l36.7,4.1l38,2.0l46.2,1.0" stroke="#C0504D"/>
<path d="M52.4,26.7l1.3,.9l1.3,2.0l1.7,.8l2.2,1.0l2.2,1.0l3,1.5l3.5,1.7l3.5,1.7l2.2,1.1l44,106.8l25.9,17.9l47.5,25.3l36.7,11.3l38,5.6l46.2,2.9" stroke="#C0504D"/>
<path d="M52.4,26.8l1.3,22.6l1.3,42.6l1.7,20.6l2.2,8.4l2.2,5.3l2.2,4.6l53.9,74.3l25.9,1.1l47.5,1.6l36.7,.7l38,.3l46.2,.2" stroke="#4BACC6"/>
<path d="M52.4,26.6l1.3,3.4l1.3,6.4l1.7,2.4l2.2,1.2l2.2,1.2l3,1.7l3.5,1.9l3.5,1.9l3.7,2.1l42.5,100.0l25.9,16.9l47.5,23.8l36.7,10.7l38,5.3l46.2,2.7" stroke="#C0504D"/>
<path d="M52.4,26.7l1.3,3.6l1.3,5.3l1.7,3.4l2.2,1.0l2.2,1.0l3,1.5l3.5,1.7l3.5,1.7l2.7,1.3l43.5,98.7l25.9,17.7l47.5,25.0l36.7,11.2l38,5.5l46.2,2.9" stroke="#4F81BD"/>
<path d="M52.4,26.3l1.3,13.8l1.3,26.1l1.7,13.9l2.2,3.1l2.2,2.3l3,2.3l3.5,.7l3.5,1.6l3.1,.5l43.1,86.4l25.9,9.0l47.5,12.7l36.7,5.7l38,2.8l46.2,1.5" stroke="#8064A2"/>
<path d="M52.4,26.1l1.3,8.6l1.3,16.0l1.7,6.0l2.2,3.0l2.2,1.4l3,.6l3.5,.6l3.5,.6l4.7,.9l41.4,114.7l25.9,8.6l47.5,12.1l36.7,5.4l38,2.7l46.2,1.4" stroke="#8064A2"/>
<path d="M52.4,26.1l1.3,8.6l1.3,13.9l1.7,7.4l2.2,1.7l2.2,.3l3,1.5l3.5,.5l3.5,.5l4.1,.6l42,109.4l25.9,10.9l47.5,15.3l36.7,6.9l38,3.4l46.2,1.7" stroke="#C0504D"/>
<path d="M52.4,26.3l1.3,5.9l1.3,10.3l1.7,4.2l2.2,1.3l2.2,1.3l3,1.8l3.5,2.0l3.5,2.0l2.3,1.4l43.9,109.8l25.9,12.0l47.5,16.9l36.7,7.6l38,3.7l46.2,1.9" stroke="#4F81BD"/>
<path d="M52.4,26.8l1.3,25.3l1.3,46.6l1.7,23.2l2.2,9.6l1.1,3.3l1.1,3.0l4.3,6.1l4.3,5.3l4.3,5.0l4.3,5.0l6.5,7.8l6.5,7.5l6.5,7.4l6.5,7.4l6.5,7.5l6.5,5.4l25.9,1.9l47.5,2.7l36.7,1.2l38,.6l46.2,.3" stroke="#4F81BD"/>
<path d="M52.4,26.7l1.3,25.6l1.3,48.7l1.7,23.9l2.2,10.0l1.5,4.6l5,11.3l4.3,5.7l4.3,4.9l4.3,4.9l6.5,8.1l6.5,7.2l6.5,7.1l6.5,6.9l6.5,7.4l6.5,3.8l25.9,.7l47.5,1.0l36.7,.4l38,.2l46.2,.1" stroke="#4BACC6"/>
<path d="M52.4,26.8l1.3,5.1l1.3,8.8l1.7,4.5l2.2,.7l2.2,.7l3,.9l3.5,1.0l3.5,1.0l2.1,.6l44,109.1l25.9,14.0l47.5,19.7l36.7,8.8l38,4.3l46.2,2.2" stroke="#C0504D"/>
<path d="M52.4,25.9l1.3,22.4l1.3,40.4l1.7,18.4l2.2,8.7l2.2,4.2l3.6,6.4l52.6,78.8l25.9,1.1l47.5,1.6l36.7,.7l38,.4l46.2,.2" stroke="#F79646"/>
<path d="M52.4,26.9l1.3,16.1l1.3,31.3l1.7,15.6l2.2,5.6l2.2,3.3l3,3.6l3.5,1.2l3.3,1.4l46.3,82.4l25.9,6.1l47.5,8.7l36.7,3.9l38,1.9l46.2,1.0" stroke="#4BACC6"/>
<path d="M52.4,25.9l1.3,4.7l1.3,7.7l1.7,2.9l2.2,1.6l2.2,1.6l3,2.3l3.5,2.6l3.5,2.6l5,3.8l41.1,92.1l25.9,17.2l47.5,24.2l36.7,10.9l38,5.3l46.2,2.8" stroke="#4F81BD"/>
<path d="M52.4,26.0l1.3,25.2l1.3,45.3l1.7,22.8l2.2,9.5l1.8,4.8l56.5,71.7l25.9,1.1l47.5,1.5l36.7,.7l38,.3l46.2,.2" stroke="#4BACC6"/>
<path d="M52.4,26.9l1.3,19.8l1.3,38.2l1.7,18.5l2.2,7.5l2.2,3.5l3,4.5l3.5,3.1l1.5,.7l48.1,70.8l25.9,4.4l47.5,6.3l36.7,2.8l38,1.4l46.2,.7" stroke="#4BACC6"/>
<path d="M52.4,25.9l1.3,10.3l1.3,18.1l1.7,8.3l2.2,2.5l2.2,.1l3,1.5l3.5,.1l4,.2l45.6,107.3l25.9,9.7l47.5,13.7l36.7,6.2l38,3.0l46.2,1.6" stroke="#F79646"/>
<path d="M52.4,26.2l1.3,25.0l1.3,44.8l1.7,22.0l2.2,9.5l2.2,5.5l3.6,7.9l52.5,61.3l25.9,2.0l47.5,2.8l36.7,1.2l38,.6l46.2,.3" stroke="#8064A2"/>
<path d="M52.4,26.8l1.3,17.0l1.3,31.5l1.7,13.7l2.2,5.7l2.2,4.0l3,2.0l3.5,2.3l2.8,.7l46.9,80.1l25.9,7.1l47.5,10.1l36.7,4.5l38,2.2l46.2,1.1" stroke="#8064A2"/>
<path d="M52.4,26.0l1.3,2.0l1.3,2.4l1.7,1.3l2.2,.5l2.2,.5l3,.7l3.5,.8l3.5,.8l3.7,.8l42.5,111.1l25.9,17.5l47.5,24.6l36.7,11.0l38,5.4l46.2,2.8" stroke="#8064A2"/>
<path d="M52.4,26.7l1.3,25.1l1.3,46.9l1.7,23.4l2.2,9.5l1.1,3.4l1,3.1l4.3,6.6l4.3,5.7l4.3,5.4l4.3,5.4l6.5,8.4l6.5,8.1l6.5,8.1l6.5,8.0l6.5,8.2l6.5,7.5l25.9,-.1l47.5,-.2l36.7,-.1l38,-.0l46.2,-.0" stroke="#F79646"/>
<path d="M52.4,26.3l1.3,13.2l1.3,21.0l1.7,11.1l2.2,3.6l2.2,1.4l3,1.3l3.5,.5l3.5,1.1l4.3,.5l41.9,95.3l25.9,9.5l47.5,13.4l36.7,6.0l38,2.9l46.2,1.5" stroke="#C0504D"/>
<path d="M52.4,26.3l1.3,16.4l1.3,28.5l1.7,12.5l2.2,6.2l2.2,1.7l3,3.9l3.5,.9l3.5,.5l2.4,.3l43.8,93.0l25.9,5.3l47.5,7.5l36.7,3.4l38,1.7l46.2,.9" stroke="#9BBB59"/>
<path d="M52.4,26.4l1.3,19.0l1.3,34.2l1.7,18.0l2.2,5.5l2.2,3.9l3,5.1l2.8,.9l50.3,75.1l25.9,5.9l47.5,8.3l36.7,3.7l38,1.8l46.2,.9" stroke="#4F81BD"/>
<path d="M52.4,26.2l1.3,9.3l1.3,18.7l1.7,7.2l2.2,2.8l2.2,2.1l3,.1l3.5,.2l3.5,.2l1.3,.1l44.8,109.4l25.9,9.2l47.5,13.0l36.7,5.8l38,2.9l46.2,1.5" stroke="#8064A2"/>
<path d="M52.4,27.0l1.3,4.0l1.3,9.5l1.7,4.4l2.2,.5l2.2,1.4l3,.3l3.5,.3l3.5,.3l5.3,.5l40.9,124.5l25.9,10.2l47.5,14.4l36.7,6.4l38,3.2l46.2,1.6" stroke="#4BACC6"/>
<path d="M52.4,26.1l1.3,8.2l1.3,15.1l1.7,7.9l2.2,2.7l2.2,.1l3,.1l3.5,.8l3.5,.1l2.9,.1l43.3,106.5l25.9,11.6l47.5,16.3l36.7,7.3l38,3.6l46.2,1.9" stroke="#8064A2"/>
<path d="M52.4,25.9l1.3,6.5l1.3,10.1l1.7,5.1l2.2,1.3l2.2,1.3l3,1.8l3.5,2.1l3.5,2.1l3.9,2.3l42.3,104.2l25.9,13.1l47.5,18.4l36.7,8.3l38,4.1l46.2,2.1" stroke="#F79646"/>
<path d="M52.4,26.3l1.3,25.5l1.3,46.8l1.7,23.2l2.2,9.4l1.7,5.3l4.7,8.0l4.3,5.3l4.3,5.0l4.3,5.0l6.5,7.8l6.5,7.5l6.5,7.4l6.5,7.4l6.5,7.5l6.5,5.6l25.9,1.7l47.5,2.4l36.7,1.1l38,.5l46.2,.3" stroke="#4F81BD"/>
<path d="M52.4,26.7l1.3,25.6l1.3,49.3l1.7,24.1l2.2,10.2l2.3,7.0l4.2,9.5l4.3,5.8l4.3,4.8l4.3,4.8l6.5,8.1l6.5,7.1l6.5,6.9l6.5,6.7l6.5,7.2l6.5,3.2l25.9,.6l47.5,.8l36.7,.4l38,.2l46.2,.1" stroke="#C0504D"/>
<path d="M52.4,26.2l1.3,25.2l1.3,45.7l1.7,22.5l2.2,9.6l2.2,5.8l1.1,3.2l55,71.8l25.9,-.2l47.5,-.3l36.7,-.1l38,-.1l46.2,-.0" stroke="#4F81BD"/>
<path d="M52.4,26.6l1.3,1.6l1.3,3.5l1.7,1.2l2.2,.8l2.2,.8l3,1.2l3.5,1.3l3.5,1.3l5.7,2.2l40.5,107.8l25.9,17.0l47.5,24.0l36.7,10.7l38,5.3l46.2,2.7" stroke="#8064A2"/>
<path d="M52.4,26.1l1.3,2.2l1.3,3.5l1.7,1.4l2.2,1.8l2.2,1.8l3,2.5l3.5,2.8l3.5,2.8l2.2,1.8l44,98.5l25.9,17.9l47.5,25.3l36.7,11.3l38,5.6l46.2,2.9" stroke="#8064A2"/>
<path d="M52.4,26.3l1.3,20.5l1.3,36.1l1.7,17.5l2.2,6.5l2.2,4.5l3,3.9l2.8,2.6l50.3,76.9l25.9,4.0l47.5,5.7l36.7,2.6l38,1.3l46.2,.7" stroke="#4BACC6"/>
<path d="M52.4,26.2l1.3,18.4l1.3,33.6l1.7,14.4l2.2,7.3l2.2,3.8l3,2.4l3.5,3.1l3.5,.7l.9,.3l45.3,87.7l25.9,3.2l47.5,4.5l36.7,2.0l38,1.0l46.2,.5" stroke="#8064A2"/>
<path d="M52.4,27.0l1.3,23.5l1.3,44.8l1.7,21.8l2.2,9.2l2.2,5.7l2.3,4.7l53.8,71.2l25.9,.4l47.5,.5l36.7,.2l38,.1l46.2,.1" stroke="#8064A2"/>
<path d="M52.4,26.8l1.3,17.3l1.3,29.9l1.7,14.7l2.2,5.2l2.2,3.7l3,3.2l3.5,1.0l3.9,.5l45.8,94.4l25.9,3.5l47.5,4.9l36.7,2.2l38,1.1l46.2,.6" stroke="#4F81BD"/>
<path d="M52.4,25.9l1.3,26.4l1.3,49.0l1.7,24.0l2.2,10.3l1.2,3.5l1,3.9l4.3,8.5l4.3,5.8l4.3,4.8l4.3,4.9l6.5,8.2l6.5,7.2l6.5,7.0l6.5,6.9l6.5,7.4l6.5,4.0l25.9,.4l47.5,.6l36.7,.3l38,.1l46.2,.1" stroke="#F79646"/>
<path d="M52.4,26.4l1.3,1.3l1.3,2.2l1.7,1.6l2.2,2.0l2.2,2.0l3,2.8l3.5,3.2l3.5,3.2l4.3,3.9l41.9,96.8l25.9,17.9l47.5,25.3l36.7,11.3l38,5.6l46.2,2.9" stroke="#C0504D"/>
<path d="M52.4,25.9l.9,18.3l.9,22.0l.9,36.7l1.3,21.9l1.3,8.1l1.7,6.5l1.7,5.5l2.2,5.6l2.2,4.4l4.3,6.1l4.3,4.7l4.3,4.8l6.5,8.4l6.5,7.0l6.5,6.7l6.5,6.5l6.5,7.2l6.5,.8l25.9,.7l47.5,.9l36.7,.4l38,.2l46.2,.1" stroke="#BFB0D4"/>
<path d="M52.4,26.1l1.3,12.3l1.3,20.6l1.7,8.8l2.2,3.2l2.2,1.6l3,1.4l3.5,.1l3.5,.1l1,.0l45.2,110.5l25.9,6.8l47.5,9.6l36.7,4.3l38,2.1l46.2,1.1" stroke="#8064A2"/>
<path d="M52.4,26.5l1.3,5.9l1.3,11.5l1.7,4.8l2.2,1.1l2.2,1.1l3,1.5l3.5,1.7l3.5,1.7l5.6,2.7l40.6,96.0l25.9,15.3l47.5,21.6l36.7,9.7l38,4.8l46.2,2.5" stroke="#C0504D"/>
<path d="M52.4,26.6l1.3,11.8l1.3,25.3l1.7,10.1l2.2,4.5l2.2,.4l3,1.7l3.5,2.1l3.6,.7l46.1,97.5l25.9,8.0l47.5,11.2l36.7,5.0l38,2.5l46.2,1.3" stroke="#9BBB59"/>
<path d="M52.4,25.9l1.3,17.5l1.3,30.1l1.7,16.1l2.2,4.7l2.2,2.6l3,4.7l3.5,1.1l3.8,.9l45.8,88.2l25.9,4.9l47.5,6.9l36.7,3.1l38,1.5l46.2,.8" stroke="#4BACC6"/>
<path d="M52.4,26.4l.9,17.6l.9,22.0l.9,36.7l1.3,21.9l1.3,8.1l1.7,6.5l1.7,5.5l2.2,5.6l2.2,4.4l4.3,6.1l4.3,4.7l4.3,4.8l6.5,8.4l6.5,7.0l6.5,6.7l6.5,6.5l6.5,7.2l6.5,.2l25.9,.8l47.5,1.2l36.7,.5l38,.3l46.2,.1" stroke="#FBC8A0"/>
<path d="M52.4,26.9l1.3,12.8l1.3,26.9l1.7,11.8l2.2,4.3l2.2,1.6l3,2.6l3.5,.8l3.1,.4l46.5,93.7l25.9,7.7l47.5,10.8l36.7,4.8l38,2.4l46.2,1.2" stroke="#9BBB59"/>
<path d="M52.4,26.1l1.3,6.9l1.3,10.6l1.7,5.3l2.2,.8l2.2,1.3l3,.8l3.5,.9l3.5,.9l4.9,1.3l41.3,107.4l25.9,13.1l47.5,18.5l36.7,8.3l38,4.1l46.2,2.1" stroke="#4F81BD"/>
<path d="M52.4,26.1l1.3,20.7l1.3,36.7l1.7,17.6l2.2,7.5l2.2,4.4l3,4.3l4,3.0l49.1,74.2l25.9,4.1l47.5,5.8l36.7,2.6l38,1.3l46.2,.7" stroke="#C0504D"/>
<path d="M52.4,26.8l1.3,4.7l1.3,9.4l1.7,4.4l2.2,.5l2.2,.5l3,.5l3.5,.5l3.5,.5l3.2,.5l43,106.5l25.9,15.2l47.5,21.5l36.7,9.6l38,4.7l46.2,2.4" stroke="#C0504D"/>
<path d="M52.4,26.5l1.3,8.5l1.3,14.8l1.7,7.5l2.2,1.3l2.2,.3l3,.4l3.5,.4l3.5,.4l1.1,.1l45.1,117.9l25.9,8.7l47.5,12.3l36.7,5.5l38,2.7l46.2,1.4" stroke="#8064A2"/>
<path d="M52.4,26.9l1.3,18.4l1.3,34.8l1.7,16.6l2.2,5.2l2.2,4.0l3,4.6l3.5,1.6l3.4,1.8l46.2,81.6l25.9,3.8l47.5,5.3l36.7,2.4l38,1.2l46.2,.6" stroke="#9BBB59"/>
<path d="M52.4,26.6l1.3,20.5l1.3,39.5l1.7,19.1l2.2,6.7l2.2,4.8l3,5.6l3.5,2.7l1.2,1.4l48.4,69.2l25.9,3.7l47.5,5.2l36.7,2.3l38,1.1l46.2,.6" stroke="#8064A2"/>
<path d="M52.4,26.2l1.3,2.1l1.3,3.0l1.7,1.9l2.2,2.4l2.2,2.4l3,3.4l3.5,3.8l3.5,3.8l1.8,2.0l44.4,111.5l25.9,13.1l47.5,18.4l36.7,8.3l38,4.1l46.2,2.1" stroke="#C0504D"/>
<path d="M52.4,26.2l1.3,21.6l1.3,37.4l1.7,17.2l2.2,8.0l2.2,4.7l3,4.7l2.4,1.8l50.7,67.6l25.9,5.6l47.5,7.9l36.7,3.5l38,1.7l46.2,.9" stroke="#8064A2"/>
<path d="M52.4,26.8l1.3,6.8l1.3,15.2l1.7,7.0l2.2,1.9l2.2,.4l3,.6l3.5,.6l3.5,.6l1.9,.4l44.3,107.9l25.9,11.5l47.5,16.2l36.7,7.2l38,3.6l46.2,1.8" stroke="#9BBB59"/>
<path d="M52.4,26.8l1.3,4.3l1.3,8.4l1.7,4.2l2.2,1.6l2.2,1.6l3,2.2l3.5,2.5l3.5,2.5l3.2,2.3l43,113.6l25.9,11.0l47.5,15.5l36.7,6.9l38,3.4l46.2,1.8" stroke="#8064A2"/>
<path d="M52.4,26.8l1.3,23.9l1.3,44.6l1.7,21.8l2.2,8.9l2.2,6.1l3,5.7l.9,1.8l52.2,70.4l25.9,-.2l47.5,-.3l36.7,-.1l38,-.1l46.2,-.0" stroke="#F79646"/>
<path d="M52.4,25.9l1.3,14.4l1.3,28.4l1.7,11.1l2.2,4.5l2.2,3.6l3,2.3l3.5,1.5l4.3,.5l45.4,97.9l25.9,5.4l47.5,7.6l36.7,3.4l38,1.7l46.2,.9" stroke="#F79646"/>
<path d="M52.4,26.6l1.3,6.9l1.3,10.1l1.7,6.1l2.2,.9l2.2,.7l3,.5l3.5,.5l3.5,.5l2.9,.4l43.3,119.4l25.9,10.2l47.5,14.4l36.7,6.5l38,3.2l46.2,1.6" stroke="#F79646"/>
<path d="M52.4,26.8l1.3,17.4l1.3,31.7l1.7,16.3l2.2,5.2l2.2,4.5l3,3.1l3.5,2.2l1.9,.5l47.8,90.7l25.9,3.0l47.5,4.3l36.7,1.9l38,.9l46.2,.5" stroke="#F79646"/>
<path d="M52.4,26.5l1.3,14.0l1.3,23.7l1.7,11.7l2.2,3.4l2.2,2.3l3,3.6l3.5,.5l3.5,.5l4,.6l42.2,94.2l25.9,7.9l47.5,11.1l36.7,5.0l38,2.4l46.2,1.3" stroke="#F79646"/>
<path d="M52.4,26.7l1.3,18.3l1.3,34.0l1.7,15.8l2.2,5.5l2.2,5.3l3,3.6l3.5,2.1l1,.4l48.7,76.7l25.9,5.9l47.5,8.3l36.7,3.7l38,1.8l46.2,.9" stroke="#4F81BD"/>
<path d="M52.4,25.9l1.3,7.0l1.3,10.6l1.7,4.4l2.2,.7l2.2,.7l3,1.0l3.5,1.1l3.5,1.1l5,1.6l41.2,120.4l25.9,9.7l47.5,13.7l36.7,6.1l38,3.0l46.2,1.6" stroke="#F79646"/>
<path d="M52.4,26.1l1.3,18.1l1.3,30.8l1.7,13.9l2.2,5.6l2.2,3.5l3,3.4l3.5,3.0l3.5,.4l1,.1l45.2,82.6l25.9,6.0l47.5,8.5l36.7,3.8l38,1.9l46.2,1.0" stroke="#9BBB59"/>
<path d="M52.4,26.5l1.3,8.1l1.3,15.4l1.7,6.9l2.2,1.2l2.2,1.8l3,.6l3.5,.7l3.5,.7l3.9,.8l42.3,109.4l25.9,10.4l47.5,14.6l36.7,6.6l38,3.2l46.2,1.7" stroke="#C0504D"/>
<path d="M52.4,27.0l1.3,5.5l1.3,8.7l1.7,4.7l2.2,1.0l2.2,.4l3,.6l3.5,.7l3.5,.7l1.7,.3l44.5,113.7l25.9,12.9l47.5,18.1l36.7,8.1l38,4.0l46.2,2.1" stroke="#C0504D"/>
<path d="M52.4,26.1l1.3,24.7l1.3,43.7l1.7,22.0l2.2,8.9l2.2,5.1l1.9,4.5l54.3,61.4l25.9,3.5l47.5,5.0l36.7,2.2l38,1.1l46.2,.6" stroke="#4F81BD"/>
<path d="M52.4,26.9l1.3,11.4l1.3,21.2l1.7,8.6l2.2,4.4l2.2,.2l3,3.0l3.5,.2l3.5,.2l4.2,.2l42,108.2l25.9,6.9l47.5,9.7l36.7,4.3l38,2.1l46.2,1.1" stroke="#4F81BD"/>
<path d="M52.4,26.7l1.3,23.8l1.3,44.4l1.7,21.5l2.2,9.1l2.2,6.0l1.5,3.4l54.7,62.0l25.9,3.4l47.5,4.8l36.7,2.2l38,1.1l46.2,.6" stroke="#C0504D"/>
<path d="M52.4,25.9l1.3,23.6l1.3,41.2l1.7,19.6l2.2,8.0l2.2,6.2l3,5.3l1,.8l52.1,71.4l25.9,2.0l47.5,2.8l36.7,1.3l38,.6l46.2,.3" stroke="#9BBB59"/>
<path d="M52.4,26.1l1.3,20.4l1.3,37.0l1.7,17.5l2.2,6.5l2.2,4.3l3,5.2l2.6,1.2l50.5,79.9l25.9,3.1l47.5,4.4l36.7,2.0l38,1.0l46.2,.5" stroke="#9BBB59"/>
<path d="M52.4,26.7l1.3,22.5l1.3,39.7l1.7,20.0l2.2,8.4l2.2,5.1l3,4.9l1.3,1.6l51.8,77.4l25.9,.8l47.5,1.2l36.7,.5l38,.3l46.2,.1" stroke="#4F81BD"/>
<path d="M52.4,26.4l1.3,4.8l1.3,7.8l1.7,4.3l2.2,.8l2.2,.8l3,1.2l3.5,1.3l3.5,1.3l1.4,.6l44.7,107.6l25.9,14.6l47.5,20.6l36.7,9.2l38,4.5l46.2,2.3" stroke="#4F81BD"/>
<path d="M52.4,26.8l1.3,25.2l1.3,46.5l1.7,22.9l2.2,9.7l2.2,6.2l1.8,4.2l2.5,4.5l4.3,5.5l4.3,5.3l4.3,5.3l6.5,8.2l6.5,8.0l6.5,7.9l6.5,7.9l6.5,8.0l6.5,7.6l25.9,-.1l47.5,-.2l36.7,-.1l38,-.0l46.2,-.0" stroke="#C0504D"/>
<path d="M52.4,26.5l1.3,5.6l1.3,10.9l1.7,4.2l2.2,1.5l2.2,.3l3,.4l3.5,.4l3.5,.4l1.4,.2l44.8,103.3l25.9,15.5l47.5,21.9l36.7,9.8l38,4.8l46.2,2.5" stroke="#4F81BD"/>
<path d="M52.4,26.3l1.3,12.1l1.3,21.3l1.7,10.3l2.2,2.7l2.2,.9l3,.9l3.5,.5l3.5,.1l4.4,.2l41.8,100.4l25.9,9.4l47.5,13.2l36.7,5.9l38,2.9l46.2,1.5" stroke="#8064A2"/>
<path d="M52.4,27.0l1.3,19.6l1.3,36.7l1.7,17.1l2.2,7.0l2.2,4.3l3,4.3l3.5,3.9l1.3,.3l48.3,68.4l25.9,5.8l47.5,8.1l36.7,3.7l38,1.8l46.2,.9" stroke="#8064A2"/>
<path d="M52.4,26.1l1.3,24.9l1.3,45.8l1.7,22.0l2.2,9.5l2.2,5.7l1.2,3.1l55,73.1l25.9,-.2l47.5,-.3l36.7,-.1l38,-.1l46.2,-.0" stroke="#9BBB59"/>
<path d="M52.4,26.1l1.3,16.7l1.3,28.5l1.7,12.4l2.2,5.5l2.2,1.9l3,2.6l3.5,1.4l3.5,1.4l2.2,.7l44,91.9l25.9,5.6l47.5,8.0l36.7,3.6l38,1.8l46.2,.9" stroke="#4BACC6"/>
<path d="M52.4,26.7l1.3,14.4l1.3,23.0l1.7,13.5l2.2,2.2l2.2,3.5l3,2.0l3.5,.4l2.8,.3l46.8,102.2l25.9,5.9l47.5,8.3l36.7,3.7l38,1.8l46.2,.9" stroke="#C0504D"/>
<path d="M52.4,26.5l1.3,9.2l1.3,18.2l1.7,6.9l2.2,2.8l2.2,.5l3,.8l3.5,.7l3.5,.7l5,1.0l41.2,96.9l25.9,12.6l47.5,17.8l36.7,8.0l38,3.9l46.2,2.0" stroke="#C0504D"/>
<path d="M52.4,26.7l1.3,22.1l1.3,39.6l1.7,18.6l2.2,8.6l2.2,4.2l3.5,6.1l52.6,77.9l25.9,1.5l47.5,2.2l36.7,1.0l38,.5l46.2,.2" stroke="#4F81BD"/>
<path d="M52.4,26.8l1.3,.9l1.3,2.3l1.7,1.7l2.2,2.1l2.2,2.1l3,2.9l3.5,3.3l3.5,3.3l2.5,2.4l43.7,108.5l25.9,14.8l47.5,20.8l36.7,9.3l38,4.6l46.2,2.4" stroke="#9BBB59"/>
<path d="M52.4,25.9l1.3,20.3l1.3,33.4l1.7,17.4l2.2,6.8l2.2,4.3l3,3.9l3.5,2.0l2.2,1.0l47.5,71.7l25.9,6.3l47.5,8.9l36.7,4.0l38,2.0l46.2,1.0" stroke="#8064A2"/>
<path d="M52.4,26.3l1.3,6.8l1.3,10.1l1.7,4.3l2.2,1.2l2.2,.8l3,.6l3.5,.6l3.5,.6l1.8,.3l44.4,110.8l25.9,13.1l47.5,18.5l36.7,8.3l38,4.1l46.2,2.1" stroke="#4BACC6"/>
<path d="M52.4,26.9l1.3,25.4l1.3,48.4l1.7,23.7l2,9.8l2.3,6.9l4.3,7.9l4.3,5.7l4.3,4.9l4.3,5.0l6.5,8.2l6.5,7.4l6.5,7.2l6.5,7.1l6.5,7.5l6.5,3.3l25.9,1.1l47.5,1.6l36.7,.7l38,.4l46.2,.2" stroke="#4F81BD"/>
<path d="M52.4,27.0l1.3,9.3l1.3,17.7l1.7,9.9l2.2,1.6l2.2,1.4l3,1.9l3.5,.4l3.5,.4l4.8,.5l41.4,95.8l25.9,12.2l47.5,17.1l36.7,7.7l38,3.8l46.2,2.0" stroke="#4BACC6"/>
<path d="M52.4,26.5l1.3,9.5l1.3,15.2l1.7,7.4l2.2,1.7l2.2,1.2l3,.6l3.5,.7l3.5,.7l2.2,.4l44,114.3l25.9,8.7l47.5,12.2l36.7,5.5l38,2.7l46.2,1.4" stroke="#F79646"/>
<path d="M52.4,26.7l1.3,17.1l1.3,30.0l1.7,15.1l2.2,4.7l2.2,4.1l3,2.7l3.5,.6l3,1.2l46.7,85.1l25.9,6.1l47.5,8.6l36.7,3.9l38,1.9l46.2,1.0" stroke="#C0504D"/>
<path d="M52.4,26.5l1.3,17.1l1.3,29.6l1.7,15.2l2.2,6.1l2.2,2.6l3,3.5l3.5,1.5l3.5,.5l1.9,.1l44.3,82.7l25.9,6.6l47.5,9.4l36.7,4.2l38,2.1l46.2,1.1" stroke="#8064A2"/>
<path d="M52.4,26.7l1.3,21.0l1.3,40.4l1.7,19.3l2.2,7.7l2.2,4.7l3,5.1l3.2,3.2l49.9,71.5l25.9,2.7l47.5,3.8l36.7,1.7l38,.8l46.2,.4" stroke="#9BBB59"/>
<path d="M52.4,26.8l1.3,22.3l1.3,40.6l1.7,20.1l2.2,7.4l2.2,5.7l3,5.2l2.5,2.9l50.6,71.9l25.9,1.8l47.5,2.5l36.7,1.1l38,.5l46.2,.3" stroke="#4F81BD"/>
<path d="M52.4,26.4l1.3,17.8l1.3,32.7l1.7,14.9l2.2,7.2l2.2,2.5l3,4.6l3.5,1.3l1.6,.4l48.1,82.2l25.9,5.3l47.5,7.5l36.7,3.4l38,1.7l46.2,.9" stroke="#9BBB59"/>
<path d="M52.4,27.0l1.3,23.6l1.3,45.1l1.7,21.8l2.2,9.3l2.2,5.5l1.5,3.6l54.6,63.5l25.9,2.7l47.5,3.9l36.7,1.7l38,.9l46.2,.4" stroke="#8064A2"/>
<path d="M52.4,26.1l1.3,18.5l1.3,32.0l1.7,16.9l2.2,5.9l2.2,2.8l3,4.9l3.5,1.4l2.7,.7l47,89.8l25.9,2.9l47.5,4.0l36.7,1.8l38,.9l46.2,.5" stroke="#4F81BD"/>
<path d="M52.4,26.4l1.3,25.6l1.3,46.8l1.7,23.1l2.9,11.7l1.4,3.8l4.3,6.6l4.3,5.8l4.3,5.5l4.3,5.5l6.5,8.5l6.5,8.2l6.5,8.2l6.5,8.1l6.5,8.3l6.5,7.7l25.9,-.2l47.5,-.3l36.7,-.1l38,-.1l46.2,-.0" stroke="#F79646"/>
<path d="M52.4,26.2l1.3,9.3l1.3,17.4l1.7,8.9l2.2,2.6l2.2,.2l3,.9l3.5,.4l3.5,.4l1.9,.2l44.2,113.5l25.9,8.2l47.5,11.6l36.7,5.2l38,2.5l46.2,1.3" stroke="#4F81BD"/>
<path d="M52.4,26.5l15.5,.0l9,-1.4l40.2,128.3l25.9,15.6l47.5,22.0l36.7,9.9l38,4.9l46.2,2.5" stroke="#9BBB59"/>
<path d="M52.4,26.7l1.3,23.3l1.3,43.7l1.7,21.3l2.2,8.4l2.2,6.1l1.8,4.0l54.3,62.8l25.9,3.6l47.5,5.0l36.7,2.2l38,1.1l46.2,.6" stroke="#4F81BD"/>
<path d="M52.4,26.0l1.3,25.0l1.3,43.8l1.7,22.2l2.2,9.0l2.5,6.4l55.7,73.5l25.9,1.0l47.5,1.3l36.7,.6l38,.3l46.2,.2" stroke="#4F81BD"/>
<path d="M52.4,27.0l1.3,21.0l1.3,40.1l1.7,18.0l2.2,8.2l2.2,4.5l3,5.9l2.1,2.1l51,72.3l25.9,2.8l47.5,3.9l36.7,1.8l38,.9l46.2,.4" stroke="#4BACC6"/>
<path d="M52.4,26.7l1.3,14.3l1.3,28.8l1.7,13.1l2.2,4.4l2.2,2.8l3,3.3l3.5,.7l3.5,1.2l2.2,.1l44,98.5l25.9,4.3l47.5,6.1l36.7,2.7l38,1.3l46.2,.7" stroke="#9BBB59"/>
<path d="M52.4,26.8l1.3,20.2l1.3,36.5l1.7,18.7l2.2,7.6l2.2,4.0l3,4.9l3.5,2.5l2.3,1.6l47.3,74.1l25.9,3.5l47.5,4.9l36.7,2.2l38,1.1l46.2,.6" stroke="#8064A2"/>
<path d="M52.4,25.9l1.3,25.2l1.3,44.7l1.7,22.3l2.2,9.0l2.2,6.3l2,4.2l54.1,60.0l25.9,3.3l47.5,4.6l36.7,2.1l38,1.0l46.2,.5" stroke="#4F81BD"/>
<path d="M52.4,26.9l1.3,15.0l1.3,29.3l1.7,14.6l2.2,4.6l2.2,4.2l3,2.7l3.5,.4l4,1.9l45.6,87.9l25.9,6.1l47.5,8.6l36.7,3.8l38,1.9l46.2,1.0" stroke="#C0504D"/>
<path d="M52.4,25.9l1.3,22.7l1.3,42.2l1.7,20.0l2.2,8.4l2.2,5.0l2.7,4.5l53.4,74.7l25.9,1.6l47.5,2.3l36.7,1.0l38,.5l46.2,.3" stroke="#4F81BD"/>
<path d="M52.4,26.8l1.3,.1l1.3,1.2l1.7,1.5l2.2,1.9l2.2,1.9l3,2.7l3.5,3.1l3.5,3.1l1.8,1.7l44.3,101.3l25.9,17.9l47.5,25.3l36.7,11.3l38,5.6l46.2,2.9" stroke="#C0504D"/>
<path d="M52.4,27.1l1.3,7.2l1.3,14.3l1.7,5.6l2.2,1.4l2.2,.8l3,1.3l3.5,.7l3.5,.7l2.6,.5l43.6,113.8l25.9,10.0l47.5,14.2l36.7,6.4l38,3.1l46.2,1.6" stroke="#F79646"/>
<path d="M52.4,26.6l1.3,8.0l1.3,13.3l1.7,5.1l2.2,1.8l2.2,1.6l3,1.1l3.5,1.3l3.5,1.3l4.7,1.7l41.5,102.6l25.9,12.5l47.5,17.7l36.7,7.9l38,3.9l46.2,2.0" stroke="#F79646"/>
<path d="M52.4,27.0l1.3,25.1l1.3,46.2l1.7,23.2l2.2,9.7l2.7,7.4l3.8,6.5l4.3,5.6l4.3,5.4l4.3,5.4l6.5,8.3l6.5,8.1l6.5,8.1l6.5,8.0l6.5,8.1l6.5,7.8l25.9,-.2l47.5,-.3l36.7,-.1l38,-.1l46.2,-.0" stroke="#4F81BD"/>
<path d="M52.4,26.8l1.3,25.5l1.3,47.8l1.7,23.7l2.2,10.0l2.1,6.1l4.4,9.6l4.3,5.7l4.3,5.1l4.3,5.1l6.5,8.2l6.5,7.6l6.5,7.4l6.5,7.3l6.5,7.6l6.5,6.4l25.9,-.2l47.5,-.3l36.7,-.1l38,-.1l46.2,-.0" stroke="#C0504D"/>
<path d="M52.4,26.9l1.3,22.1l1.3,40.7l1.7,19.7l2.2,8.3l2.2,4.4l3,5.6l1.5,1.7l51.6,79.0l25.9,.2l47.5,.3l36.7,.1l38,.1l46.2,.0" stroke="#8064A2"/>
<path d="M52.4,26.6l.9,16.7l.9,22.0l.9,36.7l1.3,21.9l1.3,8.1l1.7,6.5l1.7,5.5l2.2,5.6l2.2,4.4l4.3,6.2l4.3,4.8l4.3,4.8l6.5,8.5l6.5,7.1l6.5,6.8l6.5,6.6l6.5,7.3l6.5,2.4l25.9,.2l47.5,.3l36.7,.1l38,.1l46.2,.0" stroke="#A9C4E4"/>
<path d="M52.4,26.1l1.3,13.9l1.3,24.5l1.7,11.1l2.2,5.1l2.2,1.3l3,2.3l3.5,.4l3.5,.4l3.8,.4l42.4,105.8l25.9,5.0l47.5,7.1l36.7,3.2l38,1.6l46.2,.8" stroke="#F79646"/>
<path d="M52.4,26.1l1.3,22.8l1.3,40.5l1.7,19.8l2.2,8.0l2.2,5.3l3,4.6l3.9,4.0l49.2,67.3l25.9,3.0l47.5,4.2l36.7,1.9l38,.9l46.2,.5" stroke="#F79646"/>
<path d="M52.4,26.9l1.3,3.9l1.3,7.9l1.7,3.7l2.2,1.0l2.2,.3l3,.3l3.5,.4l3.5,.4l2.4,.3l43.8,118.6l25.9,12.7l47.5,18.0l36.7,8.1l38,4.0l46.2,2.0" stroke="#4BACC6"/>
<path d="M52.4,27.1l1.3,8.0l1.3,14.1l1.7,5.6l2.2,3.0l2.2,.3l3,1.0l3.5,.2l3.5,.2l1.1,.1l45,118.0l25.9,8.8l47.5,12.4l36.7,5.6l38,2.7l46.2,1.4" stroke="#4F81BD"/>
<path d="M52.4,26.4l1.3,16.0l1.3,30.2l1.7,14.5l2.2,4.6l2.2,4.1l3,1.9l3.5,2.2l2.3,1.5l47.3,88.5l25.9,5.4l47.5,7.7l36.7,3.4l38,1.7l46.2,.9" stroke="#4F81BD"/>
<path d="M52.4,26.1l1.3,16.6l1.3,31.4l1.7,15.0l2.2,5.7l2.2,3.9l3,1.9l3.5,1.4l2.1,1.1l47.6,80.4l25.9,7.2l47.5,10.1l36.7,4.5l38,2.2l46.2,1.1" stroke="#C0504D"/>
<path d="M52.4,26.5l1.3,24.8l1.3,45.3l1.7,22.2l2.2,9.3l2.2,5.8l3.3,6.6l52.8,62.4l25.9,1.8l47.5,2.5l36.7,1.1l38,.6l46.2,.3" stroke="#C0504D"/>
<path d="M52.4,26.5l1.3,15.4l1.3,26.5l1.7,14.1l2.2,4.8l2.2,2.7l3,1.3l3.5,.7l3.5,2.0l3,.6l43.1,87.1l25.9,7.7l47.5,10.8l36.7,4.8l38,2.4l46.2,1.2" stroke="#8064A2"/>
<path d="M52.4,26.4l1.3,25.7l1.3,47.2l1.7,23.2l2.2,10.0l1.9,5.7l4.6,9.1l4.3,5.6l4.3,5.2l4.3,5.2l6.5,8.2l6.5,7.8l6.5,7.7l6.5,7.6l6.5,7.8l6.5,6.8l25.9,.0l47.5,.0l36.7,.0l38,.0l46.2,.0" stroke="#9BBB59"/>
<path d="M52.4,26.3l1.3,16.3l1.3,26.6l1.7,14.5l2.2,3.7l2.2,3.4l3,2.2l3.5,1.9l3.1,.6l46.6,83.3l25.9,8.5l47.5,12.0l36.7,5.4l38,2.7l46.2,1.4" stroke="#8064A2"/>
<path d="M52.4,26.2l1.3,18.8l1.3,35.8l1.7,17.2l2.2,6.2l2.2,3.8l3,3.9l3.5,2.3l1.6,2.2l48,85.9l25.9,2.0l47.5,2.8l36.7,1.3l38,.6l46.2,.3" stroke="#4BACC6"/>
<path d="M52.4,26.6l1.3,18.0l1.3,33.8l1.7,17.0l2.2,6.3l2.2,2.8l3,4.0l3.5,2.4l4.1,.9l45.6,80.6l25.9,4.7l47.5,6.6l36.7,3.0l38,1.5l46.2,.8" stroke="#9BBB59"/>
<path d="M52.4,26.9l1.3,22.1l1.3,40.5l1.7,20.3l2.2,8.5l2.2,4.4l3,6.2l2.2,2.0l50.9,66.8l25.9,3.2l47.5,4.5l36.7,2.0l38,1.0l46.2,.5" stroke="#8064A2"/>
<path d="M52.4,26.4l1.3,13.9l1.3,25.0l1.7,11.6l2.2,4.9l2.2,2.6l3,2.8l3.5,.9l3.5,.4l1.9,.2l44.3,86.5l25.9,9.5l47.5,13.4l36.7,6.0l38,3.0l46.2,1.5" stroke="#9BBB59"/>
<path d="M52.4,26.9l1.3,3.8l1.3,6.8l1.7,2.7l2.2,.6l2.2,.6l3,.9l3.5,1.0l3.5,1.0l1.5,.4l44.7,103.4l25.9,17.1l47.5,24.1l36.7,10.8l38,5.3l46.2,2.7" stroke="#9BBB59"/>
<path d="M52.4,26.6l1.3,22.1l1.3,38.9l1.7,19.7l2.2,8.1l2.2,5.5l3,4.8l1.2,1.3l51.9,67.3l25.9,4.1l47.5,5.8l36.7,2.6l38,1.3l46.2,.7" stroke="#C0504D"/>
<path d="M52.4,27.0l.9,15.5l.9,22.0l.9,36.7l1.3,21.9l1.3,8.1l1.7,6.5l1.7,5.5l2.2,5.7l2.2,4.4l4.3,6.2l4.3,4.8l4.3,4.9l6.5,8.6l6.5,7.2l6.5,6.9l6.5,6.6l6.5,7.4l6.5,1.1l25.9,.6l47.5,.8l36.7,.4l38,.2l46.2,.1" stroke="#A9C4E4"/>
<path d="M52.4,26.8l1.3,23.3l1.3,44.1l1.7,21.9l2.2,8.9l2.2,5.8l2.4,4.4l53.8,74.8l25.9,-.2l47.5,-.3l36.7,-.1l38,-.1l46.2,-.0" stroke="#8064A2"/>
<path d="M52.4,26.3l1.3,6.7l1.3,11.6l1.7,4.9l2.2,1.5l2.2,.6l3,.8l3.5,.9l3.5,.9l4.7,1.2l41.5,99.9l25.9,15.1l47.5,21.3l36.7,9.6l38,4.7l46.2,2.4" stroke="#9BBB59"/>
<path d="M52.4,26.7l1.3,7.0l1.3,14.3l1.7,5.9l2.2,1.2l2.2,1.8l3,1.0l3.5,1.1l3.5,1.1l4.1,1.3l42.1,104.7l25.9,12.1l47.5,17.0l36.7,7.6l38,3.7l46.2,1.9" stroke="#F79646"/>
<path d="M52.4,26.3l1.3,3.2l1.3,6.3l1.7,2.7l2.2,1.8l2.2,1.8l3,2.5l3.5,2.8l3.5,2.8l3.8,3.1l42.3,112.8l25.9,12.1l47.5,17.0l36.7,7.6l38,3.7l46.2,1.9" stroke="#F79646"/>
<path d="M52.4,26.0l1.3,18.6l1.3,35.4l1.7,15.6l2.2,6.1l2.2,4.5l3,2.7l3.5,3.5l2.9,.9l46.7,82.6l25.9,3.7l47.5,5.2l36.7,2.3l38,1.2l46.2,.6" stroke="#C0504D"/>
<path d="M52.4,26.9l1.3,18.1l1.3,35.5l1.7,16.1l2.2,7.1l2.2,3.6l3,4.6l3.5,2.2l2.5,1.3l47.2,73.4l25.9,5.7l47.5,8.1l36.7,3.6l38,1.8l46.2,.9" stroke="#4F81BD"/>
<path d="M52.4,26.0l1.3,13.9l1.3,26.0l1.7,12.7l2.2,5.4l2.2,.6l3,2.3l3.5,1.3l3.7,1.0l46,98.4l25.9,6.1l47.5,8.6l36.7,3.8l38,1.9l46.2,1.0" stroke="#4F81BD"/>
<path d="M52.4,27.0l1.3,21.5l1.3,39.3l1.7,18.5l2.2,7.8l2.2,4.7l3,5.3l3.3,3.3l49.8,67.3l25.9,4.1l47.5,5.8l36.7,2.6l38,1.3l46.2,.7" stroke="#9BBB59"/>
<path d="M52.4,26.4l1.3,21.0l1.3,36.3l1.7,18.6l2.2,6.7l2.2,4.2l3,5.4l4.1,3.5l49,80.9l25.9,1.7l47.5,2.4l36.7,1.1l38,.5l46.2,.3" stroke="#C0504D"/>
<path d="M52.4,26.1l1.3,2.3l1.3,3.4l1.7,1.3l2.2,1.5l2.2,1.5l3,2.0l3.5,2.3l3.5,2.3l1.4,.9l44.8,101.6l25.9,17.9l47.5,25.3l36.7,11.3l38,5.6l46.2,2.9" stroke="#8064A2"/>
<path d="M52.4,27.0l1.3,4.1l1.3,8.8l1.7,4.4l2.2,.9l2.2,.9l3,1.2l3.5,1.4l3.5,1.4l5.3,2.1l40.9,111.0l25.9,12.9l47.5,18.2l36.7,8.2l38,4.0l46.2,2.1" stroke="#F79646"/>
<path d="M52.4,26.9l1.3,11.7l1.3,23.0l1.7,10.4l2.2,3.4l2.2,3.5l3,1.1l3.5,.5l3.4,.5l46.3,99.1l25.9,8.1l47.5,11.5l36.7,5.1l38,2.5l46.2,1.3" stroke="#F79646"/>
<path d="M52.4,27.0l1.3,3.3l1.3,5.9l1.7,2.6l2.2,1.1l2.2,.7l3,1.0l3.5,1.2l3.5,1.2l5.5,1.9l40.6,115.3l25.9,13.4l47.5,19.0l36.7,8.5l38,4.2l46.2,2.2" stroke="#8064A2"/>
<path d="M52.4,27.0l1.3,10.1l1.3,19.5l1.7,9.5l2.2,2.9l2.2,.4l3,1.5l3.5,.7l3.5,.7l2.8,.6l43.3,97.0l25.9,11.0l47.5,15.5l36.7,7.0l38,3.4l46.2,1.8" stroke="#8064A2"/>
<path d="M52.4,26.9l1.3,17.6l1.3,32.4l1.7,13.8l2.2,5.9l2.2,4.4l3,2.7l3.5,2.0l4,.8l45.6,91.5l25.9,3.1l47.5,4.4l36.7,2.0l38,1.0l46.2,.5" stroke="#4F81BD"/>
<path d="M52.4,26.3l1.3,4.9l1.3,9.3l1.7,4.7l2.2,.7l2.2,.7l3,1.0l3.5,1.2l3.5,1.2l1.5,.5l44.7,100.4l25.9,16.3l47.5,22.9l36.7,10.3l38,5.1l46.2,2.6" stroke="#4F81BD"/>
<path d="M52.4,27.0l1.3,11.3l1.3,24.7l1.7,9.3l2.2,4.4l2.2,2.4l3,.7l3.5,.6l3.5,.6l4.1,.7l42.1,98.5l25.9,8.1l47.5,11.4l36.7,5.1l38,2.5l46.2,1.3" stroke="#8064A2"/>
<path d="M52.4,27.0l1.3,15.4l1.3,27.8l1.7,14.2l2.2,4.0l2.2,3.1l3,2.2l3.5,2.0l3.5,.4l2.4,.5l43.8,92.1l25.9,5.8l47.5,8.1l36.7,3.6l38,1.8l46.2,.9" stroke="#4F81BD"/>
<path d="M52.4,27.0l1.3,22.1l1.3,41.5l1.7,20.7l2.2,8.3l2.2,4.7l3.6,6.1l52.5,66.2l25.9,3.5l47.5,4.9l36.7,2.2l38,1.1l46.2,.6" stroke="#F79646"/>
<path d="M52.4,26.9l1.3,17.4l1.3,29.8l1.7,16.2l2.2,4.7l2.2,3.4l3,2.9l3.5,2.1l1.8,.9l47.9,85.6l25.9,5.4l47.5,7.6l36.7,3.4l38,1.7l46.2,.9" stroke="#C0504D"/>
<path d="M52.4,26.4l1.3,2.1l1.3,3.9l1.7,1.6l2.2,2.1l2.2,2.1l3,2.9l3.5,3.3l3.5,3.3l2.2,2.1l44,95.4l25.9,17.9l47.5,25.3l36.7,11.3l38,5.6l46.2,2.9" stroke="#4BACC6"/>
<path d="M52.4,26.8l1.3,3.9l1.3,8.8l1.7,4.5l2.2,.9l2.2,.5l3,.7l3.5,.8l3.5,.8l4.4,1.0l41.8,106.4l25.9,15.2l47.5,21.4l36.7,9.6l38,4.7l46.2,2.4" stroke="#C0504D"/>
<path d="M52.4,26.4l1.3,13.5l1.3,24.7l1.7,11.6l2.2,4.3l2.2,2.4l3,1.3l3.5,.7l3.5,1.7l3.9,.3l42.3,92.4l25.9,8.4l47.5,11.8l36.7,5.3l38,2.6l46.2,1.3" stroke="#F79646"/>
<path d="M52.4,26.8l1.3,22.0l1.3,40.4l1.7,19.6l2.2,8.3l2.2,4.1l3,5.3l3.5,3.9l1,.6l48.7,75.2l25.9,.8l47.5,1.2l36.7,.5l38,.3l46.2,.1" stroke="#4F81BD"/>
<path d="M52.4,26.3l1.3,2.2l1.3,3.2l1.7,1.3l2.2,1.6l2.2,1.6l3,2.2l3.5,2.6l3.5,2.6l5.6,4.2l40.6,107.0l25.9,15.2l47.5,21.5l36.7,9.6l38,4.7l46.2,2.4" stroke="#4BACC6"/>
<path d="M52.4,25.9l1.3,24.8l1.3,44.8l1.7,21.8l2.2,9.6l2.2,5.7l3.2,6.1l53,67.1l25.9,.9l47.5,1.3l36.7,.6l38,.3l46.2,.1" stroke="#C0504D"/>
<path d="M52.4,26.6l1.3,12.8l1.3,24.8l1.7,10.9l2.2,4.5l2.2,3.0l3,.5l3.5,1.5l3.5,1.1l1.4,.2l44.8,92.4l25.9,8.6l47.5,12.2l36.7,5.5l38,2.7l46.2,1.4" stroke="#4F81BD"/>
<path d="M52.4,26.0l1.3,3.9l1.3,6.6l1.7,3.3l2.2,.3l2.2,.3l3,.4l3.5,.4l3.5,.4l1.8,.2l44.3,117.9l25.9,13.9l47.5,19.6l36.7,8.8l38,4.3l46.2,2.2" stroke="#C0504D"/>
<path d="M52.4,26.6l1.3,13.7l1.3,28.2l1.7,10.9l2.2,5.1l2.2,2.1l3,2.8l3.5,.4l3.5,.4l2.6,1.1l43.6,88.0l25.9,8.4l47.5,11.8l36.7,5.3l38,2.6l46.2,1.3" stroke="#F79646"/>
<path d="M52.4,26.1l1.3,21.4l1.3,37.5l1.7,18.0l2.2,7.5l2.2,4.1l3,4.3l3.5,2.8l.9,.3l48.8,72.0l25.9,4.2l47.5,6.0l36.7,2.7l38,1.3l46.2,.7" stroke="#4BACC6"/>
<path d="M52.4,26.4l1.3,.6l1.3,1.6l1.7,.5l2.2,.4l2.2,.4l3,.6l3.5,.7l3.5,.7l5.6,1.1l40.6,114.6l25.9,17.2l47.5,24.3l36.7,10.9l38,5.3l46.2,2.8" stroke="#4F81BD"/>
<path d="M52.4,26.3l1.3,22.1l1.3,41.6l1.7,20.2l2.2,7.4l2.2,5.2l3.3,6.1l52.9,75.6l25.9,1.3l47.5,1.8l36.7,.8l38,.4l46.2,.2" stroke="#9BBB59"/>
<path d="M52.4,26.3l1.3,1.9l1.3,3.3l1.7,1.6l2.2,.6l2.2,.6l3,.8l3.5,1.0l3.5,1.0l2.7,.8l43.5,124.7l25.9,13.1l47.5,18.4l36.7,8.3l38,4.1l46.2,2.1" stroke="#4F81BD"/>
<path d="M52.4,26.8l1.3,17.1l1.3,30.1l1.7,14.5l2.2,6.5l2.2,2.0l3,2.8l3.5,2.7l2.9,1.3l46.7,89.2l25.9,4.5l47.5,6.3l36.7,2.8l38,1.4l46.2,.7" stroke="#C0504D"/>
<path d="M52.4,27.0l1.3,22.5l1.3,41.5l1.7,20.7l2.2,8.3l2.2,5.6l3,5.7l1.8,2.2l51.3,73.1l25.9,.7l47.5,1.1l36.7,.5l38,.2l46.2,.1" stroke="#C0504D"/>
<path d="M52.4,26.5l1.3,1.5l1.3,3.1l1.7,1.7l2.2,2.1l2.2,2.1l3,2.9l3.5,3.4l3.5,3.4l2.4,2.3l43.8,114.6l25.9,12.8l47.5,18.0l36.7,8.1l38,4.0l46.2,2.1" stroke="#F79646"/>
<path d="M52.4,27.0l1.3,2.6l1.3,6.3l1.7,2.7l2.2,1.4l2.2,1.4l3,1.9l3.5,2.2l3.5,2.2l3.6,2.3l42.6,111.0l25.9,13.5l47.5,19.0l36.7,8.5l38,4.2l46.2,2.2" stroke="#4BACC6"/>
<path d="M52.4,26.7l1.3,8.5l1.3,16.1l1.7,6.3l2.2,3.6l2.2,.4l3,.2l3.5,.2l3.5,.2l5,.3l41.2,109.8l25.9,10.3l47.5,14.6l36.7,6.5l38,3.2l46.2,1.7" stroke="#F79646"/>
<path d="M52.4,26.9l1.3,7.7l1.3,14.5l1.7,5.2l2.2,1.8l2.2,1.0l3,1.0l3.5,1.2l3.5,1.2l5,1.7l41.2,105.4l25.9,11.6l47.5,16.4l36.7,7.3l38,3.6l46.2,1.9" stroke="#4F81BD"/>
<path d="M52.4,26.4l1.3,25.4l1.3,46.4l1.7,23.2l2.2,9.4l2.5,7.5l4,6.4l4.3,5.5l4.3,5.3l4.3,5.3l6.5,8.1l6.5,7.9l6.5,7.9l6.5,7.8l6.5,7.9l6.5,7.2l25.9,.5l47.5,.7l36.7,.3l38,.1l46.2,.1" stroke="#8064A2"/>
<path d="M52.4,26.7l1.3,5.2l1.3,8.3l1.7,4.1l2.2,1.0l2.2,.8l3,1.1l3.5,1.2l3.5,1.2l4.2,1.5l42,115.0l25.9,12.1l47.5,17.0l36.7,7.6l38,3.7l46.2,1.9" stroke="#9BBB59"/>
<path d="M52.4,26.7l1.3,3.1l1.3,5.1l1.7,2.2l2.2,1.7l2.2,1.7l3,2.3l3.5,2.7l3.5,2.7l2.5,2.0l43.6,104.0l25.9,15.4l47.5,21.8l36.7,9.8l38,4.8l46.2,2.5" stroke="#8064A2"/>
<path d="M52.4,26.0l1.3,19.2l1.3,32.1l1.7,14.8l2.2,5.8l2.2,4.8l3,3.0l3.5,2.5l2.2,.2l47.4,80.4l25.9,5.7l47.5,8.1l36.7,3.6l38,1.8l46.2,.9" stroke="#4F81BD"/>
<path d="M52.4,26.6l1.3,23.7l1.3,42.1l1.7,20.9l2.2,8.8l2.2,5.5l3.5,7.0l52.6,73.1l25.9,.5l47.5,.7l36.7,.3l38,.1l46.2,.1" stroke="#9BBB59"/>
<path d="M52.4,26.4l15.5,.0l8.4,-1.4l40.8,120.2l25.9,17.9l47.5,25.3l36.7,11.3l38,5.6l46.2,2.9" stroke="#C0504D"/>
<path d="M52.4,26.7l1.3,19.2l1.3,35.9l1.7,17.8l2.2,7.6l2.2,3.3l3,5.0l3.5,1.7l3.1,2.7l46.6,78.5l25.9,3.0l47.5,4.3l36.7,1.9l38,.9l46.2,.5" stroke="#C0504D"/>
<path d="M52.4,25.9l1.3,24.6l1.3,43.2l1.7,21.5l2.2,8.9l2.2,5.7l3,6.0l1.7,2.4l51.4,71.8l25.9,-.2l47.5,-.3l36.7,-.1l38,-.1l46.2,-.0" stroke="#F79646"/>
<path d="M52.4,26.5l1.3,16.2l1.3,31.6l1.7,14.6l2.2,4.1l2.2,3.6l3,3.7l3.5,.7l3.5,1.5l2.2,.2l44,91.2l25.9,4.2l47.5,6.0l36.7,2.7l38,1.3l46.2,.7" stroke="#8064A2"/>
<path d="M52.4,26.5l1.3,20.5l1.3,38.6l1.7,19.3l2.2,7.1l2.2,3.9l3,5.2l3.5,3.4l1.9,.9l47.7,66.2l25.9,4.9l47.5,6.9l36.7,3.1l38,1.5l46.2,.8" stroke="#C0504D"/>
<path d="M52.4,26.9l1.3,2.2l1.3,4.5l1.7,1.9l2.2,.7l2.2,.7l3,1.0l3.5,1.1l3.5,1.1l1.8,.6l44.4,104.3l25.9,17.9l47.5,25.3l36.7,11.3l38,5.6l46.2,2.9" stroke="#F79646"/>
<path d="M52.4,26.8l1.3,14.1l1.3,24.4l1.7,13.1l2.2,3.9l2.2,2.2l3,2.9l3.5,1.1l3.5,.3l2.3,.2l43.9,89.4l25.9,8.6l47.5,12.1l36.7,5.4l38,2.7l46.2,1.4" stroke="#4F81BD"/>
<path d="M52.4,26.6l1.3,25.7l1.3,47.4l1.7,23.6l2.2,9.7l2.2,6.6l2.3,5.3l2,5.1l4.3,5.5l4.3,5.0l4.3,5.0l6.5,8.0l6.5,7.4l6.5,7.3l6.5,7.2l6.5,7.5l6.5,6.0l25.9,.1l47.5,.2l36.7,.1l38,.0l46.2,.0" stroke="#9BBB59"/>
<path d="M52.4,27.0l1.3,5.0l1.3,9.9l1.7,4.6l2.2,1.7l2.2,.2l3,.3l3.5,.3l3.5,.3l4.9,.4l41.2,106.1l25.9,15.0l47.5,21.1l36.7,9.5l38,4.6l46.2,2.4" stroke="#F79646"/>
<path d="M52.4,26.8l1.3,8.8l1.3,16.3l1.7,7.1l2.2,.9l2.2,1.2l3,.7l3.5,.3l3.5,.3l2.1,.2l44.1,116.6l25.9,8.4l47.5,11.8l36.7,5.3l38,2.6l46.2,1.3" stroke="#4F81BD"/>
<path d="M52.4,25.9l1.3,15.1l1.3,26.7l1.7,12.7l2.2,3.1l2.2,3.5l3,2.7l3.5,.5l3.6,.5l46.1,91.7l25.9,7.5l47.5,10.5l36.7,4.7l38,2.3l46.2,1.2" stroke="#C0504D"/>
<path d="M52.4,26.9l1.3,6.2l1.3,11.7l1.7,6.5l2.2,1.3l2.2,.5l3,.5l3.5,.6l3.5,.6l3.9,.6l42.3,109.6l25.9,12.4l47.5,17.5l36.7,7.8l38,3.8l46.2,2.0" stroke="#4F81BD"/>
<path d="M52.4,26.9l1.3,12.7l1.3,23.3l1.7,11.0l2.2,3.8l2.2,2.5l3,1.2l3.5,.4l3.5,.4l4,.4l42.2,96.6l25.9,8.4l47.5,11.9l36.7,5.3l38,2.6l46.2,1.4" stroke="#8064A2"/>
<path d="M52.4,26.2l1.3,16.9l1.3,28.8l1.7,13.9l2.2,6.1l2.2,3.7l3,2.4l3.5,.7l3.3,.4l46.3,93.9l25.9,4.5l47.5,6.3l36.7,2.8l38,1.4l46.2,.7" stroke="#F79646"/>
<path d="M52.4,26.3l1.3,5.2l1.3,9.6l1.7,4.0l2.2,1.2l2.2,.9l3,1.3l3.5,1.5l3.5,1.5l4.4,1.9l41.7,107.8l25.9,13.4l47.5,18.9l36.7,8.5l38,4.2l46.2,2.2" stroke="#C0504D"/>
<path d="M52.4,25.9l1.3,9.2l1.3,16.4l1.7,6.0l2.2,2.7l2.2,.5l3,.4l3.5,.8l3.5,.4l2.7,.3l43.5,109.2l25.9,10.4l47.5,14.7l36.7,6.6l38,3.2l46.2,1.7" stroke="#8064A2"/>
<path d="M52.4,26.0l1.3,10.8l1.3,17.2l1.7,6.4l2.2,2.6l2.2,.9l3,1.3l3.5,.5l3.5,.5l1.9,.3l44.3,111.7l25.9,8.7l47.5,12.2l36.7,5.5l38,2.7l46.2,1.4" stroke="#9BBB59"/>
<path d="M52.4,26.7l1.3,16.8l1.3,32.2l1.7,14.2l2.2,5.7l2.2,4.6l3,2.7l3.5,1.5l1.4,1.5l48.2,76.6l25.9,7.5l47.5,10.6l36.7,4.7l38,2.3l46.2,1.2" stroke="#4F81BD"/>
<path d="M52.4,26.1l1.3,22.4l1.3,38.5l1.7,19.1l2.2,7.9l2.2,5.7l3,4.0l2.7,3.6l50.4,70.0l25.9,3.3l47.5,4.7l36.7,2.1l38,1.0l46.2,.5" stroke="#F79646"/>
<path d="M52.4,26.6l1.3,25.6l1.3,49.3l1.7,24.1l2.2,10.3l2.7,8.3l3.8,8.5l4.3,5.8l4.3,4.8l4.3,4.8l6.5,8.1l6.5,7.1l6.5,6.9l6.5,6.7l6.5,7.2l6.5,3.7l25.9,.4l47.5,.6l36.7,.3l38,.1l46.2,.1" stroke="#8064A2"/>
<path d="M52.4,26.3l1.3,23.0l1.3,41.6l1.7,20.9l2.2,8.3l2.2,5.1l3,5.6l1.6,1.9l51.4,69.5l25.9,2.0l47.5,2.8l36.7,1.2l38,.6l46.2,.3" stroke="#4F81BD"/>
<path d="M52.4,26.6l1.3,14.6l1.3,25.0l1.7,11.2l2.2,4.3l2.2,3.8l3,1.0l3.5,.5l3.5,1.7l1.6,.2l44.6,103.5l25.9,4.7l47.5,6.7l36.7,3.0l38,1.5l46.2,.8" stroke="#8064A2"/>
<path d="M52.4,26.8l1.3,21.4l1.3,39.9l1.7,19.3l2.2,8.5l2.2,4.1l3,5.6l4.3,3.5l48.8,71.3l25.9,2.5l47.5,3.5l36.7,1.6l38,.8l46.2,.4" stroke="#4F81BD"/>
<path d="M52.4,26.2l1.3,9.6l1.3,17.3l1.7,7.3l2.2,2.5l2.2,.4l3,.6l3.5,.7l3.5,.7l2.6,.5l43.6,106.6l25.9,10.3l47.5,14.6l36.7,6.5l38,3.2l46.2,1.7" stroke="#F79646"/>
<path d="M52.4,26.9l1.3,9.7l1.3,19.8l1.7,9.4l2.2,2.8l2.2,2.0l3,2.1l3.5,.3l3.5,.3l2.6,.2l43.6,99.3l25.9,10.2l47.5,14.3l36.7,6.4l38,3.2l46.2,1.6" stroke="#8064A2"/>
<path d="M52.4,26.1l1.3,2.0l1.3,2.7l1.7,.9l2.2,.7l2.2,.7l3,1.0l3.5,1.2l3.5,1.2l4.7,1.6l41.5,112.1l25.9,16.5l47.5,23.3l36.7,10.4l38,5.1l46.2,2.7" stroke="#8064A2"/>
<path d="M52.4,26.7l1.3,25.6l1.3,47.5l1.7,23.4l2.7,11.6l1.7,5.2l4.3,7.4l4.3,5.8l4.3,5.2l4.3,5.2l6.5,8.4l6.5,7.8l6.5,7.7l6.5,7.6l6.5,7.9l6.5,6.7l25.9,-.1l47.5,-.1l36.7,-.1l38,-.0l46.2,-.0" stroke="#8064A2"/>
<path d="M52.4,26.7l1.3,6.7l1.3,10.8l1.7,5.2l2.2,1.0l2.2,1.0l3,1.4l3.5,1.6l3.5,1.6l5.7,2.6l40.5,106.9l25.9,12.2l47.5,17.2l36.7,7.7l38,3.8l46.2,2.0" stroke="#8064A2"/>
<path d="M52.4,26.3l1.3,16.5l1.3,29.1l1.7,13.7l2.2,5.3l2.2,4.0l3,2.9l3.5,.7l3.5,1.1l1.6,.3l44.5,80.3l25.9,8.1l47.5,11.4l36.7,5.1l38,2.5l46.2,1.3" stroke="#9BBB59"/>
<path d="M52.4,27.0l1.3,24.6l1.3,45.4l1.7,22.8l2.2,9.5l2.2,5.9l3.2,6.6l52.9,67.3l25.9,-.0l47.5,-.0l36.7,-.0l38,-.0l46.2,-.0" stroke="#F79646"/>
<path d="M52.4,26.4l1.3,22.3l1.3,40.6l1.7,19.2l2.2,8.0l2.2,5.0l2.9,6.0l53.3,77.9l25.9,1.1l47.5,1.5l36.7,.7l38,.3l46.2,.2" stroke="#4F81BD"/>
<path d="M52.4,26.6l1.3,15.9l1.3,30.5l1.7,14.5l2.2,5.8l2.2,4.5l3,3.0l3.5,.5l3.5,1.4l1.8,.3l44.4,81.9l25.9,6.7l47.5,9.5l36.7,4.3l38,2.1l46.2,1.1" stroke="#4F81BD"/>
<path d="M52.4,26.2l1.3,20.1l1.3,35.0l1.7,18.6l2.2,6.3l2.2,4.1l3,3.5l3.5,2.9l1.7,.8l48,76.3l25.9,4.3l47.5,6.1l36.7,2.7l38,1.3l46.2,.7" stroke="#8064A2"/>
<path d="M52.4,26.5l1.3,4.4l1.3,6.8l1.7,3.9l2.2,.6l2.2,.6l3,.8l3.5,.9l3.5,.9l2.6,.7l43.6,123.7l25.9,11.0l47.5,15.5l36.7,7.0l38,3.4l46.2,1.8" stroke="#F79646"/>
<path d="M52.4,26.9l1.3,14.0l1.3,25.2l1.7,12.5l2.2,4.4l2.2,1.1l3,1.6l3.5,2.2l3.5,.4l2.7,.3l43.5,95.4l25.9,7.0l47.5,9.8l36.7,4.4l38,2.2l46.2,1.1" stroke="#F79646"/>
<path d="M52.4,26.2l1.3,24.7l1.3,45.8l1.7,21.9l2.2,9.4l2.8,7.9l55.5,68.7l25.9,1.3l47.5,1.8l36.7,.8l38,.4l46.2,.2" stroke="#8064A2"/>
<path d="M52.4,26.3l1.3,20.4l1.3,34.9l1.7,17.1l2.2,7.9l2.2,3.6l3,3.4l4.3,3.4l48.8,75.9l25.9,4.5l47.5,6.4l36.7,2.9l38,1.4l46.2,.7" stroke="#C0504D"/>
<path d="M52.4,26.0l1.3,26.2l1.3,46.8l1.7,23.4l2.8,11.5l1.5,4.4l4.3,6.9l4.3,5.8l4.3,5.4l4.3,5.4l6.5,8.5l6.5,8.1l6.5,8.0l6.5,7.9l6.5,8.1l6.5,7.3l25.9,-.1l47.5,-.2l36.7,-.1l38,-.0l46.2,-.0" stroke="#4F81BD"/>
<path d="M52.4,26.4l1.3,14.2l1.3,26.0l1.7,11.5l2.2,3.8l2.2,2.8l3,1.6l3.5,2.0l3.5,.4l2.5,.3l43.7,101.5l25.9,5.2l47.5,7.3l36.7,3.3l38,1.6l46.2,.8" stroke="#4BACC6"/>
<path d="M52.4,26.5l1.3,20.5l1.3,35.9l1.7,17.8l2.2,7.0l2.2,4.5l3,3.7l3,2.6l50.1,69.6l25.9,5.9l47.5,8.3l36.7,3.7l38,1.8l46.2,.9" stroke="#F79646"/>
<path d="M52.4,26.2l1.3,10.3l1.3,18.8l1.7,8.0l2.2,2.1l2.2,2.3l3,.8l3.5,.6l3.5,.6l4.8,.8l41.3,96.9l25.9,11.7l47.5,16.5l36.7,7.4l38,3.6l46.2,1.9" stroke="#C0504D"/>
<path d="M52.4,27.0l1.3,19.7l1.3,36.4l1.7,16.3l2.2,7.2l2.2,4.7l3,3.9l3.3,2.1l49.8,82.6l25.9,2.6l47.5,3.6l36.7,1.6l38,.8l46.2,.4" stroke="#4BACC6"/>
<path d="M52.4,26.2l1.3,14.4l1.3,22.1l1.7,11.0l2.2,4.5l2.2,2.1l3,2.6l3.5,.2l3.5,.2l3.7,.2l42.5,102.4l25.9,6.5l47.5,9.2l36.7,4.1l38,2.0l46.2,1.0" stroke="#C0504D"/>
<path d="M52.4,25.9l1.3,7.0l1.3,13.4l1.7,4.8l2.2,2.1l2.2,.5l3,.7l3.5,.8l3.5,.8l1.9,.5l44.3,99.7l25.9,14.8l47.5,20.9l36.7,9.3l38,4.6l46.2,2.4" stroke="#4F81BD"/>
<path d="M52.4,26.3l1.3,7.9l1.3,12.5l1.7,4.9l2.2,1.6l2.2,1.9l3,1.2l3.5,1.4l3.5,1.4l2.1,.8l44.1,98.8l25.9,14.2l47.5,20.0l36.7,9.0l38,4.4l46.2,2.3" stroke="#C0504D"/>
<path d="M52.4,25.9l1.3,1.1l1.3,1.4l1.7,1.4l2.2,1.8l2.2,1.8l3,2.5l3.5,2.9l3.5,2.9l1.5,1.3l44.7,102.3l25.9,17.9l47.5,25.3l36.7,11.3l38,5.6l46.2,2.9" stroke="#F79646"/>
<path d="M52.4,26.1l1.3,7.3l1.3,12.3l1.7,5.1l2.2,1.8l2.2,.4l3,.5l3.5,.6l3.5,.6l1.9,.3l44.3,107.0l25.9,13.2l47.5,18.6l36.7,8.3l38,4.1l46.2,2.1" stroke="#9BBB59"/>
<path d="M52.4,26.0l1.3,2.3l1.3,3.7l1.7,1.0l2.2,.9l2.2,.9l3,1.3l3.5,1.4l3.5,1.4l2.5,1.0l43.7,111.9l25.9,16.1l47.5,22.7l36.7,10.2l38,5.0l46.2,2.6" stroke="#C0504D"/>
<path d="M52.4,26.1l1.3,12.1l1.3,23.6l1.7,10.3l2.2,4.2l2.2,.5l3,1.8l3.5,1.9l3.5,.2l2.8,.2l43.4,90.3l25.9,10.6l47.5,15.0l36.7,6.7l38,3.3l46.2,1.7" stroke="#4BACC6"/>
<path d="M52.4,26.6l1.3,6.7l1.3,11.8l1.7,5.0l2.2,1.2l2.2,1.1l3,1.5l3.5,1.7l3.5,1.7l3,1.5l43.2,117.0l25.9,9.4l47.5,13.3l36.7,5.9l38,2.9l46.2,1.5" stroke="#C0504D"/>
<path d="M52.4,26.6l1.3,3.3l1.3,5.8l1.7,2.2l2.2,.3l2.2,.3l3,.4l3.5,.4l3.5,.4l3.1,.4l43.1,119.0l25.9,14.0l47.5,19.8l36.7,8.9l38,4.4l46.2,2.3" stroke="#F79646"/>
<path d="M52.4,26.2l1.3,15.3l1.3,25.6l1.7,13.1l2.2,3.7l2.2,1.8l3,2.5l3.5,.3l3.5,1.8l1.7,.2l44.4,97.7l25.9,5.9l47.5,8.3l36.7,3.7l38,1.8l46.2,.9" stroke="#C0504D"/>
<path d="M52.4,26.4l1.3,25.0l1.3,45.7l1.7,23.0l2.2,9.4l2.2,6.0l1.3,3.2l54.8,63.2l25.9,2.0l47.5,2.9l36.7,1.3l38,.6l46.2,.3" stroke="#C0504D"/>
<path d="M52.4,26.0l1.3,7.3l1.3,12.5l1.7,6.0l2.2,2.6l2.2,.9l3,1.2l3.5,1.4l3.5,1.4l4,1.6l42.2,104.4l25.9,12.3l47.5,17.4l36.7,7.8l38,3.8l46.2,2.0" stroke="#4BACC6"/>
<path d="M52.4,26.4l1.3,6.9l1.3,13.2l1.7,6.3l2.2,1.5l2.2,.7l3,1.0l3.5,1.2l3.5,1.2l4.4,1.5l41.7,115.4l25.9,9.5l47.5,13.4l36.7,6.0l38,2.9l46.2,1.5" stroke="#C0504D"/>
<path d="M52.4,26.7l1.3,25.6l1.3,48.1l1.7,23.7l2.2,10.0l1.3,4.0l5.1,11.4l4.3,5.7l4.3,5.0l4.3,5.0l6.5,8.2l6.5,7.4l6.5,7.3l6.5,7.2l6.5,7.5l6.5,5.2l25.9,.3l47.5,.4l36.7,.2l38,.1l46.2,.1" stroke="#F79646"/>
<path d="M52.4,26.9l1.3,5.7l1.3,11.9l1.7,4.2l2.2,1.5l2.2,1.4l3,1.7l3.5,1.9l3.5,1.9l3.4,1.9l42.8,114.1l25.9,10.1l47.5,14.2l36.7,6.4l38,3.1l46.2,1.6" stroke="#F79646"/>
<path d="M52.4,26.7l1.3,12.7l1.3,26.3l1.7,11.3l2.2,5.2l2.2,2.2l3,1.4l3.5,.8l3.3,.5l46.3,95.3l25.9,7.5l47.5,10.6l36.7,4.7l38,2.3l46.2,1.2" stroke="#4BACC6"/>
<path d="M52.4,26.3l1.3,23.8l1.3,43.7l1.7,21.5l2.2,8.1l2.2,5.9l1.9,4.3l54.2,68.1l25.9,2.1l47.5,3.0l36.7,1.3l38,.7l46.2,.3" stroke="#8064A2"/>
<path d="M52.4,26.6l1.3,.2l1.3,1.0l1.7,1.4l2.2,1.7l2.2,1.7l3,2.4l3.5,2.8l3.5,2.8l1.3,1.1l44.9,103.4l25.9,17.9l47.5,25.3l36.7,11.3l38,5.6l46.2,2.9" stroke="#4F81BD"/>
<path d="M52.4,26.4l1.3,21.3l1.3,40.0l1.7,18.6l2.2,7.7l2.2,4.9l3,4.7l4.2,4.1l48.9,68.4l25.9,3.7l47.5,5.2l36.7,2.3l38,1.1l46.2,.6" stroke="#4F81BD"/>
<path d="M52.4,26.9l1.3,5.2l1.3,11.4l1.7,5.8l2.2,1.2l2.2,.6l3,.8l3.5,.9l3.5,.9l4,1.1l42.2,118.0l25.9,10.2l47.5,14.4l36.7,6.4l38,3.2l46.2,1.6" stroke="#C0504D"/>
<path d="M52.4,25.9l1.3,3.2l1.3,4.8l1.7,1.9l2.2,.7l2.2,.7l3,1.0l3.5,1.1l3.5,1.1l4.7,1.5l41.5,121.0l25.9,13.0l47.5,18.3l36.7,8.2l38,4.0l46.2,2.1" stroke="#F79646"/>
<path d="M52.4,26.2l1.3,6.5l1.3,12.0l1.7,6.1l2.2,1.2l2.2,.8l3,1.2l3.5,1.3l3.5,1.3l2.7,1.0l43.5,99.8l25.9,14.5l47.5,20.4l36.7,9.1l38,4.5l46.2,2.3" stroke="#8064A2"/>
<path d="M52.4,26.9l1.3,18.0l1.3,34.0l1.7,16.2l2.2,6.1l2.2,3.5l3,4.4l3.5,1.8l4.1,2.4l45.6,74.5l25.9,6.0l47.5,8.4l36.7,3.8l38,1.9l46.2,1.0" stroke="#9BBB59"/>
<path d="M52.4,26.0l1.3,16.6l1.3,27.1l1.7,14.0l2.2,4.0l2.2,3.1l3,3.0l3.5,1.4l3.5,.3l2.6,.1l43.6,87.0l25.9,7.4l47.5,10.5l36.7,4.7l38,2.3l46.2,1.2" stroke="#4BACC6"/>
<path d="M52.4,26.9l1.3,6.0l1.3,13.1l1.7,6.2l2.2,1.1l2.2,2.0l3,.6l3.5,.7l3.5,.7l2.7,.5l43.5,110.6l25.9,11.4l47.5,16.1l36.7,7.2l38,3.6l46.2,1.8" stroke="#F79646"/>
<path d="M52.4,26.3l1.3,18.3l1.3,34.4l1.7,15.4l2.2,6.7l2.2,4.0l3,3.6l3.5,1.0l3.5,2.7l.9,.3l45.2,74.6l25.9,6.1l47.5,8.7l36.7,3.9l38,1.9l46.2,1.0" stroke="#4BACC6"/>
<path d="M52.4,26.6l1.3,2.1l1.3,4.9l1.7,2.1l2.2,1.3l2.2,1.3l3,1.8l3.5,2.0l3.5,2.0l2.3,1.3l43.9,115.7l25.9,13.5l47.5,19.0l36.7,8.5l38,4.2l46.2,2.2" stroke="#C0504D"/>
<path d="M52.4,26.1l1.3,10.0l1.3,15.7l1.7,7.5l2.2,2.6l2.2,.8l3,2.2l3.5,.7l3.5,.7l3.6,.7l42.6,113.3l25.9,8.1l47.5,11.4l36.7,5.1l38,2.5l46.2,1.3" stroke="#C0504D"/>
<path d="M52.4,26.2l1.3,8.2l1.3,15.0l1.7,6.2l2.2,1.8l2.2,1.1l3,.9l3.5,.7l3.5,.7l5.1,1.1l41.1,117.2l25.9,8.5l47.5,11.9l36.7,5.3l38,2.6l46.2,1.4" stroke="#4BACC6"/>
<path d="M52.4,26.9l1.3,24.6l1.3,46.5l1.7,22.8l2.2,9.3l2.8,8.4l3.7,5.4l4.3,5.5l4.3,5.4l4.3,5.4l6.5,8.2l6.5,8.1l6.5,8.1l6.5,8.1l6.5,8.2l6.5,7.9l25.9,.1l47.5,.1l36.7,.0l38,.0l46.2,.0" stroke="#8064A2"/>
<path d="M52.4,26.1l1.3,9.7l1.3,16.8l1.7,8.9l2.2,1.0l2.2,2.7l3,.5l3.5,.6l3.5,.6l2.2,.4l44,114.4l25.9,7.7l47.5,10.8l36.7,4.9l38,2.4l46.2,1.2" stroke="#4F81BD"/>
<path d="M52.4,26.3l1.3,25.9l1.3,48.5l1.7,23.7l2.7,11.7l1.6,5.5l4.3,8.1l4.3,5.8l4.3,5.0l4.3,5.1l6.5,8.3l6.5,7.5l6.5,7.3l6.5,7.2l6.5,7.6l6.5,5.6l25.9,.0l47.5,.0l36.7,.0l38,.0l46.2,.0" stroke="#C0504D"/>
<path d="M52.4,26.6l1.3,14.0l1.3,27.4l1.7,13.3l2.2,4.9l2.2,2.1l3,2.9l3.5,.9l3.5,1.1l1.7,.4l44.5,85.7l25.9,8.4l47.5,11.8l36.7,5.3l38,2.6l46.2,1.3" stroke="#9BBB59"/>
<path d="M52.4,26.0l1.3,5.9l1.3,8.1l1.7,3.8l2.2,1.5l2.2,1.2l3,1.6l3.5,1.9l3.5,1.9l5.7,3.1l40.5,112.1l25.9,11.8l47.5,16.6l36.7,7.5l38,3.7l46.2,1.9" stroke="#4F81BD"/>
<path d="M52.4,26.5l1.3,20.0l1.3,35.6l1.7,17.8l2.2,7.6l2.2,4.1l3,3.5l3.5,2.9l3.1,2.3l46.5,70.0l25.9,5.3l47.5,7.5l36.7,3.3l38,1.6l46.2,.9" stroke="#F79646"/>
<path d="M52.4,26.8l1.3,24.7l1.3,46.2l1.7,23.1l2.2,9.5l1.7,4.6l4.8,6.8l4.3,5.7l4.3,5.7l4.3,5.7l6.5,8.6l6.5,8.5l6.5,8.5l6.5,8.5l6.5,8.5l6.5,8.4l25.9,-.2l47.5,-.3l36.7,-.1l38,-.1l46.2,-.0" stroke="#C0504D"/>
<path d="M52.4,26.1l1.3,3.0l1.3,6.1l1.7,1.7l2.2,1.0l2.2,1.0l3,1.4l3.5,1.6l3.5,1.6l4.9,2.3l41.3,113.7l25.9,13.9l47.5,19.6l36.7,8.8l38,4.3l46.2,2.2" stroke="#4BACC6"/>
<path d="M52.4,25.9l1.3,9.1l1.3,15.1l1.7,7.9l2.2,2.1l2.2,.7l3,.7l3.5,.9l3.5,.9l3.1,.8l43.1,114.0l25.9,8.7l47.5,12.3l36.7,5.5l38,2.7l46.2,1.4" stroke="#C0504D"/>
<path d="M52.4,26.8l1.3,15.3l1.3,26.9l1.7,14.9l2.2,4.7l2.2,2.9l3,2.3l3.5,.3l3.5,1.0l.9,.1l45.3,89.8l25.9,6.7l47.5,9.5l36.7,4.2l38,2.1l46.2,1.1" stroke="#4BACC6"/>
<path d="M52.4,26.8l1.3,25.2l1.3,46.6l1.7,22.9l2.2,9.8l2.3,7.0l4.1,7.3l4.3,5.5l4.3,5.2l4.3,5.2l6.5,8.0l6.5,7.8l6.5,7.7l6.5,7.6l6.5,7.8l6.5,6.7l25.9,.6l47.5,.8l36.7,.4l38,.2l46.2,.1" stroke="#8064A2"/>
<path d="M52.4,25.9l1.3,26.4l1.3,49.0l1.7,23.9l2.2,10.1l.9,2.8l1.3,4.5l4.3,8.5l4.3,5.8l4.3,4.9l4.3,4.9l6.5,8.2l6.5,7.3l6.5,7.1l6.5,6.9l6.5,7.4l6.5,4.9l25.9,.1l47.5,.2l36.7,.1l38,.0l46.2,.0" stroke="#8064A2"/>
<path d="M52.4,26.9l1.3,4.6l1.3,9.7l1.7,3.7l2.2,1.1l2.2,1.1l3,1.5l3.5,1.7l3.5,1.7l3.3,1.6l42.9,99.3l25.9,15.8l47.5,22.3l36.7,10.0l38,4.9l46.2,2.5" stroke="#4BACC6"/>
<path d="M52.4,26.0l1.3,6.3l1.3,9.5l1.7,4.4l2.2,1.3l2.2,1.3l3,1.8l3.5,2.1l3.5,2.1l5.4,3.2l40.8,105.8l25.9,12.7l47.5,17.9l36.7,8.0l38,4.0l46.2,2.0" stroke="#C0504D"/>
<path d="M52.4,26.9l1.3,23.9l1.3,44.9l1.7,22.4l2.2,9.3l2.2,5.8l56.1,68.7l25.9,2.0l47.5,2.9l36.7,1.3l38,.6l46.2,.3" stroke="#4F81BD"/>
<path d="M52.4,26.0l1.3,6.3l1.3,12.0l1.7,3.9l2.2,2.3l2.2,1.0l3,1.3l3.5,1.5l3.5,1.5l5.3,2.4l40.9,111.4l25.9,11.1l47.5,15.6l36.7,7.0l38,3.4l46.2,1.8" stroke="#C0504D"/>
<path d="M52.4,26.8l1.3,1.7l1.3,4.7l1.7,1.3l2.2,.5l2.2,.3l3,.4l3.5,.4l3.5,.4l5.9,.7l40.3,118.3l25.9,15.1l47.5,21.2l36.7,9.5l38,4.7l46.2,2.4" stroke="#4F81BD"/>
<path d="M52.4,26.9l1.3,7.5l1.3,14.0l1.7,5.8l2.2,2.0l2.2,.4l3,.5l3.5,.6l3.5,.6l1.5,.3l44.7,108.1l25.9,11.9l47.5,16.8l36.7,7.5l38,3.7l46.2,1.9" stroke="#9BBB59"/>
<path d="M52.4,26.6l1.3,8.5l1.3,16.7l1.7,7.1l2.2,1.7l2.2,2.6l3,.3l3.5,.3l3.5,.3l2.9,.3l43.3,109.2l25.9,10.0l47.5,14.1l36.7,6.3l38,3.1l46.2,1.6" stroke="#4BACC6"/>
<path d="M52.4,26.4l1.3,19.3l1.3,35.2l1.7,18.2l2.2,6.6l2.2,3.3l3,4.8l3.5,1.7l2.7,1.8l46.9,85.1l25.9,1.9l47.5,2.7l36.7,1.2l38,.6l46.2,.3" stroke="#F79646"/>
<path d="M52.4,25.9l1.3,11.2l1.3,22.0l1.7,9.7l2.2,1.6l2.2,1.6l3,2.5l3.5,.5l3.5,.4l2.4,.3l43.8,99.4l25.9,9.5l47.5,13.5l36.7,6.0l38,3.0l46.2,1.5" stroke="#4BACC6"/>
<path d="M52.4,26.5l1.3,3.9l1.3,6.5l1.7,3.1l2.2,.9l2.2,.9l3,1.3l3.5,1.5l3.5,1.5l4.3,1.8l41.9,112.5l25.9,13.6l47.5,19.2l36.7,8.6l38,4.2l46.2,2.2" stroke="#F79646"/>
<path d="M52.4,26.4l1.3,20.0l1.3,36.7l1.7,17.8l2.2,6.5l2.2,4.5l3,3.3l2.9,3.0l50.2,82.4l25.9,2.4l47.5,3.4l36.7,1.5l38,.7l46.2,.4" stroke="#F79646"/>
<path d="M52.4,26.0l1.3,8.5l1.3,15.8l1.7,5.7l2.2,2.7l2.2,.8l3,.9l3.5,.6l3.5,.6l4.8,.9l41.4,100.2l25.9,13.0l47.5,18.4l36.7,8.2l38,4.1l46.2,2.1" stroke="#8064A2"/>
<path d="M52.4,26.8l.9,15.2l.9,22.0l.9,36.7l1.3,22.0l1.3,8.1l1.7,6.5l1.7,5.5l2.2,5.7l2.2,4.4l4.3,6.2l4.3,4.9l4.3,4.9l6.5,8.6l6.5,7.2l6.5,6.9l6.5,6.7l6.5,7.4l6.5,1.4l25.9,.5l47.5,.8l36.7,.3l38,.2l46.2,.1" stroke="#FBC8A0"/>
<path d="M52.4,27.0l1.3,14.2l1.3,25.9l1.7,12.1l2.2,3.6l2.2,2.3l3,1.4l3.5,1.3l3.5,.7l2.5,.5l43.7,102.6l25.9,4.9l47.5,7.0l36.7,3.1l38,1.5l46.2,.8" stroke="#4F81BD"/>
<path d="M52.4,27.0l1.3,3.9l1.3,7.1l1.7,3.3l2.2,1.5l2.2,1.5l3,2.1l3.5,2.5l3.5,2.5l4.5,3.2l41.7,99.9l25.9,15.3l47.5,21.6l36.7,9.7l38,4.7l46.2,2.5" stroke="#C0504D"/>
<path d="M52.4,26.0l1.3,14.7l1.3,26.1l1.7,13.2l2.2,3.6l2.2,2.3l3,2.4l3.5,2.3l2.4,.5l47.2,98.2l25.9,5.6l47.5,7.8l36.7,3.5l38,1.7l46.2,.9" stroke="#F79646"/>
<path d="M52.4,26.7l1.3,9.1l1.3,16.2l1.7,6.0l2.2,2.6l2.2,.9l3,1.5l3.5,.7l3.5,.7l1.1,.2l45.1,114.8l25.9,8.3l47.5,11.7l36.7,5.2l38,2.6l46.2,1.3" stroke="#4F81BD"/>
<path d="M52.4,26.0l1.3,18.9l1.3,31.9l1.7,15.0l2.2,6.2l2.2,3.3l3,3.6l4.3,2.5l48.8,84.4l25.9,4.9l47.5,6.9l36.7,3.1l38,1.5l46.2,.8" stroke="#F79646"/>
<path d="M52.4,25.9l1.3,1.3l1.3,1.8l1.7,.8l2.2,1.0l2.2,1.0l3,1.4l3.5,1.6l3.5,1.6l3.6,1.7l42.6,121.8l25.9,13.8l47.5,19.5l36.7,8.7l38,4.3l46.2,2.2" stroke="#8064A2"/>
<path d="M52.4,26.1l1.3,4.4l1.3,6.1l1.7,2.9l2.2,.9l2.2,.5l3,.8l3.5,.9l3.5,.9l3.5,.9l42.7,116.0l25.9,13.7l47.5,19.3l36.7,8.6l38,4.3l46.2,2.2" stroke="#F79646"/>
<path d="M52.4,26.0l1.3,12.5l1.3,25.0l1.7,10.5l2.2,3.9l2.2,1.3l3,2.3l3.5,.6l3.5,.6l1,.2l45.2,102.7l25.9,6.7l47.5,9.4l36.7,4.2l38,2.1l46.2,1.1" stroke="#4F81BD"/>
<path d="M52.4,27.0l1.3,6.5l1.3,15.4l1.7,5.7l2.2,2.1l2.2,.7l3,.9l3.5,1.1l3.5,1.1l3.6,1.1l42.6,112.3l25.9,9.9l47.5,13.9l36.7,6.2l38,3.1l46.2,1.6" stroke="#F79646"/>
<path d="M52.4,26.5l1.3,24.1l1.3,43.5l1.7,22.0l2.2,8.4l2.2,5.6l1.2,3.1l55,63.4l25.9,3.5l47.5,5.0l36.7,2.2l38,1.1l46.2,.6" stroke="#F79646"/>
<path d="M52.4,26.8l1.3,1.7l1.3,4.8l1.7,1.4l2.2,.5l2.2,.3l3,.4l3.5,.5l3.5,.5l4.6,.6l41.6,115.1l25.9,15.8l47.5,22.3l36.7,10.0l38,4.9l46.2,2.5" stroke="#F79646"/>
<path d="M52.4,26.6l1.3,15.3l1.3,28.6l1.7,13.5l2.2,5.1l2.2,3.5l3,1.6l3.5,1.9l3.5,.9l1.2,.2l45,92.0l25.9,5.6l47.5,7.9l36.7,3.6l38,1.8l46.2,.9" stroke="#4F81BD"/>
<path d="M52.4,27.0l.9,16.2l.9,22.0l.9,36.7l1.3,21.9l1.3,8.1l1.7,6.5l1.7,5.5l2.2,5.6l2.2,4.4l4.3,6.2l4.3,4.8l4.3,4.8l6.5,8.5l6.5,7.1l6.5,6.8l6.5,6.6l6.5,7.3l6.5,2.4l25.9,.2l47.5,.3l36.7,.1l38,.1l46.2,.0" stroke="#FBC8A0"/>
<path d="M52.4,26.8l1.3,4.4l1.3,8.5l1.7,4.2l2.2,.7l2.2,.7l3,1.0l3.5,1.2l3.5,1.2l1.7,.6l44.5,101.1l25.9,16.4l47.5,23.2l36.7,10.4l38,5.1l46.2,2.6" stroke="#4F81BD"/>
<path d="M52.4,26.7l1.3,4.7l1.3,10.9l1.7,4.8l2.2,1.2l2.2,1.2l3,1.7l3.5,2.0l3.5,2.0l4.3,2.5l41.9,104.0l25.9,13.3l47.5,18.7l36.7,8.4l38,4.1l46.2,2.1" stroke="#8064A2"/>
<path d="M52.4,26.3l1.3,23.9l1.3,42.2l1.7,21.1l2.2,8.2l2.2,5.5l3,5.4l2.5,3.1l50.6,61.5l25.9,3.3l47.5,4.7l36.7,2.1l38,1.0l46.2,.5" stroke="#C0504D"/>
<path d="M52.4,26.1l1.3,12.3l1.3,24.0l1.7,10.1l2.2,3.9l2.2,1.4l3,1.3l3.5,.2l3.5,.5l2.6,.1l43.5,91.8l25.9,10.5l47.5,14.8l36.7,6.6l38,3.3l46.2,1.7" stroke="#F79646"/>
<path d="M52.4,27.0l1.3,9.3l1.3,17.5l1.7,9.1l2.2,2.9l2.2,.9l3,.3l3.5,.2l3.5,.1l1.8,.1l44.4,111.5l25.9,8.5l47.5,12.0l36.7,5.4l38,2.7l46.2,1.4" stroke="#F79646"/>
<path d="M52.4,27.1l1.3,11.4l1.3,22.0l1.7,10.0l2.2,1.9l2.2,1.7l3,1.5l3.5,1.0l3.5,.6l2.1,.4l44.1,109.7l25.9,6.2l47.5,8.7l36.7,3.9l38,1.9l46.2,1.0" stroke="#F79646"/>
<path d="M52.4,26.2l1.3,14.2l1.3,24.8l1.7,10.9l2.2,5.0l2.2,1.4l3,3.7l3.5,.7l3.5,.7l2.1,.4l44.1,100.0l25.9,5.9l47.5,8.4l36.7,3.8l38,1.8l46.2,1.0" stroke="#C0504D"/>
<path d="M52.4,26.8l1.3,9.7l1.3,19.8l1.7,9.0l2.2,1.7l2.2,2.6l3,1.2l3.5,.1l3.5,.1l3.9,.1l42.3,97.7l25.9,11.3l47.5,15.9l36.7,7.1l38,3.5l46.2,1.8" stroke="#4BACC6"/>
<path d="M52.4,26.3l1.3,4.5l1.3,9.4l1.7,3.0l2.2,.7l2.2,.7l3,1.0l3.5,1.2l3.5,1.2l3,1.0l43.2,101.4l25.9,16.5l47.5,23.2l36.7,10.4l38,5.1l46.2,2.6" stroke="#4F81BD"/>
<path d="M52.4,26.2l1.3,14.5l1.3,26.7l1.7,12.0l2.2,3.7l2.2,3.4l3,1.9l3.5,.2l3.5,.2l3.2,.2l43,101.5l25.9,5.2l47.5,7.4l36.7,3.3l38,1.6l46.2,.8" stroke="#8064A2"/>
<path d="M52.4,26.0l1.3,26.3l1.3,47.5l1.7,23.2l2.2,10.1l2.2,6.3l2,4.8l2.3,5.6l4.3,5.5l4.3,5.0l4.3,5.0l6.5,8.0l6.5,7.5l6.5,7.3l6.5,7.2l6.5,7.5l6.5,6.1l25.9,.1l47.5,.1l36.7,.1l38,.0l46.2,.0" stroke="#F79646"/>
<path d="M52.4,27.0l1.3,16.1l1.3,28.1l1.7,13.9l2.2,4.0l2.2,1.9l3,4.3l3.5,1.1l3.5,.9l1.4,.2l44.8,88.4l25.9,6.5l47.5,9.2l36.7,4.1l38,2.0l46.2,1.0" stroke="#F79646"/>
<path d="M52.4,25.9l1.3,11.2l1.3,20.6l1.7,9.8l2.2,2.6l2.2,2.4l3,.1l3.5,.6l3.5,.1l4.4,.1l41.8,112.9l25.9,6.4l47.5,9.0l36.7,4.0l38,2.0l46.2,1.0" stroke="#8064A2"/>
<path d="M52.4,26.1l1.3,26.1l1.3,49.1l1.7,24.1l2.2,10.3l2.2,6.5l1.5,4.0l2.8,6.5l4.3,5.8l4.3,4.8l4.3,4.8l6.5,8.1l6.5,7.1l6.5,6.9l6.5,6.7l6.5,7.3l6.5,5.4l25.9,-.2l47.5,-.3l36.7,-.1l38,-.1l46.2,-.0" stroke="#C0504D"/>
<path d="M52.4,26.3l1.3,18.6l1.3,32.9l1.7,16.4l2.2,6.6l2.2,3.0l3,3.5l3.5,2.1l3.8,1.0l45.8,84.5l25.9,4.0l47.5,5.6l36.7,2.5l38,1.2l46.2,.6" stroke="#8064A2"/>
<path d="M52.4,26.7l1.3,6.4l1.3,9.6l1.7,5.3l2.2,.8l2.2,.7l3,1.0l3.5,1.1l3.5,1.1l2,.6l44.2,110.4l25.9,12.7l47.5,17.9l36.7,8.0l38,4.0l46.2,2.0" stroke="#4F81BD"/>
<path d="M52.4,26.8l1.3,20.9l1.3,39.8l1.7,19.4l2.2,7.3l2.2,4.8l3,5.3l2.3,2.5l50.8,79.2l25.9,.9l47.5,1.3l36.7,.6l38,.3l46.2,.1" stroke="#9BBB59"/>
<path d="M52.4,26.8l1.3,6.2l1.3,10.8l1.7,5.8l2.2,1.5l2.2,1.1l3,1.5l3.5,1.8l3.5,1.8l2.2,1.1l44,111.1l25.9,11.1l47.5,15.7l36.7,7.0l38,3.4l46.2,1.8" stroke="#8064A2"/>
<path d="M52.4,26.8l1.3,19.9l1.3,37.5l1.7,17.1l2.2,6.9l2.2,4.3l3,5.6l3,1.7l50.1,84.8l25.9,1.3l47.5,1.8l36.7,.8l38,.4l46.2,.2" stroke="#C0504D"/>
<path d="M52.4,26.0l1.3,1.9l1.3,3.7l1.7,1.0l2.2,.2l2.2,.2l3,.3l3.5,.4l3.5,.4l4.3,.5l41.9,110.5l25.9,17.9l47.5,25.3l36.7,11.3l38,5.6l46.2,2.9" stroke="#4F81BD"/>
<path d="M52.4,26.8l1.3,5.7l1.3,12.2l1.7,4.3l2.2,2.6l2.2,.1l3,.4l3.5,.2l3.5,.2l2.4,.1l43.8,111.3l25.9,12.7l47.5,17.9l36.7,8.0l38,4.0l46.2,2.0" stroke="#C0504D"/>
<path d="M52.4,26.2l1.3,1.5l1.3,2.3l1.7,2.0l2.2,2.5l2.2,2.5l3,3.6l3.5,4.1l3.5,4.1l3.7,4.3l42.5,92.1l25.9,17.9l47.5,25.3l36.7,11.3l38,5.6l46.2,2.9" stroke="#4F81BD"/>
<path d="M52.4,25.9l1.3,22.1l1.3,39.5l1.7,19.1l2.2,8.1l2.2,4.6l3,4.3l2.6,2.8l50.5,72.1l25.9,3.0l47.5,4.2l36.7,1.9l38,.9l46.2,.5" stroke="#4F81BD"/>
<path d="M52.4,27.0l1.3,10.3l1.3,18.9l1.7,9.0l2.2,2.7l2.2,2.1l3,.4l3.5,.5l3.5,.5l1.5,.2l44.7,94.7l25.9,12.0l47.5,16.9l36.7,7.6l38,3.7l46.2,1.9" stroke="#4BACC6"/>
<path d="M52.4,26.1l1.3,18.9l1.3,33.7l1.7,16.6l2.2,6.2l2.2,4.8l3,2.4l3.3,2.8l49.8,77.9l25.9,5.5l47.5,7.8l36.7,3.5l38,1.7l46.2,.9" stroke="#F79646"/>
<path d="M52.4,26.7l1.3,9.3l1.3,15.2l1.7,6.3l2.2,3.6l2.2,.4l3,.5l3.5,.5l3.5,.5l2.3,.4l43.9,102.5l25.9,12.1l47.5,17.0l36.7,7.6l38,3.7l46.2,1.9" stroke="#9BBB59"/>
<path d="M52.4,26.9l1.3,5.7l1.3,11.9l1.7,5.5l2.2,.5l2.2,1.0l3,.5l3.5,.2l3.5,.2l1.3,.1l44.9,106.7l25.9,14.0l47.5,19.7l36.7,8.8l38,4.3l46.2,2.2" stroke="#4BACC6"/>
<path d="M52.4,26.8l1.3,15.6l1.3,29.7l1.7,14.7l2.2,4.5l2.2,3.0l3,2.9l3.5,.5l2.9,1.6l46.8,92.7l25.9,4.9l47.5,6.9l36.7,3.1l38,1.5l46.2,.8" stroke="#F79646"/>
<path d="M52.4,26.5l1.3,25.7l1.3,48.0l1.7,23.7l2.8,11.9l1.5,5.2l4.3,7.7l4.3,5.7l4.3,5.0l4.3,5.0l6.5,8.2l6.5,7.4l6.5,7.3l6.5,7.1l6.5,7.5l6.5,4.3l25.9,.8l47.5,1.1l36.7,.5l38,.2l46.2,.1" stroke="#C0504D"/>
<path d="M52.4,26.6l1.3,12.3l1.3,22.6l1.7,11.2l2.2,4.0l2.2,.7l3,1.9l3.5,.7l3.5,.5l3.5,.5l42.7,94.5l25.9,9.5l47.5,13.3l36.7,6.0l38,2.9l46.2,1.5" stroke="#9BBB59"/>
<path d="M52.4,26.4l1.3,18.0l1.3,31.6l1.7,15.4l2.2,6.0l2.2,4.1l3,3.0l3.5,2.0l3.9,.7l45.8,89.2l25.9,3.6l47.5,5.1l36.7,2.3l38,1.1l46.2,.6" stroke="#F79646"/>
<path d="M52.4,26.9l1.3,1.7l1.3,3.7l1.7,1.9l2.2,2.3l2.2,2.3l3,3.2l3.5,3.6l3.5,3.6l1.9,2.0l44.3,94.1l25.9,17.9l47.5,25.3l36.7,11.3l38,5.6l46.2,2.9" stroke="#C0504D"/>
<path d="M52.4,26.7l1.3,7.6l1.3,15.5l1.7,6.7l2.2,1.4l2.2,1.4l3,.6l3.5,.4l3.5,.4l3.6,.4l42.6,114.2l25.9,9.5l47.5,13.4l36.7,6.0l38,3.0l46.2,1.5" stroke="#8064A2"/>
<path d="M52.4,26.9l1.3,10.3l1.3,17.2l1.7,8.9l2.2,2.3l2.2,3.0l3,1.1l3.5,.3l3.5,.3l3.2,.3l43,99.0l25.9,11.1l47.5,15.7l36.7,7.0l38,3.5l46.2,1.8" stroke="#9BBB59"/>
<path d="M52.4,26.8l1.3,17.9l1.3,32.9l1.7,14.8l2.2,5.8l2.2,4.0l3,3.0l3.5,2.0l3.6,.5l46,81.5l25.9,5.6l47.5,7.9l36.7,3.6l38,1.8l46.2,.9" stroke="#8064A2"/>
<path d="M52.4,26.6l1.3,11.4l1.3,23.3l1.7,11.0l2.2,3.2l2.2,1.8l3,1.9l3.5,.6l3.5,.6l3.7,.6l42.5,90.3l25.9,10.6l47.5,14.9l36.7,6.7l38,3.3l46.2,1.7" stroke="#4F81BD"/>
<path d="M52.4,26.3l1.3,3.9l1.3,6.6l1.7,2.9l2.2,1.0l2.2,.8l3,1.1l3.5,1.2l3.5,1.2l3.1,1.1l43.1,117.7l25.9,12.7l47.5,18.0l36.7,8.1l38,4.0l46.2,2.0" stroke="#F79646"/>
<path d="M52.4,26.5l1.3,15.4l1.3,27.9l1.7,12.3l2.2,4.2l2.2,2.8l3,3.3l3.5,.2l4,.2l45.6,85.1l25.9,8.8l47.5,12.4l36.7,5.6l38,2.7l46.2,1.4" stroke="#4F81BD"/>
<path d="M52.4,27.0l1.3,19.6l1.3,34.8l1.7,17.7l2.2,6.0l2.2,4.6l3,3.3l2.8,3.1l50.3,79.0l25.9,3.9l47.5,5.5l36.7,2.5l38,1.2l46.2,.6" stroke="#8064A2"/>
<path d="M52.4,26.0l1.3,10.2l1.3,15.1l1.7,8.4l2.2,1.1l2.2,2.1l3,.5l3.5,.3l3.5,.3l3.6,.3l42.6,115.1l25.9,8.3l47.5,11.7l36.7,5.2l38,2.6l46.2,1.3" stroke="#8064A2"/>
<path d="M52.4,26.5l1.3,12.4l1.3,20.3l1.7,11.1l2.2,3.6l2.2,1.2l3,.9l3.5,1.5l3.5,.6l2.5,.4l43.7,96.8l25.9,9.5l47.5,13.3l36.7,6.0l38,2.9l46.2,1.5" stroke="#F79646"/>
<path d="M52.4,26.9l1.3,21.3l1.3,38.7l1.7,19.6l2.2,6.9l2.2,5.1l3.8,5.3l52.3,69.0l25.9,4.6l47.5,6.5l36.7,2.9l38,1.4l46.2,.7" stroke="#8064A2"/>
<path d="M52.4,27.0l.9,15.0l.9,22.0l.9,36.7l1.3,22.0l1.3,8.1l1.7,6.5l1.7,5.5l2.2,5.7l2.2,4.4l4.3,6.2l4.3,4.9l4.3,4.9l6.5,8.6l6.5,7.2l6.5,6.9l6.5,6.7l6.5,7.4l6.5,1.1l25.9,.6l47.5,.9l36.7,.4l38,.2l46.2,.1" stroke="#E0A8A6"/>
<path d="M52.4,26.3l1.3,15.7l1.3,26.0l1.7,12.7l2.2,3.6l2.2,3.8l3,1.5l3.5,.4l3.5,1.8l1.3,.2l44.8,97.8l25.9,5.4l47.5,7.6l36.7,3.4l38,1.7l46.2,.9" stroke="#F79646"/>
<path d="M52.4,26.0l1.3,12.2l1.3,20.0l1.7,9.8l2.2,4.6l2.2,1.7l3,.7l3.5,1.1l3.5,.2l3.4,.2l42.8,104.6l25.9,7.9l47.5,11.1l36.7,5.0l38,2.4l46.2,1.3" stroke="#C0504D"/>
<path d="M52.4,26.0l1.3,22.9l1.3,40.0l1.7,19.2l2.2,8.6l2.2,4.8l3,4.7l3.1,3.1l50,71.5l25.9,2.4l47.5,3.3l36.7,1.5l38,.7l46.2,.4" stroke="#C0504D"/>
<path d="M52.4,26.9l1.3,16.4l1.3,31.8l1.7,14.4l2.2,5.7l2.2,4.0l3,3.8l4.2,.9l48.9,90.9l25.9,4.0l47.5,5.7l36.7,2.5l38,1.2l46.2,.6" stroke="#F79646"/>
<path d="M52.4,26.9l1.3,12.9l1.3,23.7l1.7,12.0l2.2,4.4l2.2,2.4l3,.9l3.5,2.2l4.1,.1l45.6,89.1l25.9,9.7l47.5,13.7l36.7,6.1l38,3.0l46.2,1.6" stroke="#C0504D"/>
<path d="M52.4,26.1l1.3,21.3l1.3,36.3l1.7,17.8l2.2,7.7l2.2,4.6l3,3.9l3.5,2.9l2.5,2.0l47.1,75.8l25.9,3.0l47.5,4.3l36.7,1.9l38,.9l46.2,.5" stroke="#F79646"/>
<path d="M52.4,26.7l1.3,15.5l1.3,27.2l1.7,13.3l2.2,4.3l2.2,2.0l3,3.8l3.5,.5l3.5,.5l2.5,.4l43.7,89.1l25.9,7.3l47.5,10.2l36.7,4.6l38,2.3l46.2,1.2" stroke="#4BACC6"/>
<path d="M52.4,26.0l1.3,23.3l1.3,40.4l1.7,20.1l2.2,7.4l2.2,5.5l3,4.6l3.5,3.8l1,1.1l48.7,65.0l25.9,3.4l47.5,4.8l36.7,2.1l38,1.0l46.2,.5" stroke="#4F81BD"/>
<path d="M52.4,26.7l1.3,8.7l1.3,15.1l1.7,8.7l2.2,1.3l2.2,1.8l3,.1l3.5,.1l3.5,.1l5,.2l41.2,101.5l25.9,12.5l47.5,17.7l36.7,7.9l38,3.9l46.2,2.0" stroke="#4F81BD"/>
<path d="M52.4,26.8l1.3,16.4l1.3,30.8l1.7,12.9l2.2,5.3l2.2,4.0l3,3.0l3.5,.6l2.5,1.0l47.2,93.2l25.9,4.2l47.5,6.0l36.7,2.7l38,1.3l46.2,.7" stroke="#4BACC6"/>
<path d="M52.4,27.0l1.3,3.9l1.3,7.5l1.7,2.7l2.2,1.5l2.2,1.3l3,1.8l3.5,2.1l3.5,2.1l5.1,3.1l41.1,111.6l25.9,12.5l47.5,17.7l36.7,7.9l38,3.9l46.2,2.0" stroke="#4F81BD"/>
<path d="M52.4,26.5l1.3,24.2l1.3,44.2l1.7,21.6l2.2,9.0l2.2,5.9l3,5.7l1.6,2.1l51.5,64.7l25.9,1.5l47.5,2.1l36.7,.9l38,.5l46.2,.2" stroke="#C0504D"/>
<path d="M52.4,26.0l1.3,8.4l1.3,15.9l1.7,7.9l2.2,2.4l2.2,1.2l3,.2l3.5,.2l3.5,.2l3.8,.3l42.4,104.6l25.9,11.7l47.5,16.6l36.7,7.4l38,3.7l46.2,1.9" stroke="#9BBB59"/>
<path d="M52.4,26.8l1.3,-.2l1.3,.8l1.7,1.0l2.2,1.3l2.2,1.3l3,1.8l3.5,2.0l3.5,2.0l4.9,2.9l41.3,115.9l25.9,15.0l47.5,21.2l36.7,9.5l38,4.7l46.2,2.4" stroke="#9BBB59"/>
<path d="M52.4,27.0l1.3,4.9l1.3,9.7l1.7,3.5l2.2,1.3l2.2,1.2l3,1.6l3.5,1.8l3.5,1.8l3.7,2.0l42.5,112.9l25.9,11.6l47.5,16.4l36.7,7.3l38,3.6l46.2,1.9" stroke="#8064A2"/>
<path d="M52.4,26.9l1.3,22.7l1.3,40.5l1.7,20.5l2.2,8.4l2.2,4.7l3.4,6.1l52.7,68.5l25.9,3.1l47.5,4.3l36.7,1.9l38,1.0l46.2,.5" stroke="#4BACC6"/>
<path d="M52.4,26.1l1.3,14.8l1.3,27.8l1.7,13.7l2.2,3.7l2.2,2.1l3,4.0l3.5,.6l4.3,.8l45.4,94.7l25.9,5.9l47.5,8.3l36.7,3.7l38,1.8l46.2,.9" stroke="#C0504D"/>
<path d="M52.4,26.1l1.3,19.6l1.3,36.5l1.7,16.3l2.2,7.1l2.2,4.6l3,4.1l3.5,1.4l1.9,1.7l47.7,75.4l25.9,4.6l47.5,6.4l36.7,2.9l38,1.4l46.2,.7" stroke="#C0504D"/>
<path d="M52.4,26.3l1.3,4.1l1.3,8.0l1.7,4.1l2.2,.4l2.2,.4l3,.5l3.5,.6l3.5,.6l5.6,1.0l40.6,115.7l25.9,13.3l47.5,18.8l36.7,8.4l38,4.1l46.2,2.1" stroke="#F79646"/>
<path d="M52.4,27.0l1.3,21.4l1.3,39.8l1.7,18.2l2.2,9.0l2.2,4.1l3.5,6.0l52.6,79.9l25.9,1.1l47.5,1.5l36.7,.7l38,.3l46.2,.2" stroke="#C0504D"/>
<path d="M52.4,26.3l1.3,20.0l1.3,34.2l1.7,17.0l2.2,6.2l2.2,3.3l3,4.7l3.5,1.1l4.2,1.6l45.5,73.1l25.9,6.1l47.5,8.6l36.7,3.8l38,1.9l46.2,1.0" stroke="#C0504D"/>
<path d="M52.4,27.0l1.3,13.8l1.3,25.2l1.7,12.0l2.2,4.1l2.2,2.4l3,1.6l3.5,1.7l3.5,.4l3.3,.4l42.9,87.6l25.9,9.2l47.5,13.0l36.7,5.8l38,2.9l46.2,1.5" stroke="#8064A2"/>
<path d="M52.4,26.1l1.3,2.6l1.3,4.6l1.7,2.0l2.2,.4l2.2,.4l3,.5l3.5,.6l3.5,.6l5.3,.9l40.9,106.5l25.9,17.9l47.5,25.3l36.7,11.3l38,5.6l46.2,2.9" stroke="#F79646"/>
<path d="M52.4,26.5l1.3,13.1l1.3,22.9l1.7,9.5l2.2,3.8l2.2,.8l3,2.3l3.5,.4l3.5,.4l1,.1l45.2,101.3l25.9,7.9l47.5,11.1l36.7,5.0l38,2.4l46.2,1.3" stroke="#9BBB59"/>
<path d="M52.4,26.4l1.3,20.2l1.3,35.1l1.7,17.2l2.2,8.0l2.2,3.4l3,3.5l3.5,3.0l2.9,2.5l46.7,74.2l25.9,4.3l47.5,6.1l36.7,2.7l38,1.3l46.2,.7" stroke="#F79646"/>
<path d="M52.4,26.4l1.3,14.2l1.3,22.2l1.7,12.8l2.2,3.7l2.2,1.0l3,1.8l3.5,1.9l3.5,.2l3.2,.2l43,100.2l25.9,6.9l47.5,9.7l36.7,4.3l38,2.1l46.2,1.1" stroke="#C0504D"/>
<path d="M52.4,26.6l1.3,9.3l1.3,18.1l1.7,9.0l2.2,1.9l2.2,1.4l3,1.0l3.5,.6l3.5,.6l5,.9l41.2,107.7l25.9,9.0l47.5,12.7l36.7,5.7l38,2.8l46.2,1.4" stroke="#C0504D"/>
<path d="M52.4,26.4l1.3,19.5l1.3,37.3l1.7,17.6l2.2,7.7l2.2,4.2l3,4.6l2.5,2.3l50.6,82.5l25.9,1.9l47.5,2.7l36.7,1.2l38,.6l46.2,.3" stroke="#4BACC6"/>
<path d="M52.4,26.8l1.3,17.7l1.3,31.2l1.7,15.0l2.2,5.5l2.2,4.2l3,4.0l3.5,.8l1.6,.5l48,90.3l25.9,3.7l47.5,5.2l36.7,2.3l38,1.2l46.2,.6" stroke="#4BACC6"/>
<path d="M52.4,25.9l1.3,23.9l1.3,42.6l1.7,21.4l2.2,8.3l2.2,5.1l3,6.1l1.5,1.6l51.6,66.3l25.9,2.2l47.5,3.1l36.7,1.4l38,.7l46.2,.4" stroke="#8064A2"/>
<path d="M52.4,26.1l1.3,12.6l1.3,22.5l1.7,10.7l2.2,5.2l2.2,2.0l3,.6l3.5,.9l3.5,.3l1.5,.1l44.7,95.5l25.9,9.1l47.5,12.9l36.7,5.8l38,2.8l46.2,1.5" stroke="#F79646"/>
<path d="M52.4,26.6l1.3,12.9l1.3,23.3l1.7,10.0l2.2,3.2l2.2,2.2l3,2.5l3.5,.5l3.6,.6l46,104.5l25.9,6.4l47.5,9.1l36.7,4.1l38,2.0l46.2,1.0" stroke="#9BBB59"/>
<path d="M52.4,25.9l1.3,23.0l1.3,41.7l1.7,20.9l2.2,8.2l2.2,5.1l3.2,5.8l52.9,73.7l25.9,1.4l47.5,1.9l36.7,.9l38,.4l46.2,.2" stroke="#F79646"/>
<path d="M52.4,26.0l1.3,17.2l1.3,31.7l1.7,14.9l2.2,4.7l2.2,3.5l3,2.9l3.5,2.5l3.5,1.5l1.6,.1l44.6,80.8l25.9,6.5l47.5,9.2l36.7,4.1l38,2.0l46.2,1.1" stroke="#F79646"/>
<path d="M52.4,26.6l1.3,4.8l1.3,9.2l1.7,3.8l2.2,.9l2.2,1.2l3,1.2l3.5,1.3l3.5,1.3l3.8,1.5l42.4,115.5l25.9,11.7l47.5,16.5l36.7,7.4l38,3.6l46.2,1.9" stroke="#C0504D"/>
<path d="M52.4,26.1l1.3,23.8l1.3,43.1l1.7,21.3l2.2,8.8l2.2,5.3l1.3,2.8l54.9,70.8l25.9,2.0l47.5,2.8l36.7,1.3l38,.6l46.2,.3" stroke="#C0504D"/>
<path d="M52.4,26.8l1.3,10.0l1.3,20.4l1.7,9.4l2.2,4.0l2.2,1.0l3,.5l3.5,.8l3.5,.5l.9,.1l45.3,110.8l25.9,7.0l47.5,9.8l36.7,4.4l38,2.2l46.2,1.1" stroke="#4F81BD"/>
<path d="M52.4,26.0l1.3,1.3l1.3,1.5l1.7,.5l2.2,.5l2.2,.5l3,.7l3.5,.8l3.5,.8l1.3,.3l44.9,112.4l25.9,17.8l47.5,25.1l36.7,11.3l38,5.5l46.2,2.9" stroke="#8064A2"/>
<path d="M52.4,26.9l1.3,25.4l1.3,49.1l1.7,24.1l2.2,10.2l2.2,6.6l.9,2.9l3.4,7.4l4.3,5.8l4.3,4.8l4.3,4.8l6.5,8.1l6.5,7.1l6.5,6.9l6.5,6.7l6.5,7.2l6.5,4.6l25.9,.1l47.5,.1l36.7,.1l38,.0l46.2,.0" stroke="#8064A2"/>
<path d="M52.4,26.7l1.3,11.1l1.3,22.2l1.7,10.4l2.2,4.5l2.2,2.2l3,.6l3.5,.7l3.5,.6l2.1,.4l44.1,106.5l25.9,6.5l47.5,9.2l36.7,4.1l38,2.0l46.2,1.0" stroke="#4F81BD"/>
<path d="M52.4,27.0l1.3,5.8l1.3,12.3l1.7,6.4l2.2,.8l2.2,.9l3,.4l3.5,.4l3.5,.4l4.8,.6l41.4,106.2l25.9,13.4l47.5,19.0l36.7,8.5l38,4.2l46.2,2.2" stroke="#F79646"/>
<path d="M52.4,26.5l1.3,21.6l1.3,40.3l1.7,20.6l2.2,7.8l2.2,4.1l3,5.5l2.7,2.9l50.4,78.6l25.9,.4l47.5,.5l36.7,.2l38,.1l46.2,.1" stroke="#8064A2"/>
<path d="M52.4,26.7l1.3,3.7l1.3,7.6l1.7,2.3l2.2,1.1l2.2,1.1l3,1.6l3.5,1.8l3.5,1.8l2.3,1.2l43.9,102.5l25.9,16.2l47.5,22.9l36.7,10.3l38,5.0l46.2,2.6" stroke="#F79646"/>
<path d="M52.4,26.5l1.3,25.8l1.3,47.8l1.7,23.7l2.2,9.9l2.2,6.4l1.8,4.8l2.5,6.0l4.3,5.6l4.3,4.9l4.3,4.9l6.5,8.0l6.5,7.3l6.5,7.1l6.5,7.0l6.5,7.4l6.5,5.4l25.9,.2l47.5,.3l36.7,.1l38,.1l46.2,.0" stroke="#4BACC6"/>
<path d="M52.4,26.8l1.3,20.8l1.3,39.9l1.7,18.3l2.2,7.5l2.2,4.6l3,5.2l3.5,2.9l1.2,1.6l48.5,73.1l25.9,2.4l47.5,3.3l36.7,1.5l38,.7l46.2,.4" stroke="#8064A2"/>
<path d="M52.4,26.3l1.3,23.4l1.3,43.7l1.7,21.3l2.2,8.7l2.2,5.2l2.1,4.1l54.1,73.2l25.9,.9l47.5,1.2l36.7,.6l38,.3l46.2,.1" stroke="#9BBB59"/>
<path d="M52.4,26.8l1.3,12.9l1.3,25.1l1.7,13.0l2.2,4.4l2.2,.7l3,2.3l3.5,1.6l3.5,.1l3.2,.1l43,97.1l25.9,7.0l47.5,9.9l36.7,4.4l38,2.2l46.2,1.1" stroke="#C0504D"/>
<path d="M52.4,26.8l1.3,7.4l1.3,16.0l1.7,5.2l2.2,2.0l2.2,.7l3,1.0l3.5,.1l3.5,.1l4.3,.2l41.9,116.9l25.9,9.1l47.5,12.9l36.7,5.8l38,2.8l46.2,1.5" stroke="#F79646"/>
<path d="M52.4,26.4l1.3,11.0l1.3,18.9l1.7,8.4l2.2,3.0l2.2,1.1l3,2.1l3.5,.5l3.5,.5l2.5,.3l43.7,97.0l25.9,11.2l47.5,15.8l36.7,7.1l38,3.5l46.2,1.8" stroke="#4BACC6"/>
<path d="M52.4,26.8l1.3,24.4l1.3,45.2l1.7,22.3l2.2,8.9l2.2,6.5l3,6.0l.9,1.5l52.2,68.3l25.9,-.2l47.5,-.3l36.7,-.1l38,-.1l46.2,-.0" stroke="#8064A2"/>
<path d="M52.4,26.8l1.3,23.6l1.3,44.7l1.7,21.7l2.2,8.8l2.2,6.2l3,5.9l.9,1.8l52.2,61.6l25.9,2.3l47.5,3.2l36.7,1.4l38,.7l46.2,.4" stroke="#C0504D"/>
<path d="M52.4,26.3l1.3,22.2l1.3,40.3l1.7,19.4l2.2,7.8l2.2,5.0l3,5.2l1,1.4l52.1,76.4l25.9,1.4l47.5,2.0l36.7,.9l38,.4l46.2,.2" stroke="#F79646"/>
<path d="M52.4,26.9l1.3,2.4l1.3,5.0l1.7,1.4l2.2,1.4l2.2,1.4l3,2.0l3.5,2.3l3.5,2.3l4.2,2.8l42,115.8l25.9,12.7l47.5,17.9l36.7,8.0l38,3.9l46.2,2.0" stroke="#4F81BD"/>
<path d="M52.4,26.6l1.3,13.3l1.3,26.1l1.7,12.4l2.2,5.8l2.2,2.6l3,1.3l3.5,1.7l3.5,.5l1.3,.2l44.9,94.7l25.9,6.7l47.5,9.4l36.7,4.2l38,2.1l46.2,1.1" stroke="#8064A2"/>
<path d="M52.4,26.6l1.3,15.8l1.3,31.2l1.7,13.9l2.2,5.6l2.2,3.5l3,3.3l3.5,.3l3.5,1.8l.9,.7l45.2,84.2l25.9,6.2l47.5,8.7l36.7,3.9l38,1.9l46.2,1.0" stroke="#8064A2"/>
<path d="M52.4,26.3l1.3,17.8l1.3,32.4l1.7,14.7l2.2,4.9l2.2,4.7l3,2.2l3.5,1.5l3.5,3.0l1.2,.0l45,76.6l25.9,7.0l47.5,9.9l36.7,4.4l38,2.2l46.2,1.1" stroke="#F79646"/>
<path d="M52.4,26.5l1.3,8.5l1.3,14.1l1.7,6.1l2.2,2.3l2.2,.5l3,.7l3.5,.8l3.5,.8l3.3,.7l42.9,117.4l25.9,8.7l47.5,12.2l36.7,5.5l38,2.7l46.2,1.4" stroke="#4F81BD"/>
<path d="M52.4,26.6l1.3,25.6l1.3,49.3l1.7,24.2l2.2,10.2l2.6,7.9l3.9,8.8l4.3,5.8l4.3,4.8l4.3,4.9l6.5,8.2l6.5,7.1l6.5,6.9l6.5,6.8l6.5,7.3l6.5,5.2l25.9,-.1l47.5,-.2l36.7,-.1l38,-.0l46.2,-.0" stroke="#4F81BD"/>
<path d="M52.4,26.3l1.3,3.1l1.3,5.3l1.7,2.4l2.2,.5l2.2,.5l3,.7l3.5,.8l3.5,.8l2.2,.5l44,106.4l25.9,17.4l47.5,24.5l36.7,11.0l38,5.4l46.2,2.8" stroke="#9BBB59"/>
<path d="M52.4,26.4l1.3,17.9l1.3,31.6l1.7,17.0l2.2,5.3l2.2,3.1l3,3.8l4.1,1.6l49,77.0l25.9,7.1l47.5,10.0l36.7,4.5l38,2.2l46.2,1.1" stroke="#F79646"/>
<path d="M52.4,26.0l1.3,3.3l1.3,4.5l1.7,2.2l2.2,2.1l2.2,2.1l3,2.9l3.5,3.3l3.5,3.3l3.6,3.4l42.6,105.1l25.9,14.3l47.5,20.2l36.7,9.0l38,4.4l46.2,2.3" stroke="#9BBB59"/>
<path d="M52.4,26.5l1.3,17.7l1.3,33.6l1.7,14.8l2.2,6.7l2.2,3.3l3,4.2l3.5,1.0l4,2.5l45.7,76.2l25.9,6.4l47.5,9.0l36.7,4.0l38,2.0l46.2,1.0" stroke="#9BBB59"/>
<path d="M52.4,26.0l1.3,14.8l1.3,26.2l1.7,11.4l2.2,4.6l2.2,2.0l3,2.0l3.5,.5l3.5,1.1l2.7,.2l43.5,86.2l25.9,9.5l47.5,13.4l36.7,6.0l38,3.0l46.2,1.5" stroke="#4BACC6"/>
<path d="M52.4,27.0l1.3,23.9l1.3,45.0l1.7,22.4l2.2,8.9l2.2,6.1l2.8,5.8l53.4,66.2l25.9,1.1l47.5,1.5l36.7,.7l38,.3l46.2,.2" stroke="#C0504D"/>
<path d="M52.4,26.5l1.3,16.9l1.3,31.1l1.7,13.7l2.2,7.0l2.2,2.9l3,2.6l3.5,2.3l1.4,.4l48.2,86.1l25.9,5.5l47.5,7.8l36.7,3.5l38,1.7l46.2,.9" stroke="#F79646"/>
<path d="M52.4,26.0l1.3,9.6l1.3,16.9l1.7,5.7l2.2,2.4l2.2,1.1l3,.8l3.5,.4l3.5,.4l3.2,.4l43,113.5l25.9,9.0l47.5,12.7l36.7,5.7l38,2.8l46.2,1.4" stroke="#4F81BD"/>
<path d="M52.4,26.9l1.3,20.7l1.3,38.6l1.7,19.9l2.2,7.6l2.2,4.5l3,4.2l2,1.8l51.1,73.8l25.9,3.1l47.5,4.4l36.7,2.0l38,1.0l46.2,.5" stroke="#8064A2"/>
<path d="M52.4,26.5l1.3,2.8l1.3,4.6l1.7,2.0l2.2,1.6l2.2,1.6l3,2.3l3.5,2.6l3.5,2.6l5.9,4.4l40.3,107.7l25.9,14.2l47.5,20.0l36.7,9.0l38,4.4l46.2,2.3" stroke="#C0504D"/>
<path d="M52.4,26.7l1.3,20.4l1.3,39.2l1.7,19.7l2.2,6.8l2.2,4.9l3,4.5l3.7,4.1l49.4,70.4l25.9,3.5l47.5,4.9l36.7,2.2l38,1.1l46.2,.6" stroke="#8064A2"/>
<path d="M52.4,26.7l1.3,1.4l1.3,3.3l1.7,1.7l2.2,.5l2.2,.5l3,.7l3.5,.8l3.5,.8l5.4,1.3l40.7,110.6l25.9,17.0l47.5,24.0l36.7,10.7l38,5.3l46.2,2.7" stroke="#F79646"/>
<path d="M52.4,27.0l1.3,18.7l1.3,32.4l1.7,16.6l2.2,7.4l2.2,2.9l3,4.7l3.5,.7l1.8,.8l47.8,79.8l25.9,5.1l47.5,7.1l36.7,3.2l38,1.6l46.2,.8" stroke="#4BACC6"/>
<path d="M52.4,26.2l1.3,19.4l1.3,33.8l1.7,16.4l2.2,5.6l2.2,4.5l3,3.1l3.5,3.9l2.8,.9l46.9,74.2l25.9,5.9l47.5,8.3l36.7,3.7l38,1.8l46.2,1.0" stroke="#F79646"/>
<path d="M52.4,27.0l1.3,21.8l1.3,41.4l1.7,20.2l2.2,8.7l2.2,4.9l3,5.6l3.4,3.7l49.6,63.0l25.9,3.6l47.5,5.1l36.7,2.3l38,1.1l46.2,.6" stroke="#9BBB59"/>
<path d="M52.4,27.0l1.3,7.7l1.3,15.2l1.7,6.2l2.2,2.0l2.2,.4l3,.6l3.5,.7l3.5,.7l1.5,.3l44.6,111.6l25.9,10.3l47.5,14.5l36.7,6.5l38,3.2l46.2,1.7" stroke="#8064A2"/>
<path d="M52.4,26.8l1.3,10.8l1.3,21.5l1.7,8.5l2.2,4.5l2.2,.8l3,.8l3.5,1.3l3.5,.4l4.2,.5l41.9,97.2l25.9,10.2l47.5,14.3l36.7,6.4l38,3.2l46.2,1.6" stroke="#9BBB59"/>
<path d="M52.4,26.1l1.3,3.4l1.3,5.3l1.7,2.3l2.2,1.5l2.2,1.5l3,2.1l3.5,2.4l3.5,2.4l5.1,3.5l41.1,111.6l25.9,13.2l47.5,18.6l36.7,8.4l38,4.1l46.2,2.1" stroke="#9BBB59"/>
<path d="M52.4,26.7l1.3,20.3l1.3,36.5l1.7,18.2l2.2,6.7l2.2,4.9l3,4.0l3.1,2.4l50,70.7l25.9,5.3l47.5,7.4l36.7,3.3l38,1.6l46.2,.8" stroke="#9BBB59"/>
<path d="M52.4,26.5l1.3,11.9l1.3,20.5l1.7,7.7l2.2,4.3l2.2,1.6l3,1.2l3.5,.6l3.5,.6l4,.7l42.2,110.7l25.9,6.4l47.5,9.0l36.7,4.0l38,2.0l46.2,1.0" stroke="#C0504D"/>
<path d="M52.4,26.4l1.3,17.9l1.3,31.5l1.7,14.4l2.2,4.9l2.2,4.1l3,3.4l3.5,.7l3.3,1.5l46.4,89.8l25.9,4.1l47.5,5.8l36.7,2.6l38,1.3l46.2,.7" stroke="#C0504D"/>
<path d="M52.4,25.9l1.3,11.9l1.3,21.7l1.7,8.3l2.2,2.8l2.2,3.3l3,.7l3.5,.7l3.5,.2l1,.1l45.1,93.2l25.9,11.3l47.5,15.9l36.7,7.1l38,3.5l46.2,1.8" stroke="#9BBB59"/>
<path d="M52.4,26.8l1.3,18.9l1.3,35.7l1.7,16.9l2.2,5.9l2.2,4.3l3,3.6l3.5,1.8l1.3,.7l48.3,85.9l25.9,2.4l47.5,3.4l36.7,1.5l38,.7l46.2,.4" stroke="#C0504D"/>
<path d="M52.4,26.8l1.3,8.9l1.3,18.5l1.7,7.9l2.2,2.0l2.2,.9l3,1.7l3.5,.3l3.5,.3l3.8,.3l42.4,109.0l25.9,9.1l47.5,12.9l36.7,5.8l38,2.8l46.2,1.5" stroke="#F79646"/>
<path d="M52.4,26.3l1.3,3.4l1.3,6.2l1.7,2.7l2.2,1.3l2.2,1.2l3,1.7l3.5,2.0l3.5,2.0l1.7,.9l44.5,97.5l25.9,17.9l47.5,25.3l36.7,11.3l38,5.6l46.2,2.9" stroke="#C0504D"/>
<path d="M52.4,26.2l1.3,19.5l1.3,35.0l1.7,16.8l2.2,6.9l2.2,4.2l3,3.9l3.5,1.9l1,.2l48.6,85.3l25.9,2.6l47.5,3.7l36.7,1.6l38,.8l46.2,.4" stroke="#F79646"/>
<path d="M52.4,25.9l1.3,18.0l1.3,31.2l1.7,15.8l2.2,5.2l2.2,3.4l3,3.8l3.5,1.4l3.5,.5l1.5,.3l44.7,91.1l25.9,3.6l47.5,5.0l36.7,2.3l38,1.1l46.2,.6" stroke="#4BACC6"/>
<path d="M52.4,26.9l1.3,11.6l1.3,19.0l1.7,10.7l2.2,2.2l2.2,2.3l3,1.4l3.5,.4l3.5,.4l4.2,.4l42,97.3l25.9,10.3l47.5,14.5l36.7,6.5l38,3.2l46.2,1.7" stroke="#4F81BD"/>
<path d="M52.4,26.2l1.3,24.6l1.3,44.3l1.7,22.1l2.2,9.0l2.3,6.2l56,75.9l25.9,.3l47.5,.4l36.7,.2l38,.1l46.2,.0" stroke="#9BBB59"/>
<path d="M52.4,26.7l1.3,19.9l1.3,36.2l1.7,16.9l2.2,7.2l2.2,2.8l3,4.8l3.5,2.2l2.6,1.4l47,81.5l25.9,2.7l47.5,3.7l36.7,1.7l38,.8l46.2,.4" stroke="#4BACC6"/>
<path d="M52.4,26.9l1.3,4.0l1.3,7.7l1.7,3.7l2.2,.7l2.2,.8l3,.9l3.5,1.1l3.5,1.1l3.1,1.0l43.1,115.8l25.9,12.7l47.5,17.9l36.7,8.0l38,4.0l46.2,2.0" stroke="#9BBB59"/>
<path d="M52.4,26.1l1.3,2.1l1.3,3.7l1.7,1.2l2.2,1.1l2.2,1.1l3,1.6l3.5,1.8l3.5,1.8l2.9,1.5l43.3,112.6l25.9,15.3l47.5,21.6l36.7,9.7l38,4.8l46.2,2.5" stroke="#C0504D"/>
<path d="M52.4,26.1l1.3,20.8l1.3,37.7l1.7,18.5l2.2,8.0l2.2,4.7l3,3.8l3.8,3.8l49.3,81.0l25.9,1.3l47.5,1.9l36.7,.9l38,.4l46.2,.2" stroke="#F79646"/>
<path d="M52.4,26.1l1.3,23.1l1.3,43.1l1.7,20.1l2.2,8.4l2.2,5.3l2,4.5l54.1,67.3l25.9,3.2l47.5,4.5l36.7,2.0l38,1.0l46.2,.5" stroke="#4F81BD"/>
<path d="M52.4,25.9l1.3,24.0l1.3,42.1l1.7,20.5l2.2,8.4l2.2,4.8l3.1,6.2l53,63.5l25.9,3.8l47.5,5.4l36.7,2.4l38,1.2l46.2,.6" stroke="#C0504D"/>
<path d="M52.4,26.9l1.3,16.0l1.3,27.8l1.7,13.6l2.2,6.9l2.2,1.6l3,2.4l3.5,2.0l2.7,1.6l47,96.3l25.9,4.0l47.5,5.6l36.7,2.5l38,1.2l46.2,.6" stroke="#F79646"/>
<path d="M52.4,26.2l1.3,17.0l1.3,31.3l1.7,16.0l2.2,5.1l2.2,2.4l3,3.9l3.5,2.1l1.9,.1l47.7,93.0l25.9,3.4l47.5,4.8l36.7,2.1l38,1.1l46.2,.5" stroke="#9BBB59"/>
<path d="M52.4,26.6l1.3,8.8l1.3,14.0l1.7,8.1l2.2,2.0l2.2,.8l3,.6l3.5,.6l3.5,.6l5.1,.9l41.1,109.2l25.9,10.3l47.5,14.6l36.7,6.5l38,3.2l46.2,1.7" stroke="#4F81BD"/>
<path d="M52.4,25.9l1.3,11.4l1.3,18.6l1.7,8.9l2.2,2.8l2.2,1.6l3,.9l3.5,.5l3.5,.8l1.5,.1l44.6,96.7l25.9,11.4l47.5,16.1l36.7,7.2l38,3.6l46.2,1.8" stroke="#4BACC6"/>
<path d="M52.4,26.0l1.3,12.9l1.3,21.9l1.7,10.0l2.2,3.7l2.2,2.9l3,.8l3.5,.4l3.8,.4l45.9,97.3l25.9,9.2l47.5,13.0l36.7,5.8l38,2.9l46.2,1.5" stroke="#4F81BD"/>
<path d="M52.4,26.0l1.3,20.1l1.3,33.4l1.7,16.7l2.2,6.5l2.2,4.4l3,3.8l3.3,.9l49.8,79.7l25.9,5.0l47.5,7.0l36.7,3.1l38,1.5l46.2,.8" stroke="#8064A2"/>
<path d="M52.4,26.3l1.3,20.7l1.3,38.3l1.7,18.3l2.2,7.5l2.2,4.5l3,4.6l2.7,2.5l50.4,77.7l25.9,2.5l47.5,3.5l36.7,1.6l38,.8l46.2,.4" stroke="#C0504D"/>
<path d="M52.4,26.2l1.3,.4l1.3,.7l1.7,1.0l2.2,1.2l2.2,1.2l3,1.7l3.5,2.0l3.5,2.0l2.8,1.6l43.4,107.1l25.9,17.9l47.5,25.3l36.7,11.3l38,5.6l46.2,2.9" stroke="#8064A2"/>
<path d="M52.4,26.3l1.3,13.7l1.3,25.8l1.7,12.2l2.2,4.7l2.2,2.7l3,2.1l3.5,.3l3.5,.9l1.2,.1l44.9,87.9l25.9,9.1l47.5,12.9l36.7,5.8l38,2.8l46.2,1.5" stroke="#4BACC6"/>
<path d="M52.4,26.2l1.3,15.7l1.3,25.4l1.7,13.7l2.2,4.1l2.2,2.2l3,3.4l3.5,.4l3.5,.9l2,.2l44.2,87.6l25.9,8.2l47.5,11.6l36.7,5.2l38,2.5l46.2,1.3" stroke="#C0504D"/>
<path d="M52.4,26.6l1.3,5.3l1.3,8.7l1.7,5.0l2.2,.9l2.2,.6l3,.9l3.5,1.0l3.5,1.0l2,.6l44.2,102.0l25.9,15.8l47.5,22.3l36.7,10.0l38,4.9l46.2,2.5" stroke="#F79646"/>
<path d="M52.4,26.9l1.3,19.2l1.3,35.2l1.7,16.4l2.2,5.8l2.2,4.8l3,3.0l3.2,2.7l49.9,73.7l25.9,6.0l47.5,8.5l36.7,3.8l38,1.9l46.2,1.0" stroke="#4BACC6"/>
<path d="M52.4,26.1l1.3,16.8l1.3,32.8l1.7,14.7l2.2,5.2l2.2,3.4l3,2.5l3.5,2.6l3.5,.7l46.1,79.4l25.9,7.0l47.5,9.8l36.7,4.4l38,2.2l46.2,1.1" stroke="#8064A2"/>
<path d="M52.4,26.4l1.3,23.8l1.3,43.7l1.7,20.7l2.2,9.3l2.2,5.4l3,5.9l1,1.4l52.1,62.0l25.9,2.9l47.5,4.1l36.7,1.8l38,.9l46.2,.5" stroke="#4BACC6"/>
<path d="M52.4,26.8l1.3,14.4l1.3,28.7l1.7,14.5l2.2,4.5l2.2,2.9l3,2.9l3.5,1.7l1.9,.3l47.7,93.8l25.9,5.3l47.5,7.4l36.7,3.3l38,1.6l46.2,.8" stroke="#8064A2"/>
<path d="M52.4,27.0l1.3,-.0l1.3,1.4l1.7,1.9l2.2,2.4l2.2,2.4l3,3.4l3.5,3.8l3.5,3.8l6,6.7l40.2,104.8l25.9,14.4l47.5,20.3l36.7,9.1l38,4.5l46.2,2.3" stroke="#F79646"/>
<path d="M52.4,26.6l1.3,25.7l1.3,48.3l1.7,23.6l2,9.8l2.3,6.9l4.3,8.0l4.3,5.8l4.3,5.1l4.3,5.1l6.5,8.3l6.5,7.6l6.5,7.4l6.5,7.3l6.5,7.7l6.5,5.7l25.9,.1l47.5,.1l36.7,.0l38,.0l46.2,.0" stroke="#8064A2"/>
<path d="M52.4,26.2l1.3,15.9l1.3,29.6l1.7,14.1l2.2,6.2l2.2,1.8l3,3.0l3.5,2.0l3.5,.4l1.6,.1l44.6,86.3l25.9,6.6l47.5,9.3l36.7,4.2l38,2.0l46.2,1.1" stroke="#C0504D"/>
<path d="M52.4,26.5l1.3,8.7l1.3,15.1l1.7,7.2l2.2,2.3l2.2,.8l3,.6l3.5,.7l3.5,.7l2.5,.5l43.7,101.9l25.9,12.4l47.5,17.5l36.7,7.8l38,3.8l46.2,2.0" stroke="#F79646"/>
<path d="M52.4,26.3l1.3,23.5l1.3,43.6l1.7,21.5l2.2,8.4l2.2,5.7l3,5.8l1.8,2.3l51.3,62.0l25.9,2.8l47.5,4.0l36.7,1.8l38,.9l46.2,.5" stroke="#F79646"/>
<path d="M52.4,26.8l1.3,2.7l1.3,6.5l1.7,3.1l2.2,1.0l2.2,1.0l3,1.3l3.5,1.5l3.5,1.5l5.4,2.4l40.8,119.0l25.9,11.9l47.5,16.7l36.7,7.5l38,3.7l46.2,1.9" stroke="#8064A2"/>
<path d="M52.4,26.1l1.3,15.3l1.3,25.8l1.7,10.8l2.2,5.7l2.2,.5l3,4.0l3.5,.3l3.5,.3l3.5,.3l42.7,92.1l25.9,7.9l47.5,11.1l36.7,5.0l38,2.4l46.2,1.3" stroke="#F79646"/>
<path d="M52.4,26.3l1.3,2.0l1.3,3.9l1.7,1.8l2.2,.4l2.2,.4l3,.6l3.5,.6l3.5,.6l4.3,.8l41.9,107.8l25.9,17.9l47.5,25.3l36.7,11.3l38,5.6l46.2,2.9" stroke="#F79646"/>
<path d="M52.4,26.5l1.3,15.6l1.3,29.6l1.7,14.2l2.2,4.2l2.2,3.1l3,2.8l3.5,.5l3.5,.7l1,.1l45.1,97.6l25.9,4.0l47.5,5.7l36.7,2.5l38,1.2l46.2,.6" stroke="#9BBB59"/>
<path d="M52.4,26.7l1.3,10.2l1.3,17.9l1.7,8.1l2.2,3.8l2.2,.3l3,2.3l3.5,.6l3.5,.6l2.2,.4l44,102.1l25.9,10.1l47.5,14.3l36.7,6.4l38,3.2l46.2,1.6" stroke="#8064A2"/>
<path d="M52.4,26.2l1.3,1.4l1.3,2.4l1.7,1.9l2.2,2.3l2.2,2.3l3,3.2l3.5,3.7l3.5,3.7l4.8,5.2l41.4,105.7l25.9,14.3l47.5,20.2l36.7,9.0l38,4.4l46.2,2.3" stroke="#4F81BD"/>
<path d="M52.4,26.7l1.3,12.0l1.3,22.9l1.7,10.3l2.2,4.0l2.2,1.7l3,1.6l3.5,1.5l3.5,.1l3.3,.1l42.9,101.7l25.9,7.5l47.5,10.5l36.7,4.7l38,2.3l46.2,1.2" stroke="#4BACC6"/>
<path d="M52.4,26.3l1.3,19.3l1.3,35.4l1.7,17.3l2.2,7.3l2.2,3.1l3,3.6l3.5,4.0l3.1,1.1l46.5,78.3l25.9,3.8l47.5,5.3l36.7,2.4l38,1.2l46.2,.6" stroke="#9BBB59"/>
<path d="M52.4,26.6l.9,15.4l.9,22.0l.9,36.7l1.3,22.0l1.3,8.1l1.7,6.5l1.7,5.5l2.2,5.7l2.2,4.4l4.3,6.2l4.3,4.9l4.3,4.9l6.5,8.6l6.5,7.2l6.5,6.9l6.5,6.7l6.5,7.4l6.5,.3l25.9,.8l47.5,1.2l36.7,.5l38,.3l46.2,.1" stroke="#FBC8A0"/>
<path d="M52.4,26.1l1.3,7.7l1.3,12.6l1.7,6.0l2.2,1.1l2.2,.6l3,.2l3.5,.2l3.5,.2l4.8,.3l41.4,104.9l25.9,13.8l47.5,19.4l36.7,8.7l38,4.3l46.2,2.2" stroke="#F79646"/>
<path d="M52.4,26.1l1.3,17.2l1.3,29.2l1.7,15.2l2.2,3.6l2.2,3.6l3,2.3l3.5,2.0l3.5,.5l2.3,.3l43.9,92.1l25.9,4.8l47.5,6.8l36.7,3.0l38,1.5l46.2,.8" stroke="#C0504D"/>
<path d="M52.4,26.6l1.3,24.8l1.3,45.0l1.7,22.1l2.2,9.4l2.6,7.2l55.6,64.8l25.9,2.6l47.5,3.7l36.7,1.6l38,.8l46.2,.4" stroke="#4F81BD"/>
<path d="M52.4,26.0l1.3,26.3l1.3,49.1l1.7,24.1l2.2,10.2l2.2,6.6l1.2,3.6l3.1,6.9l4.3,5.7l4.3,4.8l4.3,4.8l6.5,8.1l6.5,7.1l6.5,6.9l6.5,6.7l6.5,7.2l6.5,4.0l25.9,.3l47.5,.5l36.7,.2l38,.1l46.2,.1" stroke="#4BACC6"/>
<path d="M52.4,26.1l1.3,4.2l1.3,7.5l1.7,2.5l2.2,.8l2.2,.7l3,.5l3.5,.5l3.5,.5l1.8,.3l44.4,120.3l25.9,12.6l47.5,17.8l36.7,8.0l38,3.9l46.2,2.0" stroke="#8064A2"/>
<path d="M52.4,26.3l1.3,21.1l1.3,38.1l1.7,17.4l2.2,7.1l2.2,4.9l3,5.3l3.5,2.8l2.4,.7l47.3,67.5l25.9,5.0l47.5,7.1l36.7,3.2l38,1.6l46.2,.8" stroke="#4F81BD"/>
<path d="M52.4,26.4l1.3,3.7l1.3,6.4l1.7,3.4l2.2,.9l2.2,.5l3,.7l3.5,.8l3.5,.8l3.3,.8l42.9,110.5l25.9,15.3l47.5,21.5l36.7,9.6l38,4.7l46.2,2.5" stroke="#8064A2"/>
<path d="M52.4,27.0l1.3,7.2l1.3,15.6l1.7,6.2l2.2,2.4l2.2,.3l3,.5l3.5,.5l3.5,.5l3.9,.6l42.3,108.3l25.9,11.2l47.5,15.9l36.7,7.1l38,3.5l46.2,1.8" stroke="#C0504D"/>
<path d="M52.4,26.6l1.3,.7l1.3,1.7l1.7,1.0l2.2,1.3l2.2,1.3l3,1.8l3.5,2.1l3.5,2.1l4,2.4l42.2,104.3l25.9,17.9l47.5,25.3l36.7,11.3l38,5.6l46.2,2.9" stroke="#F79646"/>
<path d="M52.4,26.7l1.3,8.7l1.3,13.4l1.7,7.9l2.2,1.3l2.2,.9l3,1.1l3.5,.8l3.5,.8l2.5,.6l43.7,115.4l25.9,8.8l47.5,12.4l36.7,5.6l38,2.7l46.2,1.4" stroke="#F79646"/>
<path d="M52.4,26.2l1.3,7.2l1.3,11.2l1.7,4.9l2.2,1.5l2.2,1.1l3,1.5l3.5,1.7l3.5,1.7l5.4,2.7l40.8,97.5l25.9,14.5l47.5,20.5l36.7,9.2l38,4.5l46.2,2.3" stroke="#9BBB59"/>
<path d="M52.4,25.9l1.3,21.2l1.3,39.8l1.7,18.0l2.2,7.9l2.2,4.5l3,5.5l3.8,2.8l49.3,79.7l25.9,1.1l47.5,1.5l36.7,.7l38,.3l46.2,.2" stroke="#F79646"/>
<path d="M52.4,26.3l1.3,5.7l1.3,9.4l1.7,5.1l2.2,.3l2.2,1.2l3,.5l3.5,.5l3.5,.5l4.6,.7l41.6,104.0l25.9,15.4l47.5,21.7l36.7,9.7l38,4.8l46.2,2.5" stroke="#C0504D"/>
<path d="M52.4,26.7l1.3,9.4l1.3,20.0l1.7,7.2l2.2,2.9l2.2,2.4l3,.6l3.5,.5l3.5,.5l4.9,.8l41.3,98.3l25.9,11.1l47.5,15.7l36.7,7.0l38,3.5l46.2,1.8" stroke="#C0504D"/>
<path d="M52.4,26.2l1.3,2.5l1.3,3.8l1.7,1.1l2.2,1.3l2.2,1.3l3,1.8l3.5,2.0l3.5,2.0l2.9,1.7l43.3,118.8l25.9,13.1l47.5,18.5l36.7,8.3l38,4.1l46.2,2.1" stroke="#C0504D"/>
<path d="M52.4,27.0l1.3,1.8l1.3,3.9l1.7,2.1l2.2,1.2l2.2,1.2l3,1.7l3.5,2.0l3.5,2.0l5.2,3.0l40.9,107.9l25.9,15.6l47.5,21.9l36.7,9.8l38,4.8l46.2,2.5" stroke="#4BACC6"/>
<path d="M52.4,27.1l1.3,15.8l1.3,32.1l1.7,14.3l2.2,6.0l2.2,4.2l3,2.5l3.5,1.0l2,1.1l47.6,82.3l25.9,6.4l47.5,9.0l36.7,4.0l38,2.0l46.2,1.0" stroke="#4F81BD"/>
<path d="M52.4,26.7l1.3,14.5l1.3,26.8l1.7,11.5l2.2,5.3l2.2,2.6l3,3.1l3.5,.7l3.5,.7l3.5,.7l42.7,97.9l25.9,5.2l47.5,7.4l36.7,3.3l38,1.6l46.2,.8" stroke="#4F81BD"/>
<path d="M52.4,26.8l1.3,6.2l1.3,13.0l1.7,5.6l2.2,1.8l2.2,1.6l3,.2l3.5,.2l3.5,.2l2.6,.2l43.5,115.0l25.9,10.8l47.5,15.2l36.7,6.8l38,3.3l46.2,1.7" stroke="#4BACC6"/>
<path d="M52.4,26.4l1.3,1.9l1.3,4.3l1.7,1.6l2.2,2.0l2.2,2.0l3,2.7l3.5,3.1l3.5,3.1l3.5,3.1l42.7,107.7l25.9,14.4l47.5,20.3l36.7,9.1l38,4.5l46.2,2.3" stroke="#8064A2"/>
<path d="M52.4,26.5l1.3,10.7l1.3,18.2l1.7,9.1l2.2,2.4l2.2,1.4l3,.8l3.5,.8l3.5,.4l5.1,.7l41.1,95.1l25.9,12.0l47.5,17.0l36.7,7.6l38,3.7l46.2,1.9" stroke="#9BBB59"/>
<path d="M52.4,26.5l1.3,8.7l1.3,18.5l1.7,7.8l2.2,1.7l2.2,1.2l3,1.7l3.5,.6l3.5,.6l4.8,.9l41.4,98.5l25.9,11.8l47.5,16.7l36.7,7.5l38,3.7l46.2,1.9" stroke="#8064A2"/>
<path d="M52.4,26.4l1.3,22.1l1.3,38.9l1.7,20.2l2.2,7.3l2.2,4.7l3.7,6.3l52.4,80.3l25.9,.8l47.5,1.2l36.7,.5l38,.3l46.2,.1" stroke="#C0504D"/>
<path d="M52.4,26.2l1.3,17.2l1.3,29.1l1.7,14.9l2.2,6.0l2.2,1.7l3,4.5l3.5,.9l3.5,1.4l2,.3l44.2,93.6l25.9,3.8l47.5,5.3l36.7,2.4l38,1.2l46.2,.6" stroke="#9BBB59"/>
<path d="M52.4,26.0l1.3,11.0l1.3,20.5l1.7,9.2l2.2,2.2l2.2,2.1l3,.5l3.5,.8l3.5,.6l2.5,.4l43.7,102.7l25.9,9.3l47.5,13.1l36.7,5.9l38,2.9l46.2,1.5" stroke="#F79646"/>
<path d="M52.4,26.6l1.3,23.7l1.3,44.3l1.7,22.2l2.2,9.1l2.2,5.7l.9,2.2l55.2,67.3l25.9,2.3l47.5,3.2l36.7,1.4l38,.7l46.2,.4" stroke="#9BBB59"/>
<path d="M52.4,26.5l1.3,19.6l1.3,36.5l1.7,18.9l2.2,6.5l2.2,4.4l3,3.6l3.5,2.6l1.6,1.6l48,75.5l25.9,3.8l47.5,5.3l36.7,2.4l38,1.2l46.2,.6" stroke="#4F81BD"/>
<path d="M52.4,26.6l1.3,20.4l1.3,37.5l1.7,17.1l2.2,7.6l2.2,4.5l3,5.2l3.5,1.9l.9,1.5l48.7,81.2l25.9,1.6l47.5,2.2l36.7,1.0l38,.5l46.2,.3" stroke="#F79646"/>
<path d="M52.4,27.0l1.3,5.6l1.3,12.6l1.7,5.6l2.2,1.6l2.2,1.0l3,1.3l3.5,1.5l3.5,1.5l3,1.3l43.2,115.5l25.9,9.7l47.5,13.6l36.7,6.1l38,3.0l46.2,1.6" stroke="#F79646"/>
<path d="M52.4,26.2l1.3,14.8l1.3,27.2l1.7,14.2l2.2,5.2l2.2,2.1l3,1.8l3.5,1.2l3.5,.6l3.3,.6l42.9,93.2l25.9,6.2l47.5,8.8l36.7,3.9l38,1.9l46.2,1.0" stroke="#F79646"/>
<path d="M52.4,26.9l1.3,5.3l1.3,12.3l1.7,4.4l2.2,.9l2.2,1.5l3,.5l3.5,.6l3.5,.6l2.5,.4l43.7,104.1l25.9,14.5l47.5,20.4l36.7,9.1l38,4.5l46.2,2.3" stroke="#4F81BD"/>
<path d="M52.4,26.6l1.3,4.6l1.3,10.2l1.7,3.5l2.2,1.2l2.2,.9l3,.2l3.5,.2l3.5,.2l2.9,.2l43.3,120.7l25.9,11.4l47.5,16.0l36.7,7.2l38,3.5l46.2,1.8" stroke="#8064A2"/>
<path d="M52.4,26.3l1.3,2.6l1.3,4.1l1.7,1.4l2.2,1.7l2.2,1.7l3,2.4l3.5,2.7l3.5,2.7l1.9,1.5l44.3,117.6l25.9,12.5l47.5,17.6l36.7,7.9l38,3.9l46.2,2.0" stroke="#4BACC6"/>
<path d="M52.4,25.9l1.3,21.7l1.3,39.7l1.7,19.9l2.2,7.5l2.2,5.5l3,4.5l2.4,2.2l50.7,77.7l25.9,1.3l47.5,1.8l36.7,.8l38,.4l46.2,.2" stroke="#8064A2"/>
<path d="M52.4,26.2l1.3,1.6l1.3,2.9l1.7,1.2l2.2,1.4l2.2,1.4l3,2.0l3.5,2.2l3.5,2.2l1.4,.9l44.8,111.3l25.9,15.6l47.5,22.0l36.7,9.9l38,4.9l46.2,2.5" stroke="#4F81BD"/>
<path d="M52.4,26.9l1.3,17.6l1.3,31.5l1.7,15.2l2.2,5.5l2.2,3.8l3,2.4l3.5,1.7l2.1,.6l47.6,90.8l25.9,3.7l47.5,5.3l36.7,2.4l38,1.2l46.2,.6" stroke="#8064A2"/>
<path d="M52.4,26.5l1.3,6.4l1.3,10.3l1.7,4.1l2.2,1.6l2.2,.7l3,.9l3.5,1.1l3.5,1.1l2.8,.9l43.4,106.8l25.9,13.7l47.5,19.3l36.7,8.6l38,4.2l46.2,2.2" stroke="#4BACC6"/>
<path d="M52.4,26.7l1.3,25.0l1.3,45.7l1.7,22.7l2.2,9.7l2.2,5.9l2.2,5.4l53.9,67.6l25.9,.2l47.5,.2l36.7,.1l38,.1l46.2,.0" stroke="#F79646"/>
<path d="M52.4,26.1l1.3,10.5l1.3,16.5l1.7,6.9l2.2,2.4l2.2,2.3l3,1.0l3.5,.7l3.5,.7l2,.4l44.2,111.1l25.9,8.6l47.5,12.1l36.7,5.4l38,2.7l46.2,1.4" stroke="#4F81BD"/>
<path d="M52.4,26.3l1.3,15.4l1.3,29.8l1.7,14.3l2.2,5.4l2.2,1.8l3,2.9l3.5,1.9l2,1.2l47.6,89.6l25.9,5.8l47.5,8.2l36.7,3.7l38,1.8l46.2,.9" stroke="#4F81BD"/>
<path d="M52.4,26.6l1.3,2.6l1.3,4.6l1.7,2.5l2.2,1.6l2.2,1.6l3,2.3l3.5,2.6l3.5,2.6l1.3,1.0l44.9,112.9l25.9,13.5l47.5,19.1l36.7,8.5l38,4.2l46.2,2.2" stroke="#8064A2"/>
<path d="M52.4,26.1l1.3,11.1l1.3,18.7l1.7,10.1l2.2,2.6l2.2,1.5l3,1.5l3.5,.2l3.5,.2l4.1,.3l42,95.7l25.9,11.5l47.5,16.2l36.7,7.3l38,3.6l46.2,1.9" stroke="#8064A2"/>
<path d="M52.4,26.2l1.3,16.0l1.3,27.5l1.7,12.0l2.2,5.8l2.2,2.1l3,2.6l3.5,1.1l2.7,1.5l47,95.8l25.9,5.2l47.5,7.4l36.7,3.3l38,1.6l46.2,.8" stroke="#4F81BD"/>
<path d="M52.4,26.9l1.3,18.8l1.3,33.1l1.7,18.1l2.2,5.6l2.2,3.1l3,4.5l3.5,2.8l3.6,.8l46.1,81.2l25.9,4.0l47.5,5.6l36.7,2.5l38,1.2l46.2,.6" stroke="#4F81BD"/>
<path d="M52.4,26.5l1.3,19.0l1.3,34.4l1.7,15.5l2.2,7.0l2.2,3.4l3,3.2l3.5,2.1l2.1,2.5l47.6,74.3l25.9,6.0l47.5,8.4l36.7,3.8l38,1.9l46.2,1.0" stroke="#9BBB59"/>
<path d="M52.4,26.0l1.3,13.1l1.3,22.2l1.7,11.9l2.2,2.7l2.2,2.1l3,2.8l3.5,.1l3.5,.4l3.1,.1l43.1,102.8l25.9,7.0l47.5,9.8l36.7,4.4l38,2.2l46.2,1.1" stroke="#4F81BD"/>
<path d="M52.4,27.0l1.3,17.2l1.3,33.5l1.7,16.7l2.2,6.3l2.2,3.7l3,2.1l3.5,2.6l1.4,.6l48.2,82.8l25.9,4.7l47.5,6.6l36.7,3.0l38,1.5l46.2,.8" stroke="#8064A2"/>
<path d="M52.4,26.8l1.3,-.0l1.3,1.6l1.7,2.1l2.2,2.7l2.2,2.7l3,3.7l3.5,4.3l3.5,4.3l5.6,6.9l40.6,90.3l25.9,17.9l47.5,25.3l36.7,11.3l38,5.6l46.2,2.9" stroke="#C0504D"/>
<path d="M52.4,26.8l1.3,4.8l1.3,9.1l1.7,5.0l2.2,1.0l2.2,1.0l3,1.4l3.5,1.6l3.5,1.6l4.6,2.2l41.6,115.0l25.9,11.1l47.5,15.6l36.7,7.0l38,3.4l46.2,1.8" stroke="#8064A2"/>
<path d="M52.4,26.8l1.3,19.7l1.3,37.7l1.7,19.4l2.2,6.5l2.2,5.0l3,4.6l3.9,2.1l49.2,74.6l25.9,3.6l47.5,5.0l36.7,2.3l38,1.1l46.2,.6" stroke="#F79646"/>
<path d="M52.4,26.0l1.3,20.3l1.3,33.9l1.7,17.0l2.2,7.0l2.2,3.4l3,4.2l3.1,1.7l50,82.8l25.9,3.6l47.5,5.1l36.7,2.3l38,1.1l46.2,.6" stroke="#F79646"/>
<path d="M52.4,26.5l1.3,.3l1.3,1.6l1.7,2.1l2.2,2.6l2.2,2.6l3,3.6l3.5,4.1l3.5,4.1l1.7,2.0l44.5,103.5l25.9,15.7l47.5,22.2l36.7,9.9l38,4.9l46.2,2.5" stroke="#F79646"/>
<path d="M52.4,26.9l1.3,23.9l1.3,45.5l1.7,22.0l2.2,9.2l2.2,5.8l1.4,3.9l54.7,64.4l25.9,2.1l47.5,3.0l36.7,1.3l38,.7l46.2,.3" stroke="#F79646"/>
<path d="M52.4,26.6l1.3,12.5l1.3,20.4l1.7,10.8l2.2,3.7l2.2,1.8l3,.5l3.5,1.4l3.5,.6l1.1,.2l45.1,107.0l25.9,6.7l47.5,9.4l36.7,4.2l38,2.1l46.2,1.1" stroke="#4BACC6"/>
<path d="M52.4,25.9l1.3,25.0l1.3,45.2l1.7,21.6l2.2,9.6l2.2,5.8l1.4,3.1l54.7,66.3l25.9,1.8l47.5,2.6l36.7,1.2l38,.6l46.2,.3" stroke="#C0504D"/>
<path d="M52.4,26.2l1.3,19.1l1.3,33.7l1.7,16.3l2.2,6.0l2.2,3.5l3,2.9l3.5,2.5l3,2.0l46.7,75.3l25.9,6.0l47.5,8.5l36.7,3.8l38,1.9l46.2,1.0" stroke="#F79646"/>
<path d="M52.4,26.8l1.3,15.0l1.3,29.6l1.7,14.2l2.2,5.4l2.2,3.4l3,3.0l3.5,.5l2.1,.7l47.6,90.7l25.9,5.6l47.5,7.8l36.7,3.5l38,1.7l46.2,.9" stroke="#C0504D"/>
<path d="M52.4,26.4l1.3,2.0l1.3,3.0l1.7,1.3l2.2,.6l2.2,.6l3,.8l3.5,.9l3.5,.9l2.6,.7l43.6,110.4l25.9,17.3l47.5,24.4l36.7,10.9l38,5.4l46.2,2.8" stroke="#9BBB59"/>
<path d="M52.4,26.3l1.3,19.4l1.3,33.6l1.7,17.6l2.2,5.7l2.2,4.2l3,4.8l4.1,2.5l49,81.3l25.9,3.8l47.5,5.4l36.7,2.4l38,1.2l46.2,.6" stroke="#C0504D"/>
<path d="M52.4,26.4l1.3,5.2l1.3,9.7l1.7,3.7l2.2,.7l2.2,.9l3,.9l3.5,1.1l3.5,1.1l4.4,1.4l41.8,106.4l25.9,14.5l47.5,20.5l36.7,9.2l38,4.5l46.2,2.3" stroke="#4BACC6"/>
<path d="M52.4,26.2l1.3,11.1l1.3,22.0l1.7,8.6l2.2,4.4l2.2,.4l3,.6l3.5,1.4l3.5,.7l2.7,.5l43.4,97.3l25.9,10.1l47.5,14.2l36.7,6.4l38,3.1l46.2,1.6" stroke="#F79646"/>
<path d="M52.4,26.5l1.3,20.7l1.3,36.1l1.7,18.5l2.2,7.5l2.2,3.4l3,4.8l3.5,1.9l2.8,2.6l46.8,80.6l25.9,1.9l47.5,2.6l36.7,1.2l38,.6l46.2,.3" stroke="#4F81BD"/>
<path d="M52.4,26.7l1.3,15.3l1.3,30.0l1.7,14.5l2.2,6.5l2.2,2.8l3,2.8l3.5,2.0l3.2,.6l46.5,86.8l25.9,5.9l47.5,8.3l36.7,3.7l38,1.8l46.2,1.0" stroke="#4BACC6"/>
<path d="M52.4,26.0l1.3,19.5l1.3,35.0l1.7,18.3l2.2,6.4l2.2,3.5l3,3.9l3.5,3.7l1.3,.1l48.3,72.7l25.9,5.6l47.5,7.9l36.7,3.5l38,1.7l46.2,.9" stroke="#4F81BD"/>
<path d="M52.4,26.9l1.3,8.1l1.3,15.2l1.7,6.0l2.2,2.6l2.2,.6l3,.8l3.5,.9l3.5,.9l1.2,.3l45,102.9l25.9,12.3l47.5,17.4l36.7,7.8l38,3.8l46.2,2.0" stroke="#C0504D"/>
<path d="M52.4,26.4l1.3,3.5l1.3,5.4l1.7,2.3l2.2,1.9l2.2,1.9l3,2.6l3.5,3.0l3.5,3.0l4.2,3.6l42,111.1l25.9,12.5l47.5,17.6l36.7,7.9l38,3.9l46.2,2.0" stroke="#4BACC6"/>
<path d="M52.4,26.5l1.3,16.0l1.3,29.3l1.7,13.9l2.2,4.4l2.2,3.2l3,3.1l3.5,.6l3.5,1.6l2.8,.5l43.4,95.9l25.9,4.0l47.5,5.6l36.7,2.5l38,1.2l46.2,.6" stroke="#C0504D"/>
<path d="M52.4,26.9l1.3,2.0l1.3,4.4l1.7,1.8l2.2,.2l2.2,.2l3,.3l3.5,.4l3.5,.4l2.6,.3l43.6,127.3l25.9,12.6l47.5,17.7l36.7,7.9l38,3.9l46.2,2.0" stroke="#8064A2"/>
<path d="M52.4,26.4l1.3,6.3l1.3,9.3l1.7,5.3l2.2,1.2l2.2,.9l3,1.3l3.5,1.5l3.5,1.5l1.7,.7l44.5,118.1l25.9,10.3l47.5,14.5l36.7,6.5l38,3.2l46.2,1.7" stroke="#4F81BD"/>
<path d="M52.4,26.4l1.3,22.7l1.3,41.4l1.7,20.1l2.2,8.6l2.2,5.4l3,5.2l1.1,1.7l52,74.2l25.9,1.0l47.5,1.3l36.7,.6l38,.3l46.2,.2" stroke="#F79646"/>
<path d="M52.4,26.9l1.3,16.2l1.3,31.5l1.7,13.4l2.2,6.0l2.2,4.3l3,2.7l3.5,1.4l1,.2l48.6,78.9l25.9,7.7l47.5,10.9l36.7,4.9l38,2.4l46.2,1.2" stroke="#C0504D"/>
<path d="M52.4,26.0l1.3,22.6l1.3,39.4l1.7,18.8l2.2,8.4l2.2,5.4l3,4.3l1.7,1.8l51.4,72.1l25.9,2.9l47.5,4.1l36.7,1.8l38,.9l46.2,.5" stroke="#8064A2"/>
<path d="M52.4,26.4l1.3,18.0l1.3,34.5l1.7,15.8l2.2,6.7l2.2,3.8l3,2.6l4.3,3.2l48.8,84.3l25.9,3.9l47.5,5.5l36.7,2.5l38,1.2l46.2,.6" stroke="#C0504D"/>
<path d="M52.4,26.0l1.3,20.7l1.3,35.2l1.7,16.9l2.2,7.2l2.2,2.7l3,5.5l3.5,1.7l3.5,2.2l46.2,77.9l25.9,3.7l47.5,5.2l36.7,2.3l38,1.1l46.2,.6" stroke="#8064A2"/>
<path d="M52.4,25.9l1.3,25.1l1.3,44.5l1.7,21.7l2.2,9.2l2.2,5.4l3,6.4l1.9,2.6l51.2,69.3l25.9,-.2l47.5,-.3l36.7,-.1l38,-.1l46.2,-.0" stroke="#4BACC6"/>
<path d="M52.4,26.6l1.3,21.6l1.3,39.6l1.7,19.8l2.2,7.7l2.2,4.2l3,5.1l3.5,4.0l1.3,1.2l48.4,63.5l25.9,4.5l47.5,6.3l36.7,2.8l38,1.4l46.2,.7" stroke="#4BACC6"/>
<path d="M52.4,26.8l1.3,4.3l1.3,8.2l1.7,2.8l2.2,1.0l2.2,1.0l3,1.4l3.5,1.6l3.5,1.6l5.1,2.3l41.1,98.0l25.9,16.9l47.5,23.8l36.7,10.7l38,5.2l46.2,2.7" stroke="#8064A2"/>
<path d="M52.4,26.0l1.3,18.8l1.3,35.4l1.7,15.2l2.2,7.0l2.2,4.2l3,3.1l3.5,1.8l4,2.4l45.7,82.6l25.9,3.5l47.5,5.0l36.7,2.2l38,1.1l46.2,.6" stroke="#4BACC6"/>
<path d="M52.4,25.9l1.3,11.0l1.3,20.4l1.7,10.6l2.2,2.2l2.2,2.6l3,1.5l3.5,.6l3.5,.6l1.1,.2l45.1,95.6l25.9,10.6l47.5,15.0l36.7,6.7l38,3.3l46.2,1.7" stroke="#F79646"/>
<path d="M52.4,26.4l1.3,13.8l1.3,23.1l1.7,12.6l2.2,3.4l2.2,1.4l3,2.0l3.5,1.8l3.5,.2l1.7,.1l44.5,98.6l25.9,7.2l47.5,10.2l36.7,4.6l38,2.2l46.2,1.2" stroke="#4F81BD"/>
<path d="M52.4,26.0l1.3,14.4l1.3,25.2l1.7,11.8l2.2,4.9l2.2,.8l3,2.2l3.5,1.4l3.4,.1l46.3,96.0l25.9,7.4l47.5,10.4l36.7,4.7l38,2.3l46.2,1.2" stroke="#C0504D"/>
<path d="M52.4,26.7l.9,17.6l.9,22.0l.9,36.7l1.3,21.9l1.3,8.1l1.7,6.5l1.7,5.5l2.2,5.6l2.2,4.4l4.3,6.1l4.3,4.7l4.3,4.8l6.5,8.4l6.5,7.0l6.5,6.7l6.5,6.5l6.5,7.2l6.5,1.2l25.9,.5l47.5,.7l36.7,.3l38,.2l46.2,.1" stroke="#A9C4E4"/>
<path d="M52.4,26.3l1.3,20.2l1.3,36.7l1.7,17.0l2.2,7.3l2.2,3.9l3,4.7l4,2.6l49.1,74.2l25.9,4.5l47.5,6.4l36.7,2.9l38,1.4l46.2,.7" stroke="#8064A2"/>
<path d="M52.4,26.7l1.3,4.4l1.3,9.7l1.7,3.9l2.2,1.0l2.2,.7l3,1.0l3.5,1.1l3.5,1.1l2.7,.9l43.5,104.0l25.9,15.3l47.5,21.6l36.7,9.7l38,4.8l46.2,2.5" stroke="#F79646"/>
<path d="M52.4,27.0l1.3,24.6l1.3,46.3l1.7,23.2l2.2,9.6l2.2,6.1l1.6,3.7l2.7,4.2l4.3,4.9l4.3,4.7l4.3,4.7l6.5,7.3l6.5,7.1l6.5,7.1l6.5,7.0l6.5,7.1l6.5,5.8l25.9,2.4l47.5,3.4l36.7,1.5l38,.8l46.2,.4" stroke="#F79646"/>
<path d="M52.4,26.4l1.3,6.4l1.3,13.5l1.7,4.5l2.2,1.8l2.2,.5l3,.7l3.5,.8l3.5,.8l3.4,.8l42.8,114.6l25.9,10.8l47.5,15.2l36.7,6.8l38,3.4l46.2,1.7" stroke="#4F81BD"/>
<path d="M52.4,26.2l1.3,11.4l1.3,17.8l1.7,8.9l2.2,2.9l2.2,2.7l3,.9l3.5,.7l3.5,.7l3.1,.6l43.1,101.4l25.9,9.8l47.5,13.8l36.7,6.2l38,3.0l46.2,1.6" stroke="#C0504D"/>
<path d="M52.4,26.9l1.3,24.5l1.3,45.2l1.7,21.7l2.2,9.7l2,5.5l56.3,76.5l25.9,-.2l47.5,-.3l36.7,-.1l38,-.1l46.2,-.0" stroke="#C0504D"/>
<path d="M52.4,26.4l1.3,17.6l1.3,30.8l1.7,14.1l2.2,4.3l2.2,3.8l3,2.9l3.5,2.3l4,.7l45.7,89.4l25.9,4.7l47.5,6.7l36.7,3.0l38,1.5l46.2,.8" stroke="#4F81BD"/>
<path d="M52.4,26.7l1.3,21.3l1.3,39.2l1.7,18.7l2.2,6.8l2.2,5.8l3,5.0l4,2.7l49.1,73.8l25.9,2.5l47.5,3.6l36.7,1.6l38,.8l46.2,.4" stroke="#C0504D"/>
<path d="M52.4,26.4l1.3,5.8l1.3,9.1l1.7,4.5l2.2,1.2l2.2,.7l3,.9l3.5,1.1l3.5,1.1l4.8,1.5l41.4,107.0l25.9,14.0l47.5,19.8l36.7,8.9l38,4.4l46.2,2.3" stroke="#8064A2"/>
<path d="M52.4,26.8l1.3,13.7l1.3,24.1l1.7,11.1l2.2,4.8l2.2,2.2l3,.8l3.5,2.0l3.5,.6l2.3,.4l43.8,91.1l25.9,8.8l47.5,12.4l36.7,5.6l38,2.7l46.2,1.4" stroke="#4BACC6"/>
<path d="M52.4,27.0l1.3,11.2l1.3,19.5l1.7,8.1l2.2,3.6l2.2,2.3l3,1.0l3.5,.5l3.8,.5l45.8,109.8l25.9,7.2l47.5,10.1l36.7,4.5l38,2.2l46.2,1.2" stroke="#C0504D"/>
<path d="M52.4,25.9l1.3,4.9l1.3,7.0l1.7,2.7l2.2,1.4l2.2,1.4l3,1.9l3.5,2.2l3.5,2.2l3.4,2.2l42.8,118.1l25.9,11.0l47.5,15.5l36.7,7.0l38,3.4l46.2,1.8" stroke="#4F81BD"/>
<path d="M52.4,26.6l1.3,14.6l1.3,28.3l1.7,12.6l2.2,5.0l2.2,2.5l3,2.9l3.5,1.8l3.5,.3l2.2,.2l44,95.1l25.9,5.4l47.5,7.6l36.7,3.4l38,1.7l46.2,.9" stroke="#4F81BD"/>
<path d="M52.4,26.9l1.3,20.3l1.3,39.8l1.7,18.4l2.2,7.7l2.2,5.0l3,4.8l3.4,2.3l49.7,76.5l25.9,2.1l47.5,2.9l36.7,1.3l38,.6l46.2,.3" stroke="#4F81BD"/>
<path d="M52.4,26.3l1.3,20.4l1.3,35.5l1.7,16.9l2.2,7.2l2.2,4.7l3,4.1l2.4,1.7l50.7,72.3l25.9,5.6l47.5,7.9l36.7,3.5l38,1.7l46.2,.9" stroke="#C0504D"/>
<path d="M52.4,27.0l1.3,1.4l1.3,4.3l1.7,1.6l2.2,1.6l2.2,1.6l3,2.2l3.5,2.5l3.5,2.5l2.6,1.9l43.6,98.5l25.9,17.9l47.5,25.3l36.7,11.3l38,5.6l46.2,2.9" stroke="#C0504D"/>
<path d="M52.4,26.3l1.3,15.8l1.3,27.4l1.7,13.2l2.2,5.2l2.2,3.0l3,2.2l3.5,.6l3.8,.6l45.8,97.4l25.9,4.9l47.5,6.9l36.7,3.1l38,1.5l46.2,.8" stroke="#C0504D"/>
<path d="M52.4,26.6l1.3,24.6l1.3,45.5l1.7,22.8l2.2,9.1l2.2,6.1l.9,2.7l55.2,67.4l25.9,1.2l47.5,1.8l36.7,.8l38,.4l46.2,.2" stroke="#4F81BD"/>
<path d="M52.4,26.5l1.3,4.9l1.3,10.5l1.7,3.6l2.2,2.0l2.2,.5l3,.7l3.5,.8l3.5,.8l4.2,1.0l41.9,105.0l25.9,14.8l47.5,20.9l36.7,9.4l38,4.6l46.2,2.4" stroke="#4F81BD"/>
<path d="M52.4,26.6l1.3,21.0l1.3,36.1l1.7,18.6l2.2,7.0l2.2,4.0l3,5.7l3.5,2.7l1,.2l48.6,71.0l25.9,4.6l47.5,6.4l36.7,2.9l38,1.4l46.2,.7" stroke="#C0504D"/>
<path d="M52.4,26.7l1.3,1.4l1.3,2.6l1.7,1.8l2.2,2.3l2.2,2.3l3,3.2l3.5,3.6l3.5,3.6l2.9,3.0l43.3,112.7l25.9,12.9l47.5,18.2l36.7,8.2l38,4.0l46.2,2.1" stroke="#C0504D"/>
<path d="M52.4,26.6l.9,17.3l.9,22.0l.9,36.7l1.3,21.9l1.3,8.1l1.7,6.5l1.7,5.5l2.2,5.6l2.2,4.4l4.3,6.1l4.3,4.7l4.3,4.8l6.5,8.4l6.5,7.0l6.5,6.7l6.5,6.5l6.5,7.2l6.5,1.0l25.9,.6l47.5,.8l36.7,.4l38,.2l46.2,.1" stroke="#FBC8A0"/>
<path d="M52.4,26.0l1.3,16.0l1.3,27.7l1.7,12.8l2.2,4.2l2.2,1.8l3,2.4l3.5,2.0l3.5,1.1l46.1,94.6l25.9,5.8l47.5,8.1l36.7,3.6l38,1.8l46.2,.9" stroke="#4BACC6"/>
<path d="M52.4,26.1l1.3,8.7l1.3,14.6l1.7,6.5l2.2,.8l2.2,1.7l3,1.1l3.5,1.2l3.5,1.2l1.3,.5l44.9,112.8l25.9,9.5l47.5,13.4l36.7,6.0l38,3.0l46.2,1.5" stroke="#8064A2"/>
<path d="M52.4,26.7l1.3,18.4l1.3,36.1l1.7,16.3l2.2,7.0l2.2,4.1l3,4.0l3.5,1.5l1.3,.3l48.3,74.4l25.9,5.7l47.5,8.0l36.7,3.6l38,1.8l46.2,.9" stroke="#8064A2"/>
<path d="M52.4,26.9l1.3,4.8l1.3,9.5l1.7,5.2l2.2,.8l2.2,.8l3,1.2l3.5,1.3l3.5,1.3l2.2,.8l44,101.1l25.9,15.5l47.5,21.9l36.7,9.8l38,4.8l46.2,2.5" stroke="#C0504D"/>
<path d="M52.4,26.2l1.3,7.9l1.3,14.3l1.7,6.4l2.2,2.4l2.2,.3l3,.8l3.5,.2l3.5,.2l3.1,.2l43.1,113.4l25.9,10.3l47.5,14.6l36.7,6.5l38,3.2l46.2,1.7" stroke="#F79646"/>
<path d="M52.4,26.2l1.3,11.6l1.3,21.6l1.7,10.5l2.2,2.2l2.2,2.7l3,.4l3.5,1.1l3.5,.7l1.5,.2l44.7,99.1l25.9,9.2l47.5,13.0l36.7,5.8l38,2.9l46.2,1.5" stroke="#9BBB59"/>
<path d="M52.4,26.9l1.3,-.0l1.3,.9l1.7,.8l2.2,1.0l2.2,1.0l3,1.3l3.5,1.5l3.5,1.5l5.6,2.5l40.6,111.1l25.9,17.0l47.5,24.0l36.7,10.7l38,5.3l46.2,2.7" stroke="#F79646"/>
<path d="M52.4,26.6l1.3,21.4l1.3,38.0l1.7,17.8l2.2,7.9l2.2,4.0l3,5.6l2.1,1.5l51,76.3l25.9,2.8l47.5,4.0l36.7,1.8l38,.9l46.2,.5" stroke="#4F81BD"/>
</g>
<path d="M121,24.8 L121,82.4 L298.7,108.3" fill="none" stroke="#000" stroke-width="3" stroke-dasharray="12.9 12.0"/>
<text x="136.3" y="40.6" font-size="11">Dashed Line – CCP</text>
<text x="136.3" y="53.3" font-size="11">Solid Lines – Temperature Evolution</text>
<path d="M311.5,15.5 L311.5,218.5" stroke="#333" stroke-width="1.1"/>
<path d="M311.5,15.5 L52.5,15.5 L52.5,218.5 L311.5,218.5" fill="none" stroke="#000" stroke-width="1.3"/>
<g stroke="#000" stroke-width="1"><line x1="52.5" y1="218.6" x2="55.5" y2="218.6"/><line x1="52.5" y1="199.0" x2="55.5" y2="199.0"/><line x1="52.5" y1="179.3" x2="55.5" y2="179.3"/><line x1="52.5" y1="159.7" x2="55.5" y2="159.7"/><line x1="52.5" y1="140.1" x2="55.5" y2="140.1"/><line x1="52.5" y1="120.5" x2="55.5" y2="120.5"/><line x1="52.5" y1="100.8" x2="55.5" y2="100.8"/><line x1="52.5" y1="81.2" x2="55.5" y2="81.2"/><line x1="52.5" y1="61.6" x2="55.5" y2="61.6"/><line x1="52.5" y1="42.0" x2="55.5" y2="42.0"/><line x1="52.5" y1="22.3" x2="55.5" y2="22.3"/><line x1="52.4" y1="218.5" x2="52.4" y2="215.5"/><line x1="95.6" y1="218.5" x2="95.6" y2="215.5"/><line x1="138.7" y1="218.5" x2="138.7" y2="215.5"/><line x1="181.9" y1="218.5" x2="181.9" y2="215.5"/><line x1="225.1" y1="218.5" x2="225.1" y2="215.5"/><line x1="268.2" y1="218.5" x2="268.2" y2="215.5"/><line x1="311.4" y1="218.5" x2="311.4" y2="215.5"/></g>
<g font-size="12" font-weight="bold"><text x="42.1" y="224.6" text-anchor="end" textLength="5.4" lengthAdjust="spacingAndGlyphs">0</text><text x="42.1" y="205.0" text-anchor="end" textLength="10.8" lengthAdjust="spacingAndGlyphs">50</text><text x="42.1" y="185.3" text-anchor="end" textLength="16.2" lengthAdjust="spacingAndGlyphs">100</text><text x="42.1" y="165.7" text-anchor="end" textLength="16.2" lengthAdjust="spacingAndGlyphs">150</text><text x="42.1" y="146.1" text-anchor="end" textLength="16.2" lengthAdjust="spacingAndGlyphs">200</text><text x="42.1" y="126.5" text-anchor="end" textLength="16.2" lengthAdjust="spacingAndGlyphs">250</text><text x="42.1" y="106.8" text-anchor="end" textLength="16.2" lengthAdjust="spacingAndGlyphs">300</text><text x="42.1" y="87.2" text-anchor="end" textLength="16.2" lengthAdjust="spacingAndGlyphs">350</text><text x="42.1" y="67.6" text-anchor="end" textLength="16.2" lengthAdjust="spacingAndGlyphs">400</text><text x="42.1" y="48.0" text-anchor="end" textLength="16.2" lengthAdjust="spacingAndGlyphs">450</text><text x="42.1" y="28.3" text-anchor="end" textLength="16.2" lengthAdjust="spacingAndGlyphs">500</text><text x="52.4" y="236.5" text-anchor="middle" textLength="5.3" lengthAdjust="spacingAndGlyphs">0</text><text x="95.6" y="236.5" text-anchor="middle" textLength="5.3" lengthAdjust="spacingAndGlyphs">1</text><text x="138.7" y="236.5" text-anchor="middle" textLength="5.3" lengthAdjust="spacingAndGlyphs">2</text><text x="181.9" y="236.5" text-anchor="middle" textLength="5.3" lengthAdjust="spacingAndGlyphs">3</text><text x="225.1" y="236.5" text-anchor="middle" textLength="5.3" lengthAdjust="spacingAndGlyphs">4</text><text x="268.2" y="236.5" text-anchor="middle" textLength="5.3" lengthAdjust="spacingAndGlyphs">5</text><text x="311.4" y="236.5" text-anchor="middle" textLength="5.3" lengthAdjust="spacingAndGlyphs">6</text></g>
<text font-size="12.5" font-weight="bold" transform="translate(11,163) rotate(-90)">Temperature, °C</text>
<text x="165.5" y="250.7" font-size="12.5" font-weight="bold">Time, s</text>

<text x="334" y="11.3" font-size="14">(b)</text>
<text x="532.3" y="25.2" font-size="12.5">Quenching efficiency</text>
<rect x="654.8" y="16.2" width="11.2" height="106.5" fill="#94F94E"/>
<rect x="654.8" y="122.7" width="11.2" height="106.8" fill="#FF0000"/>
<rect x="654.8" y="16.2" width="11.2" height="213.3" fill="none" stroke="#9A9A9A" stroke-width="0.7"/>
<path d="M663.5,26.6 L666,26.6 M663.5,219 L666,219" stroke="#555" stroke-width="0.8"/>
<text font-size="12.5" transform="translate(675.4,57.2) rotate(90)">Safe</text>
<text font-size="12.5" transform="translate(675.4,163.8) rotate(90)">Fail</text>

<path d="M400.0,44.8 L407.0,43.2 L415.0,42.4 L430.0,43.6 L450.0,45.3 L470.0,47.0 L500.0,47.5 L520.0,47.5 L545.0,47.0 L559.3,46.0 L569.8,44.8 L579.7,43.3 L589.5,44.8 L597.4,47.2 L603.3,50.7 L611.1,57.6 L619.0,65.5 L627.8,74.3 L634.0,81.0 L639.3,87.6 L643.2,95.5 L644.4,103.3 L643.2,109.3 L640.6,115.0 L635.4,129.2 L629.5,141.0 L623.6,152.7 L617.7,164.5 L610.5,175.3 L598.8,185.8 L586.0,196.0 L573.2,202.4 L560.5,207.5 L547.7,210.4 L540.0,210.7 L500.0,209.6 L470.0,209.2 L421.0,210.0 L407.6,211.2 L381.0,211.7 L368.2,209.5 L360.5,205.1 L355.9,200.0 L352.8,191.0 L351.5,180.8 L351.5,162.8 L354.2,148.0 L358.0,126.0 L362.0,104.0 L366.0,88.5 L369.8,79.4 L374.7,69.5 L379.6,61.7 L382.6,55.7 L386.5,50.8 L393.4,45.9 Z" fill="#92F94C"/>
<defs><filter id="nz" x="0" y="0" width="100%" height="100%"><feTurbulence type="fractalNoise" baseFrequency="0.9" numOctaves="1" seed="3" result="t"/><feColorMatrix in="t" type="matrix" values="0 0 0 0 0.45  0 0 0 0 0.85  0 0 0 0 0.2  0 0 0 -2.2 1.25"/><feComposite in2="SourceGraphic" operator="in"/></filter></defs>
<path d="M389.4,60.0 L386.4,66.0 L381.7,73.4 L377.1,82.7 L373.6,91.1 L369.8,105.7 L359.5,163.5 L359.5,180.3 L360.6,189.2 L362.9,195.9 L365.6,198.8 L370.9,201.9 L376.0,202.7 L376.0,210.0 L381.1,210.9 L407.6,210.4 L421.0,209.2 L470.0,208.4 L540.0,209.9 L547.6,209.6 L552.0,208.6 L552.0,201.2 L558.1,199.8 L569.9,195.1 L581.7,189.2 L593.6,179.7 L604.4,170.0 L610.8,160.5 L628.0,126.0 L633.1,112.2 L635.5,106.8 L636.3,103.1 L635.5,97.9 L632.5,91.9 L627.9,86.2 L605.6,63.4 L600.0,58.5 L390.6,58.5 Z" fill="#88EC46"/>
<path d="M389.4,60.0 L386.4,66.0 L381.7,73.4 L377.1,82.7 L373.6,91.1 L369.8,105.7 L359.5,163.5 L359.5,180.3 L360.6,189.2 L362.9,195.9 L365.6,198.8 L370.9,201.9 L376.0,202.7 L376.0,210.0 L381.1,210.9 L407.6,210.4 L421.0,209.2 L470.0,208.4 L540.0,209.9 L547.6,209.6 L552.0,208.6 L552.0,201.2 L558.1,199.8 L569.9,195.1 L581.7,189.2 L593.6,179.7 L604.4,170.0 L610.8,160.5 L628.0,126.0 L633.1,112.2 L635.5,106.8 L636.3,103.1 L635.5,97.9 L632.5,91.9 L627.9,86.2 L605.6,63.4 L600.0,58.5 L390.6,58.5 Z" fill="#000" filter="url(#nz)" opacity="0.35"/>
<g fill="none" stroke="#9AFB57" stroke-linejoin="round" stroke-linecap="round">
<path d="M398.2,81 L383.6,155 L383.5,174 Q384.5,190.4 398,190.4 L560,190.4 Q576,189 589,177 L600,163 L613,124 L627,99 L606,80.5" stroke-width="4.2"/>
<path d="M384,77.5 L410.5,79.5" stroke-width="5.5"/>
<path d="M381,82 L374.5,140 L374.5,190 Q375.5,202.5 390,202.5 L550,202.5 Q566,201 581,191 L594,181 L605,170 L612,158" stroke-width="4.2"/>
<path d="M407.4,81 L401,112.4 M594.7,157.4 L606,122" stroke-width="1.3"/>
<path d="M434.4,100.7 L424.5,102.7 Q413,108 410.7,114.5 L404.8,132.2 L406.8,152 Q409,160 414.7,162.5 L434.4,165.7 L473.7,166.5 L479.6,169.8 L505.2,171.6 L536.7,169.6 L560.4,163.7 Q572,158 574.1,152 L578,132.2 L576.1,116.5 Q574,104 566,100.5 L434.4,100.7" stroke-width="1.7"/>
<path d="M465.9,114.5 L473.7,110.6 L497.4,108.6 L505.2,112.6 L513.1,113.3 L560.4,114.5 Q568,117 570.2,124.4 L572.2,144 L564.3,157.8 L548.5,165.7 L521,164.5 L505.2,161.8 L493.4,157.8 L489.5,150 L483.6,144 L471.8,142.1 L463.9,136.2 Z" stroke-width="1.7"/>
<path d="M427,57 L427,91 L423.5,99 M446,91 L570,91 M450,93.3 L560,93.3 M426.5,96.8 L570,96.8" stroke-width="1.1"/>
<path d="M585.5,128 L585.5,83.4 L600.7,83.4 L600.7,95.8 L604.8,104 L604.8,128" stroke-width="1.3"/>
<path d="M606.8,78.7 L629.8,100 M612,76 L633,96" stroke-width="1.2" stroke="#86E04C"/>
<path d="M613,108 L613,130" stroke-width="3"/>
</g>
<circle cx="452.3" cy="114.5" r="2.6" fill="#84E24A" stroke="#9AFB57" stroke-width="1"/>
<circle cx="572.2" cy="116.5" r="2.4" fill="#84E24A" stroke="#9AFB57" stroke-width="1"/>


<g stroke="#000" stroke-width="1.2" fill="none"><path d="M339.4,219 L339.4,194 M339.4,219 L363,219"/></g>
<path d="M339.4,189.5 L337.2,195 L341.6,195 Z M367.5,219 L362,216.8 L362,221.2 Z" fill="#000"/>
<text x="339.4" y="184" font-size="10" font-weight="bold" text-anchor="middle">y</text>
<text x="373" y="221" font-size="10" font-weight="bold" text-anchor="middle">x</text>
</svg>
</body></html>
